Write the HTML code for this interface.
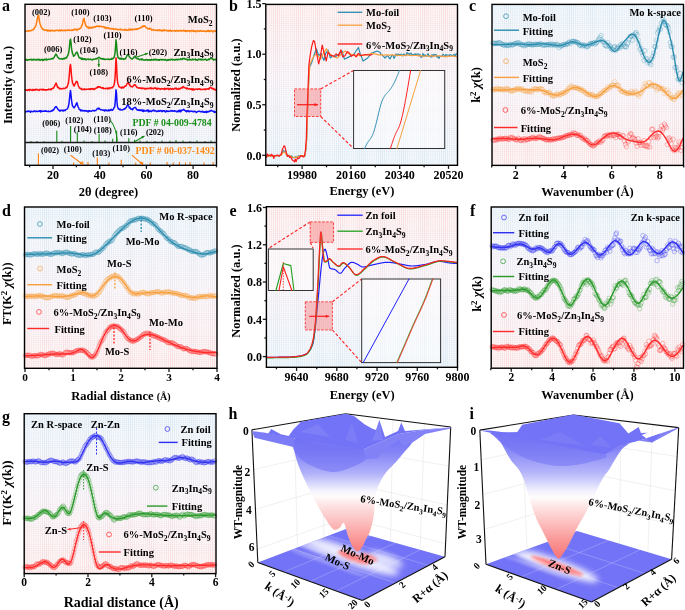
<!DOCTYPE html>
<html><head><meta charset="utf-8"><style>
html,body{margin:0;padding:0;background:#fff;}
svg{display:block;will-change:transform;}
</style></head><body>
<svg width="685" height="610" viewBox="0 0 685 610">
<rect width="685" height="610" fill="#fff"/>
<defs>
<pattern id="gridpat" width="2.1" height="2.1" patternUnits="userSpaceOnUse">
<rect x="0" y="0" width="0.75" height="2.1" fill="#fff" opacity="0.9"/>
<rect x="0" y="0" width="2.1" height="0.6" fill="#fff" opacity="0.55"/>
</pattern>
<mask id="gridmask" maskUnits="userSpaceOnUse" x="0" y="0" width="685" height="610"><rect width="685" height="610" fill="url(#gridpat)"/></mask>
</defs>
<defs><linearGradient id="g1" x1="0" y1="0" x2="0" y2="1"><stop offset="0" stop-color="#fef8f8"/><stop offset="0.45" stop-color="#fef8f8"/><stop offset="0.62" stop-color="#fcfbfd"/><stop offset="1" stop-color="#f7fafd"/></linearGradient></defs>
<rect x="25" y="4.3" width="191.5" height="161" fill="url(#g1)" stroke="none" stroke-width="1" />
<defs><linearGradient id="g2" x1="0" y1="0" x2="0" y2="1"><stop offset="0" stop-color="#f8d4d4"/><stop offset="0.45" stop-color="#f8d4d4"/><stop offset="0.62" stop-color="#ebe1ea"/><stop offset="1" stop-color="#d2e5f1"/></linearGradient></defs>
<rect x="25" y="4.3" width="191.5" height="161" fill="url(#g2)" mask="url(#gridmask)" opacity="0.8"/>
<text x="2" y="11" font-family="'Liberation Serif', serif" font-size="16" font-weight="bold" fill="#000" text-anchor="start" >a</text>
<path d="M25.5,31.24L26,31.31L26.5,31.07L27,30.81L27.5,30.92L28,30.68L28.5,30.99L29,31.38L29.5,30.67L30,30.54L30.5,30.83L31,30.67L31.5,30.45L32,29.93L32.5,30.04L33,30.05L33.5,29.02L34,28.92L34.5,27.87L35,27.35L35.5,26.14L36,25.26L36.5,22.9L37,20.78L37.5,17.76L38,15.55L38.5,14.99L39,18.05L39.5,21.18L40,23.74L40.5,25.02L41,26.7L41.5,27.45L42,28.18L42.5,29.32L43,29.03L43.5,29.57L44,30.1L44.5,29.75L45,30.05L45.5,30.23L46,30.29L46.5,29.91L47,30.42L47.5,30.91L48,29.93L48.5,30.8L49,30.56L49.5,30.31L50,31.25L50.5,30.83L51,30.15L51.5,30.6L52,30.78L52.5,30.51L53,30.82L53.5,30.55L54,30.8L54.5,31.07L55,30.32L55.5,30.62L56,30.38L56.5,30.58L57,30.11L57.5,30.31L58,30.44L58.5,30.81L59,30.88L59.5,30.01L60,30.18L60.5,30.67L61,29.74L61.5,30.27L62,30.39L62.5,30.85L63,30.64L63.5,30.28L64,30.25L64.5,30.28L65,30.89L65.5,30.19L66,30.22L66.5,30.43L67,30.25L67.5,30.21L68,29.87L68.5,30.24L69,30.07L69.5,30.61L70,30.41L70.5,30.15L71,30.36L71.5,29.98L72,30.44L72.5,30.04L73,30.21L73.5,29.52L74,30.05L74.5,29.29L75,29.12L75.5,29.67L76,29.4L76.5,29.7L77,30.34L77.5,29.17L78,29.12L78.5,29.27L79,29.2L79.5,28.74L80,28.43L80.5,28.35L81,27.72L81.5,26.36L82,25.48L82.5,23.71L83,20.89L83.5,19.07L84,18.36L84.5,20.92L85,23.05L85.5,24.84L86,25.8L86.5,26.73L87,26.56L87.5,27.16L88,27.87L88.5,27.11L89,28.2L89.5,27.3L90,28.15L90.5,27.54L91,28.04L91.5,27.73L92,27.05L92.5,27.91L93,27.86L93.5,27.21L94,27.01L94.5,26.92L95,26.51L95.5,27.11L96,26.42L96.5,26.49L97,26.15L97.5,26.14L98,25.86L98.5,26.72L99,26.23L99.5,26.64L100,26.35L100.5,26.17L101,26.39L101.5,26.41L102,26.73L102.5,26.72L103,26.88L103.5,26.64L104,26.98L104.5,27.98L105,27.31L105.5,27.31L106,27.93L106.5,28.43L107,27.55L107.5,28.1L108,28.06L108.5,27.76L109,28.73L109.5,28.55L110,28.67L110.5,28.46L111,28.95L111.5,28.67L112,28.87L112.5,28.59L113,28.61L113.5,29.55L114,28.95L114.5,29.28L115,29.2L115.5,29.1L116,29.11L116.5,29.54L117,29.24L117.5,29.32L118,29.4L118.5,29.83L119,29.68L119.5,29.59L120,29.28L120.5,29.02L121,29.86L121.5,29.89L122,29.52L122.5,29.78L123,29.88L123.5,29.92L124,29.96L124.5,29.5L125,30.2L125.5,29.25L126,30L126.5,29.88L127,30.02L127.5,30.38L128,30.24L128.5,29.33L129,29.14L129.5,30.02L130,29.37L130.5,29.72L131,30.01L131.5,29.13L132,28.96L132.5,29.77L133,29.68L133.5,29.55L134,29.62L134.5,29.27L135,29L135.5,29.42L136,29.07L136.5,28.76L137,29.43L137.5,29.12L138,29.16L138.5,28.52L139,28.45L139.5,28.11L140,27.89L140.5,27.97L141,27.29L141.5,27.31L142,26.91L142.5,27.15L143,25.67L143.5,26.33L144,26.01L144.5,26.23L145,26.04L145.5,26.78L146,27.61L146.5,27.71L147,28.12L147.5,28.3L148,29.07L148.5,28.89L149,28.32L149.5,29.02L150,28.71L150.5,28.38L151,29.44L151.5,30.19L152,29.81L152.5,29.46L153,29.6L153.5,30.38L154,30.09L154.5,30.09L155,30.1L155.5,30.17L156,30.47L156.5,30.41L157,30.32L157.5,29.91L158,30.47L158.5,30.08L159,30.72L159.5,29.91L160,30.33L160.5,30.39L161,29.95L161.5,31.03L162,30.95L162.5,30.3L163,30.74L163.5,30.62L164,29.58L164.5,30.6L165,30.5L165.5,30.56L166,30.17L166.5,30.46L167,30.51L167.5,31L168,30.71L168.5,30.6L169,31.15L169.5,30.43L170,30.49L170.5,30L171,31.2L171.5,30.99L172,30.99L172.5,30.91L173,30.72L173.5,30.77L174,30.61L174.5,30.64L175,30.74L175.5,31.25L176,30.93L176.5,30.72L177,30.55L177.5,30.53L178,31.33L178.5,30.95L179,30.8L179.5,30.67L180,30.41L180.5,30.78L181,31.12L181.5,30.68L182,30.74L182.5,30.75L183,30.88L183.5,30.29L184,30.77L184.5,30.56L185,31.18L185.5,30.6L186,31.08L186.5,31.42L187,30.78L187.5,30.69L188,30.98L188.5,30.91L189,30.57L189.5,31.09L190,31.64L190.5,30.85L191,30.88L191.5,30.59L192,31.07L192.5,30.53L193,30.59L193.5,31.43L194,30.67L194.5,31.37L195,31.53L195.5,31.1L196,31.21L196.5,31.7L197,30.96L197.5,30.83L198,30.57L198.5,31.06L199,31.57L199.5,31.39L200,30.74L200.5,30.77L201,30.9L201.5,31.19L202,31.02L202.5,31.17L203,31.21L203.5,31.01L204,31.1L204.5,31.19L205,31.1L205.5,31.31L206,31.8L206.5,31.35L207,31.17L207.5,30.57L208,31.3L208.5,30.49L209,30.68L209.5,31.48L210,31.44L210.5,31.14L211,30.6L211.5,31.08L212,30.98L212.5,31.44L213,32.02L213.5,31.31L214,30.97L214.5,30.84L215,31.23L215.5,31.2L216,30.86" fill="none" stroke="#ff7f0e" stroke-width="1.5" stroke-linejoin="round" stroke-linecap="round" />
<path d="M25.5,59.8L26,59.36L26.5,60.15L27,60.13L27.5,60.14L28,59.59L28.5,59.93L29,59.71L29.5,59.62L30,59.63L30.5,59.29L31,59.24L31.5,60.02L32,59.68L32.5,59.82L33,60.09L33.5,59.13L34,59.46L34.5,59.8L35,59.87L35.5,59.6L36,60.09L36.5,59.8L37,59.3L37.5,59.39L38,60L38.5,59.87L39,59.04L39.5,60.18L40,59.91L40.5,60.17L41,59.56L41.5,59.58L42,59.28L42.5,60.56L43,59.6L43.5,60.21L44,59.42L44.5,59.7L45,59.04L45.5,59.48L46,59.95L46.5,59.15L47,59.94L47.5,59.67L48,59.16L48.5,59.32L49,59.3L49.5,59.4L50,59.18L50.5,59.02L51,59.12L51.5,58.77L52,58.54L52.5,58.8L53,58.87L53.5,57.66L54,57.67L54.5,56.66L55,55.48L55.5,54.97L56,53.92L56.5,55.17L57,55.5L57.5,56.95L58,57.49L58.5,57.81L59,58.61L59.5,58.57L60,58.99L60.5,58.85L61,58.55L61.5,58.93L62,58.99L62.5,59.29L63,58.61L63.5,58.85L64,58.19L64.5,58.91L65,58.16L65.5,57.72L66,58.07L66.5,58.12L67,56.69L67.5,56.1L68,55.1L68.5,53.2L69,50.86L69.5,45.97L70,40.63L70.5,39.12L71,42.53L71.5,48.11L72,51.25L72.5,53.34L73,54.34L73.5,56.24L74,55.65L74.5,55.63L75,54.92L75.5,53.97L76,52.72L76.5,52.67L77,52.13L77.5,53.31L78,54.92L78.5,55.93L79,57.46L79.5,58.04L80,57.82L80.5,57.96L81,58.54L81.5,59.31L82,57.97L82.5,59.24L83,58.76L83.5,59.57L84,58.88L84.5,59.2L85,58.81L85.5,59.03L86,59.88L86.5,59.71L87,59.3L87.5,59.15L88,58.8L88.5,59.34L89,59.47L89.5,59.46L90,59.45L90.5,59.09L91,59.46L91.5,59.46L92,59.91L92.5,60.1L93,59.37L93.5,59.12L94,59.32L94.5,59.08L95,58.96L95.5,59.09L96,58.61L96.5,59.01L97,58.52L97.5,58.34L98,57.87L98.5,57.45L99,57.35L99.5,57.8L100,58L100.5,58.58L101,58.75L101.5,58.47L102,59.12L102.5,58.73L103,59.06L103.5,59.23L104,58.65L104.5,59.44L105,59.49L105.5,59.4L106,59.31L106.5,59.34L107,59.13L107.5,59.37L108,59.26L108.5,59.47L109,58.99L109.5,59.47L110,59.4L110.5,59.24L111,59.07L111.5,59.32L112,58.41L112.5,58.97L113,58.61L113.5,58.18L114,57.47L114.5,55.73L115,53.06L115.5,47.37L116,39.65L116.5,43.75L117,50.7L117.5,55.24L118,57.26L118.5,58.13L119,58.38L119.5,58.07L120,59.14L120.5,58.89L121,58.13L121.5,59.19L122,58.55L122.5,58.61L123,58.81L123.5,59.41L124,58.73L124.5,58.79L125,59.08L125.5,58.69L126,57.61L126.5,56.86L127,55.57L127.5,54.81L128,54.75L128.5,55.18L129,56.03L129.5,57.25L130,57.32L130.5,58.04L131,58.61L131.5,58.73L132,58.97L132.5,58.71L133,58.31L133.5,58.2L134,57.14L134.5,56.18L135,56.72L135.5,57.11L136,58.03L136.5,57.9L137,58.73L137.5,58.88L138,58.94L138.5,58.55L139,59.3L139.5,59.79L140,59.65L140.5,59.34L141,59.57L141.5,59.86L142,58.65L142.5,59.59L143,59.83L143.5,59.89L144,60.26L144.5,60.07L145,59.79L145.5,59.79L146,59.97L146.5,59.51L147,59.69L147.5,60.03L148,60.4L148.5,59.66L149,59.7L149.5,59.79L150,60.2L150.5,59.72L151,60.24L151.5,59.39L152,59.67L152.5,59.67L153,60.01L153.5,60.11L154,59.21L154.5,59.42L155,59.86L155.5,59.51L156,59.21L156.5,60.11L157,59.92L157.5,59.92L158,59.58L158.5,60.11L159,59.67L159.5,60.14L160,59.43L160.5,59.45L161,59.82L161.5,59.51L162,59.99L162.5,59.84L163,59.43L163.5,59.78L164,59.63L164.5,60.07L165,59.53L165.5,59.6L166,60.17L166.5,60.53L167,60.45L167.5,59.77L168,59.82L168.5,60.28L169,59.7L169.5,59.4L170,59.78L170.5,59.9L171,59.45L171.5,59.16L172,59.23L172.5,59.96L173,59.46L173.5,59.67L174,59.79L174.5,59.92L175,59.58L175.5,59.86L176,59.36L176.5,59.53L177,59.29L177.5,60.02L178,59.59L178.5,59.31L179,59.4L179.5,59.39L180,59.65L180.5,58.75L181,58.82L181.5,58.89L182,59.69L182.5,58.89L183,58.27L183.5,58.43L184,58.96L184.5,58.37L185,58.58L185.5,59.36L186,59.3L186.5,59.5L187,59.19L187.5,60.12L188,60.1L188.5,59.75L189,59.82L189.5,58.9L190,59.86L190.5,59.58L191,59.82L191.5,59.92L192,59.57L192.5,59.11L193,59.83L193.5,59.45L194,59.6L194.5,59.51L195,59.6L195.5,58.92L196,60.15L196.5,59.82L197,60.12L197.5,60.42L198,59.74L198.5,59.1L199,59.42L199.5,59.31L200,59.55L200.5,59.75L201,59.02L201.5,59.84L202,59.19L202.5,59.81L203,59.67L203.5,59.59L204,59.66L204.5,59.48L205,59.44L205.5,59.05L206,59.6L206.5,60.23L207,60.23L207.5,59.95L208,59.66L208.5,59.08L209,59.69L209.5,59L210,58.8L210.5,58.55L211,58.62L211.5,58.5L212,58.8L212.5,58.64L213,59.05L213.5,60.12L214,59.39L214.5,59.41L215,59.73L215.5,59.84L216,59.23" fill="none" stroke="#168a16" stroke-width="1.5" stroke-linejoin="round" stroke-linecap="round" />
<path d="M25.5,89.88L26,90.27L26.5,90.04L27,89.99L27.5,90.49L28,89.71L28.5,89.97L29,89.76L29.5,90.46L30,89.25L30.5,89.7L31,89.75L31.5,90.16L32,90.14L32.5,90.42L33,89.38L33.5,90.19L34,89.82L34.5,89.69L35,90.11L35.5,89.59L36,89.18L36.5,89.78L37,89.38L37.5,89.67L38,90.03L38.5,90L39,90.44L39.5,89.81L40,89.34L40.5,89.61L41,89.54L41.5,89.43L42,90L42.5,89.62L43,89.14L43.5,90.07L44,89.78L44.5,89.93L45,89.83L45.5,90L46,89.77L46.5,90.17L47,89.87L47.5,89.83L48,89.81L48.5,89.12L49,89.54L49.5,89.45L50,89.56L50.5,88.94L51,89.89L51.5,89.24L52,88.62L52.5,88.23L53,88.43L53.5,88.07L54,87.22L54.5,86.58L55,85.06L55.5,84.11L56,83L56.5,83.88L57,85.57L57.5,87.36L58,86.99L58.5,87.78L59,88.04L59.5,88.87L60,88.37L60.5,88.71L61,88.94L61.5,88.64L62,88.65L62.5,88.8L63,88.19L63.5,88.35L64,88.62L64.5,88.68L65,88.38L65.5,87.59L66,87.72L66.5,87.72L67,87.01L67.5,85.87L68,84.19L68.5,82.53L69,78.54L69.5,72.77L70,66.22L70.5,64.56L71,68.97L71.5,75.73L72,79.69L72.5,82.9L73,83.9L73.5,84.85L74,86.03L74.5,85.23L75,84.11L75.5,83.11L76,81.89L76.5,81.42L77,81.4L77.5,82.52L78,84.66L78.5,86.05L79,87L79.5,88.07L80,88.18L80.5,88.66L81,88.22L81.5,89.08L82,89.64L82.5,89.27L83,89.17L83.5,89.19L84,89.8L84.5,88.88L85,89.19L85.5,89.41L86,89.52L86.5,89.11L87,89.37L87.5,89.16L88,89.29L88.5,89.19L89,88.82L89.5,89.19L90,89.48L90.5,88.81L91,89.03L91.5,89.3L92,88.65L92.5,89.04L93,88.54L93.5,89.23L94,89.55L94.5,89.33L95,88.41L95.5,88.57L96,88.14L96.5,87.88L97,88.07L97.5,86.73L98,87.24L98.5,86.64L99,87.11L99.5,86.83L100,86.79L100.5,87.43L101,87.87L101.5,87.85L102,88.2L102.5,87.98L103,87.52L103.5,88.66L104,88.65L104.5,88.49L105,88.49L105.5,88.84L106,88.31L106.5,88.22L107,88.39L107.5,88.85L108,87.91L108.5,88.78L109,88.09L109.5,87.86L110,88.61L110.5,88.04L111,87.5L111.5,87.67L112,87.9L112.5,87.69L113,86.68L113.5,86.29L114,85.25L114.5,82.67L115,78.75L115.5,69.53L116,57.77L116.5,64.08L117,75.68L117.5,81.43L118,83.92L118.5,85.35L119,86.67L119.5,86.81L120,87.34L120.5,87.62L121,87.51L121.5,88.16L122,87.08L122.5,87.63L123,87.17L123.5,87.83L124,87.63L124.5,86.13L125,86.18L125.5,86.35L126,85.83L126.5,85.04L127,83.82L127.5,83.11L128,82.79L128.5,82.92L129,84.21L129.5,84L130,85.77L130.5,85.73L131,86.8L131.5,86.61L132,86.47L132.5,86.88L133,86.25L133.5,85.86L134,84.97L134.5,84.75L135,84.71L135.5,85.54L136,86.03L136.5,87.13L137,87.23L137.5,87.49L138,87.92L138.5,88.24L139,87.85L139.5,87.97L140,88.06L140.5,88.2L141,87.9L141.5,88.61L142,88.15L142.5,88.48L143,88.05L143.5,88.49L144,88.52L144.5,88.25L145,89.13L145.5,88.57L146,89.07L146.5,88.8L147,88.25L147.5,88.36L148,88.66L148.5,88.54L149,88.55L149.5,88.44L150,87.92L150.5,88.49L151,87.8L151.5,88.72L152,88.34L152.5,88.35L153,88.54L153.5,88.72L154,88.13L154.5,88.03L155,88.28L155.5,87.95L156,88.33L156.5,89.23L157,88.32L157.5,88.92L158,88.22L158.5,88.82L159,88.61L159.5,88.71L160,88.93L160.5,89.36L161,88.82L161.5,88.8L162,88.42L162.5,88.98L163,88.69L163.5,89.08L164,88.78L164.5,89.41L165,88.11L165.5,88.71L166,89.13L166.5,88.7L167,88.56L167.5,88.75L168,88.36L168.5,88.89L169,89.71L169.5,89.26L170,88.48L170.5,88.56L171,88.73L171.5,89.23L172,88.59L172.5,88.64L173,89.19L173.5,89.19L174,88.75L174.5,88.49L175,88.34L175.5,88.63L176,88.09L176.5,89.12L177,88.62L177.5,89L178,89.46L178.5,89.18L179,88.32L179.5,88.97L180,88.99L180.5,88.22L181,87.99L181.5,88.09L182,87.31L182.5,88.07L183,86.42L183.5,86.73L184,87.1L184.5,87.38L185,87.85L185.5,88.18L186,88.25L186.5,88.9L187,87.89L187.5,88.75L188,88.58L188.5,88.94L189,89.02L189.5,88.67L190,88.8L190.5,89.33L191,89.2L191.5,88.86L192,89.83L192.5,89.94L193,88.64L193.5,89.27L194,90.06L194.5,89.47L195,89.28L195.5,89.14L196,89.03L196.5,89.16L197,89.05L197.5,89.51L198,89.12L198.5,89.11L199,88.85L199.5,89.26L200,88.97L200.5,89.22L201,89.65L201.5,89.42L202,89.47L202.5,89.42L203,89.31L203.5,89.25L204,89.18L204.5,89.54L205,88.88L205.5,89.72L206,89.23L206.5,88.93L207,88.97L207.5,88.85L208,89.06L208.5,88.63L209,89.13L209.5,88.25L210,87.5L210.5,87.83L211,87.3L211.5,88.09L212,88.69L212.5,88.8L213,88.32L213.5,88.69L214,89.71L214.5,89.3L215,89.27L215.5,89.7L216,90.23" fill="none" stroke="#ff1010" stroke-width="1.5" stroke-linejoin="round" stroke-linecap="round" />
<path d="M25.5,111.91L26,111.51L26.5,111.58L27,111.67L27.5,111.24L28,111.08L28.5,111.47L29,111.12L29.5,111.43L30,111.48L30.5,112.27L31,111.15L31.5,111.4L32,111.39L32.5,111.59L33,111.81L33.5,111.27L34,111.15L34.5,110.86L35,111.11L35.5,111.62L36,111.44L36.5,111.07L37,111.29L37.5,111.43L38,111.59L38.5,111.21L39,111.32L39.5,110.77L40,111L40.5,111.96L41,110.63L41.5,111.27L42,111.46L42.5,111.24L43,111.09L43.5,111.34L44,111.35L44.5,111.32L45,110.68L45.5,111.27L46,111.01L46.5,111.1L47,111.36L47.5,111.48L48,111.55L48.5,111.04L49,111.5L49.5,111.55L50,111.49L50.5,111.53L51,110.92L51.5,110.81L52,111.04L52.5,110.11L53,110.43L53.5,109.84L54,109.41L54.5,108.22L55,107.55L55.5,106.81L56,106.61L56.5,107.13L57,107.78L57.5,108.69L58,109.15L58.5,110.04L59,110.11L59.5,110.61L60,111.15L60.5,110.61L61,110.14L61.5,110.39L62,110.19L62.5,110.26L63,111.1L63.5,110.67L64,109.98L64.5,110.63L65,110.7L65.5,109.94L66,109.58L66.5,109.34L67,109.06L67.5,108.46L68,107.56L68.5,105.84L69,103.03L69.5,98.72L70,93.23L70.5,90.53L71,94.81L71.5,99.99L72,103.28L72.5,105.83L73,106.55L73.5,106.92L74,107.87L74.5,107.33L75,106.48L75.5,105.61L76,104.35L76.5,103.33L77,102.87L77.5,104.94L78,106.53L78.5,107.54L79,108.8L79.5,109.75L80,109.58L80.5,109.65L81,110.97L81.5,110.27L82,110.12L82.5,110.72L83,110.86L83.5,110.52L84,111.09L84.5,110.68L85,110.55L85.5,110.96L86,111.18L86.5,110.7L87,111.04L87.5,110.89L88,111.91L88.5,110.66L89,111.39L89.5,110.87L90,110.82L90.5,111.1L91,111.13L91.5,111.23L92,110.86L92.5,110.49L93,110.46L93.5,110.75L94,110.69L94.5,110.88L95,110.4L95.5,110.46L96,110.42L96.5,109.69L97,108.81L97.5,108.58L98,108.18L98.5,109.04L99,108.15L99.5,109.04L100,109.08L100.5,109.79L101,109.83L101.5,109.68L102,109.84L102.5,110.09L103,110.24L103.5,110.08L104,110.31L104.5,110.94L105,109.81L105.5,110.52L106,110.13L106.5,110.52L107,110.75L107.5,110.43L108,110.71L108.5,109.86L109,110.77L109.5,110.14L110,110.52L110.5,110.31L111,109.26L111.5,109.79L112,109.99L112.5,110.25L113,109.51L113.5,109.04L114,107.68L114.5,107.26L115,104.49L115.5,97.71L116,89.78L116.5,93.56L117,102.16L117.5,106.7L118,107.83L118.5,108.96L119,109.23L119.5,109L120,110.01L120.5,109.22L121,109.64L121.5,109.84L122,110.05L122.5,109.85L123,109.78L123.5,109.28L124,108.95L124.5,109.23L125,108.68L125.5,108.11L126,107.61L126.5,107.18L127,105.84L127.5,105.21L128,104.75L128.5,105.75L129,106.64L129.5,108.06L130,107.53L130.5,108.31L131,109.21L131.5,109.02L132,109.08L132.5,109.78L133,108.91L133.5,108.29L134,107.68L134.5,107.61L135,107.42L135.5,107.39L136,108.29L136.5,109.41L137,109.82L137.5,109.65L138,110.27L138.5,110.38L139,109.65L139.5,110.24L140,110.55L140.5,110.25L141,109.75L141.5,110.43L142,110.82L142.5,111.14L143,109.84L143.5,111.55L144,110.26L144.5,111.01L145,111.12L145.5,111.05L146,110.77L146.5,110.33L147,110.97L147.5,110.51L148,109.89L148.5,111.78L149,111.05L149.5,111.45L150,110.51L150.5,111.35L151,111.4L151.5,111.4L152,110.86L152.5,110.46L153,110.83L153.5,110.13L154,110.31L154.5,110.95L155,110.58L155.5,110.88L156,110.91L156.5,111.63L157,111.42L157.5,110.96L158,111.41L158.5,110.72L159,110.89L159.5,111.33L160,110.59L160.5,110.93L161,110.58L161.5,111.09L162,111.63L162.5,110.8L163,111.15L163.5,110.77L164,110.69L164.5,110.67L165,111.62L165.5,111.94L166,111.29L166.5,110.88L167,111.38L167.5,111.03L168,111.43L168.5,111.26L169,111.26L169.5,111.38L170,110.98L170.5,111.04L171,110.59L171.5,111.04L172,110.7L172.5,111.15L173,110.87L173.5,111.25L174,111.37L174.5,110.72L175,110.93L175.5,110.88L176,111.47L176.5,111.8L177,111.5L177.5,111.06L178,111.68L178.5,110.61L179,111.64L179.5,110.84L180,110.03L180.5,111.85L181,111.36L181.5,110.29L182,110.5L182.5,110.12L183,110L183.5,109.33L184,109.67L184.5,110.29L185,110.47L185.5,111.05L186,110.85L186.5,111.8L187,110.84L187.5,111.26L188,110.57L188.5,110.86L189,111.8L189.5,111.04L190,111.59L190.5,111.41L191,111.09L191.5,111.35L192,111.31L192.5,111.34L193,111.79L193.5,111.77L194,111.35L194.5,111.25L195,111.67L195.5,111.55L196,111.96L196.5,112.54L197,111.91L197.5,111.61L198,111.57L198.5,111.34L199,111.33L199.5,111.31L200,111.53L200.5,111.52L201,111.94L201.5,111.54L202,111.61L202.5,111.26L203,112.26L203.5,111.87L204,112.31L204.5,111.96L205,112.2L205.5,111.58L206,111.9L206.5,112.57L207,111.16L207.5,111.96L208,112.07L208.5,111.54L209,111.53L209.5,111.55L210,110.69L210.5,110.91L211,110.39L211.5,110.54L212,110.74L212.5,111.11L213,111.39L213.5,111.64L214,111.07L214.5,112.37L215,112.14L215.5,112.04L216,111.69" fill="none" stroke="#1010ff" stroke-width="1.5" stroke-linejoin="round" stroke-linecap="round" />
<line x1="56.8" y1="142.5" x2="56.8" y2="130.7" stroke="#168a16" stroke-width="1.1" />
<line x1="70.6" y1="142.5" x2="70.6" y2="126" stroke="#168a16" stroke-width="1.1" />
<line x1="77.3" y1="142.5" x2="77.3" y2="132.2" stroke="#168a16" stroke-width="1.1" />
<line x1="99.1" y1="142.5" x2="99.1" y2="133.7" stroke="#168a16" stroke-width="1.1" />
<line x1="112.7" y1="142.5" x2="112.7" y2="138.8" stroke="#168a16" stroke-width="1.1" />
<line x1="116.6" y1="142.5" x2="116.6" y2="130.7" stroke="#168a16" stroke-width="1.1" />
<line x1="128.8" y1="142.5" x2="128.8" y2="138.3" stroke="#168a16" stroke-width="1.1" />
<line x1="134.5" y1="142.5" x2="134.5" y2="139.8" stroke="#168a16" stroke-width="1.1" />
<line x1="31" y1="142.5" x2="31" y2="141" stroke="#168a16" stroke-width="1.1" />
<line x1="37" y1="142.5" x2="37" y2="141" stroke="#168a16" stroke-width="1.1" />
<line x1="44" y1="142.5" x2="44" y2="141.2" stroke="#168a16" stroke-width="1.1" />
<line x1="62" y1="142.5" x2="62" y2="140.8" stroke="#168a16" stroke-width="1.1" />
<line x1="84" y1="142.5" x2="84" y2="140.5" stroke="#168a16" stroke-width="1.1" />
<line x1="92" y1="142.5" x2="92" y2="141" stroke="#168a16" stroke-width="1.1" />
<line x1="105" y1="142.5" x2="105" y2="140.5" stroke="#168a16" stroke-width="1.1" />
<line x1="140" y1="142.5" x2="140" y2="140.5" stroke="#168a16" stroke-width="1.1" />
<line x1="147" y1="142.5" x2="147" y2="140.8" stroke="#168a16" stroke-width="1.1" />
<line x1="155" y1="142.5" x2="155" y2="141" stroke="#168a16" stroke-width="1.1" />
<line x1="162" y1="142.5" x2="162" y2="140.5" stroke="#168a16" stroke-width="1.1" />
<line x1="170" y1="142.5" x2="170" y2="140.8" stroke="#168a16" stroke-width="1.1" />
<line x1="176" y1="142.5" x2="176" y2="140" stroke="#168a16" stroke-width="1.1" />
<line x1="183" y1="142.5" x2="183" y2="140.5" stroke="#168a16" stroke-width="1.1" />
<line x1="190" y1="142.5" x2="190" y2="141" stroke="#168a16" stroke-width="1.1" />
<line x1="197" y1="142.5" x2="197" y2="140.6" stroke="#168a16" stroke-width="1.1" />
<line x1="205" y1="142.5" x2="205" y2="141" stroke="#168a16" stroke-width="1.1" />
<line x1="211" y1="142.5" x2="211" y2="140.5" stroke="#168a16" stroke-width="1.1" />
<line x1="38.4" y1="165.3" x2="38.4" y2="153.6" stroke="#ff7f0e" stroke-width="1.1" />
<line x1="73.6" y1="165.3" x2="73.6" y2="162.5" stroke="#ff7f0e" stroke-width="1.1" />
<line x1="82.8" y1="165.3" x2="82.8" y2="161.5" stroke="#ff7f0e" stroke-width="1.1" />
<line x1="88" y1="165.3" x2="88" y2="162" stroke="#ff7f0e" stroke-width="1.1" />
<line x1="97.3" y1="165.3" x2="97.3" y2="157.6" stroke="#ff7f0e" stroke-width="1.1" />
<line x1="108.9" y1="165.3" x2="108.9" y2="162.5" stroke="#ff7f0e" stroke-width="1.1" />
<line x1="121.2" y1="165.3" x2="121.2" y2="159.8" stroke="#ff7f0e" stroke-width="1.1" />
<line x1="135.7" y1="165.3" x2="135.7" y2="162.5" stroke="#ff7f0e" stroke-width="1.1" />
<line x1="142.6" y1="165.3" x2="142.6" y2="162" stroke="#ff7f0e" stroke-width="1.1" />
<line x1="150.3" y1="165.3" x2="150.3" y2="162.5" stroke="#ff7f0e" stroke-width="1.1" />
<line x1="167.1" y1="165.3" x2="167.1" y2="162" stroke="#ff7f0e" stroke-width="1.1" />
<line x1="173.3" y1="165.3" x2="173.3" y2="162.5" stroke="#ff7f0e" stroke-width="1.1" />
<line x1="179.4" y1="165.3" x2="179.4" y2="162" stroke="#ff7f0e" stroke-width="1.1" />
<line x1="185.5" y1="165.3" x2="185.5" y2="162.5" stroke="#ff7f0e" stroke-width="1.1" />
<line x1="190" y1="165.3" x2="190" y2="162" stroke="#ff7f0e" stroke-width="1.1" />
<line x1="204" y1="165.3" x2="204" y2="162.5" stroke="#ff7f0e" stroke-width="1.1" />
<line x1="213.1" y1="165.3" x2="213.1" y2="162" stroke="#ff7f0e" stroke-width="1.1" />
<rect x="25" y="4.3" width="191.5" height="161" fill="none" stroke="#000" stroke-width="1.4" />
<line x1="25" y1="142.5" x2="216.5" y2="142.5" stroke="#1a1a1a" stroke-width="1.3" />
<line x1="53" y1="165.3" x2="53" y2="168.9" stroke="#1a1a1a" stroke-width="1.3" />
<line x1="99.7" y1="165.3" x2="99.7" y2="168.9" stroke="#1a1a1a" stroke-width="1.3" />
<line x1="146.4" y1="165.3" x2="146.4" y2="168.9" stroke="#1a1a1a" stroke-width="1.3" />
<line x1="193.1" y1="165.3" x2="193.1" y2="168.9" stroke="#1a1a1a" stroke-width="1.3" />
<line x1="29.65" y1="165.3" x2="29.65" y2="167.3" stroke="#1a1a1a" stroke-width="1.3" />
<line x1="76.35" y1="165.3" x2="76.35" y2="167.3" stroke="#1a1a1a" stroke-width="1.3" />
<line x1="123.05" y1="165.3" x2="123.05" y2="167.3" stroke="#1a1a1a" stroke-width="1.3" />
<line x1="169.75" y1="165.3" x2="169.75" y2="167.3" stroke="#1a1a1a" stroke-width="1.3" />
<line x1="216.45" y1="165.3" x2="216.45" y2="167.3" stroke="#1a1a1a" stroke-width="1.3" />
<text x="53" y="179.2" font-family="'Liberation Serif', serif" font-size="12" font-weight="bold" fill="#000" text-anchor="middle" >20</text>
<text x="99.7" y="179.2" font-family="'Liberation Serif', serif" font-size="12" font-weight="bold" fill="#000" text-anchor="middle" >40</text>
<text x="146.4" y="179.2" font-family="'Liberation Serif', serif" font-size="12" font-weight="bold" fill="#000" text-anchor="middle" >60</text>
<text x="193.1" y="179.2" font-family="'Liberation Serif', serif" font-size="12" font-weight="bold" fill="#000" text-anchor="middle" >80</text>
<text x="108.5" y="195.5" font-family="'Liberation Serif', serif" font-size="12.5" font-weight="bold" fill="#000" text-anchor="middle" >2θ (degree)</text>
<text x="12.3" y="85" font-family="'Liberation Serif', serif" font-size="12.5" font-weight="bold" fill="#000" text-anchor="middle" transform="rotate(-90 12.3 85)" >Intensity (a.u.)</text>
<text x="41.2" y="14.7" font-family="'Liberation Serif', serif" font-size="8.5" font-weight="bold" fill="#000" text-anchor="middle" >(002)</text>
<text x="80.5" y="14.5" font-family="'Liberation Serif', serif" font-size="8.5" font-weight="bold" fill="#000" text-anchor="middle" >(100)</text>
<text x="102.5" y="21" font-family="'Liberation Serif', serif" font-size="8.5" font-weight="bold" fill="#000" text-anchor="middle" >(103)</text>
<text x="143.5" y="20.8" font-family="'Liberation Serif', serif" font-size="8.5" font-weight="bold" fill="#000" text-anchor="middle" >(110)</text>
<text x="53.1" y="51.5" font-family="'Liberation Serif', serif" font-size="8.5" font-weight="bold" fill="#000" text-anchor="middle" >(006)</text>
<text x="82.5" y="42.3" font-family="'Liberation Serif', serif" font-size="8.5" font-weight="bold" fill="#000" text-anchor="middle" >(102)</text>
<text x="89" y="53" font-family="'Liberation Serif', serif" font-size="8.5" font-weight="bold" fill="#000" text-anchor="middle" >(104)</text>
<text x="112.6" y="38.3" font-family="'Liberation Serif', serif" font-size="8.5" font-weight="bold" fill="#000" text-anchor="middle" >(110)</text>
<text x="128.5" y="55" font-family="'Liberation Serif', serif" font-size="8.5" font-weight="bold" fill="#000" text-anchor="middle" >(116)</text>
<text x="157.9" y="55" font-family="'Liberation Serif', serif" font-size="8.5" font-weight="bold" fill="#000" text-anchor="middle" >(202)</text>
<text x="98.8" y="75" font-family="'Liberation Serif', serif" font-size="8.5" font-weight="bold" fill="#000" text-anchor="middle" >(108)</text>
<line x1="98.8" y1="59" x2="98.8" y2="67" stroke="#168a16" stroke-width="1.1" />
<path d="M98.8,67L100.15,64L97.45,64Z" fill="#168a16"/>
<line x1="136" y1="57.3" x2="148" y2="53.2" stroke="#168a16" stroke-width="1.1" />
<path d="M148,53.2L144.72,52.89L145.6,55.45Z" fill="#168a16"/>
<text x="212.5" y="23" font-family="'Liberation Serif', serif" font-size="10.5" font-weight="bold" fill="#000" text-anchor="end" >MoS<tspan dy="2.94" font-size="7.56">2</tspan><tspan dy="-2.94"></tspan></text>
<text x="213.5" y="55.5" font-family="'Liberation Serif', serif" font-size="10.5" font-weight="bold" fill="#000" text-anchor="end" >Zn<tspan dy="2.94" font-size="7.56">3</tspan><tspan dy="-2.94">In</tspan><tspan dy="2.94" font-size="7.56">4</tspan><tspan dy="-2.94">S</tspan><tspan dy="2.94" font-size="7.56">9</tspan><tspan dy="-2.94"></tspan></text>
<text x="213.5" y="82.7" font-family="'Liberation Serif', serif" font-size="10.5" font-weight="bold" fill="#000" text-anchor="end" >6%-MoS<tspan dy="2.94" font-size="7.56">2</tspan><tspan dy="-2.94">/Zn</tspan><tspan dy="2.94" font-size="7.56">3</tspan><tspan dy="-2.94">In</tspan><tspan dy="2.94" font-size="7.56">4</tspan><tspan dy="-2.94">S</tspan><tspan dy="2.94" font-size="7.56">9</tspan><tspan dy="-2.94"></tspan></text>
<text x="213.5" y="105.2" font-family="'Liberation Serif', serif" font-size="10.5" font-weight="bold" fill="#000" text-anchor="end" >18%-MoS<tspan dy="2.94" font-size="7.56">2</tspan><tspan dy="-2.94">/Zn</tspan><tspan dy="2.94" font-size="7.56">3</tspan><tspan dy="-2.94">In</tspan><tspan dy="2.94" font-size="7.56">4</tspan><tspan dy="-2.94">S</tspan><tspan dy="2.94" font-size="7.56">9</tspan><tspan dy="-2.94"></tspan></text>
<text x="51.3" y="126" font-family="'Liberation Serif', serif" font-size="8.3" font-weight="bold" fill="#000" text-anchor="middle" >(006)</text>
<text x="74.3" y="122.8" font-family="'Liberation Serif', serif" font-size="8.3" font-weight="bold" fill="#000" text-anchor="middle" >(102)</text>
<text x="82.8" y="132" font-family="'Liberation Serif', serif" font-size="8.3" font-weight="bold" fill="#000" text-anchor="middle" >(104)</text>
<text x="102.8" y="132.7" font-family="'Liberation Serif', serif" font-size="8.3" font-weight="bold" fill="#000" text-anchor="middle" >(108)</text>
<text x="102.2" y="121.9" font-family="'Liberation Serif', serif" font-size="8.3" font-weight="bold" fill="#000" text-anchor="middle" >(110)</text>
<text x="128.8" y="135.1" font-family="'Liberation Serif', serif" font-size="8.3" font-weight="bold" fill="#000" text-anchor="middle" >(116)</text>
<text x="154.9" y="135.1" font-family="'Liberation Serif', serif" font-size="8.3" font-weight="bold" fill="#000" text-anchor="middle" >(202)</text>
<path d="M110.4,120.5 Q116.5,128 117.3,141.5" fill="none" stroke="#168a16" stroke-width="1.1"/>
<line x1="135" y1="141.4" x2="144.5" y2="136" stroke="#168a16" stroke-width="1.1" />
<path d="M144.5,136L141.22,136.31L142.56,138.66Z" fill="#168a16"/>
<text x="211.6" y="125.5" font-family="'Liberation Serif', serif" font-size="9.8" font-weight="bold" fill="#1a8f1a" text-anchor="end" >PDF # 04-009-4784</text>
<text x="50" y="152.6" font-family="'Liberation Serif', serif" font-size="8.3" font-weight="bold" fill="#000" text-anchor="middle" >(002)</text>
<text x="72.7" y="151.7" font-family="'Liberation Serif', serif" font-size="8.3" font-weight="bold" fill="#000" text-anchor="middle" >(100)</text>
<text x="101.2" y="155.6" font-family="'Liberation Serif', serif" font-size="8.3" font-weight="bold" fill="#000" text-anchor="middle" >(103)</text>
<text x="121.2" y="151" font-family="'Liberation Serif', serif" font-size="8.3" font-weight="bold" fill="#000" text-anchor="middle" >(110)</text>
<line x1="70.6" y1="155.2" x2="82.8" y2="164.4" stroke="#ff7f0e" stroke-width="1.1" />
<path d="M82.8,164.4L81.22,161.52L79.59,163.67Z" fill="#ff7f0e"/>
<line x1="131.9" y1="155.2" x2="142.6" y2="164.4" stroke="#ff7f0e" stroke-width="1.1" />
<path d="M142.6,164.4L141.21,161.42L139.45,163.47Z" fill="#ff7f0e"/>
<text x="214.7" y="154" font-family="'Liberation Serif', serif" font-size="9.8" font-weight="bold" fill="#ff8c1a" text-anchor="end" >PDF # 00-037-1492</text>
<defs><linearGradient id="g3" x1="0" y1="0" x2="0" y2="1"><stop offset="0" stop-color="#fef8f8"/><stop offset="0.5" stop-color="#fcfbfd"/><stop offset="1" stop-color="#f7fafd"/></linearGradient></defs>
<rect x="265.8" y="4.4" width="191.7" height="160.9" fill="url(#g3)" stroke="none" stroke-width="1" />
<defs><linearGradient id="g4" x1="0" y1="0" x2="0" y2="1"><stop offset="0" stop-color="#f8d4d4"/><stop offset="0.5" stop-color="#ebe1ea"/><stop offset="1" stop-color="#d2e5f1"/></linearGradient></defs>
<rect x="265.8" y="4.4" width="191.7" height="160.9" fill="url(#g4)" mask="url(#gridmask)" opacity="0.8"/>
<text x="229" y="11" font-family="'Liberation Serif', serif" font-size="16" font-weight="bold" fill="#000" text-anchor="start" >b</text>
<line x1="265.8" y1="155.3" x2="262.2" y2="155.3" stroke="#1a1a1a" stroke-width="1.3" />
<line x1="265.8" y1="104.75" x2="262.2" y2="104.75" stroke="#1a1a1a" stroke-width="1.3" />
<line x1="265.8" y1="54.2" x2="262.2" y2="54.2" stroke="#1a1a1a" stroke-width="1.3" />
<line x1="265.8" y1="3.65" x2="262.2" y2="3.65" stroke="#1a1a1a" stroke-width="1.3" />
<line x1="265.8" y1="130.03" x2="263.8" y2="130.03" stroke="#1a1a1a" stroke-width="1.3" />
<line x1="265.8" y1="79.48" x2="263.8" y2="79.48" stroke="#1a1a1a" stroke-width="1.3" />
<line x1="265.8" y1="28.93" x2="263.8" y2="28.93" stroke="#1a1a1a" stroke-width="1.3" />
<text x="261.5" y="159.5" font-family="'Liberation Serif', serif" font-size="12" font-weight="bold" fill="#000" text-anchor="end" >0.0</text>
<text x="261.5" y="108.95" font-family="'Liberation Serif', serif" font-size="12" font-weight="bold" fill="#000" text-anchor="end" >0.5</text>
<text x="261.5" y="58.4" font-family="'Liberation Serif', serif" font-size="12" font-weight="bold" fill="#000" text-anchor="end" >1.0</text>
<text x="261.5" y="7.85" font-family="'Liberation Serif', serif" font-size="12" font-weight="bold" fill="#000" text-anchor="end" >1.5</text>
<line x1="302.1" y1="165.3" x2="302.1" y2="168.9" stroke="#1a1a1a" stroke-width="1.3" />
<line x1="350.9" y1="165.3" x2="350.9" y2="168.9" stroke="#1a1a1a" stroke-width="1.3" />
<line x1="399.7" y1="165.3" x2="399.7" y2="168.9" stroke="#1a1a1a" stroke-width="1.3" />
<line x1="448.5" y1="165.3" x2="448.5" y2="168.9" stroke="#1a1a1a" stroke-width="1.3" />
<line x1="277.7" y1="165.3" x2="277.7" y2="167.3" stroke="#1a1a1a" stroke-width="1.3" />
<line x1="326.5" y1="165.3" x2="326.5" y2="167.3" stroke="#1a1a1a" stroke-width="1.3" />
<line x1="375.3" y1="165.3" x2="375.3" y2="167.3" stroke="#1a1a1a" stroke-width="1.3" />
<line x1="424.1" y1="165.3" x2="424.1" y2="167.3" stroke="#1a1a1a" stroke-width="1.3" />
<text x="302.1" y="179.2" font-family="'Liberation Serif', serif" font-size="12" font-weight="bold" fill="#000" text-anchor="middle" >19980</text>
<text x="350.9" y="179.2" font-family="'Liberation Serif', serif" font-size="12" font-weight="bold" fill="#000" text-anchor="middle" >20160</text>
<text x="399.7" y="179.2" font-family="'Liberation Serif', serif" font-size="12" font-weight="bold" fill="#000" text-anchor="middle" >20340</text>
<text x="448.5" y="179.2" font-family="'Liberation Serif', serif" font-size="12" font-weight="bold" fill="#000" text-anchor="middle" >20520</text>
<text x="362" y="194.5" font-family="'Liberation Serif', serif" font-size="12.5" font-weight="bold" fill="#000" text-anchor="middle" >Energy (eV)</text>
<text x="240" y="85" font-family="'Liberation Serif', serif" font-size="12.5" font-weight="bold" fill="#000" text-anchor="middle" transform="rotate(-90 240 85)" >Normalized (a.u.)</text>
<path d="M266.5,155.97L267.3,156.21L268.1,155.97L268.9,155.15L269.7,156.25L270.5,156.02L271.3,155.53L272.1,156.09L272.9,155.98L273.7,155.95L274.5,155.81L275.3,156.07L276.1,155.43L276.9,155.72L277.7,155.56L278.5,156.09L279.3,155.76L280.1,155.42L280.9,154.65L281.7,153.83L282.5,152.35L283.3,150.69L284.1,150.96L284.9,151.65L285.7,151.42L286.5,153.36L287.3,155.17L288.1,155.49L288.9,156.01L289.7,156.16L290.5,157.28L291.3,155.88L292.1,156.5L292.9,157.96L293.7,157.47L294.5,157.61L295.3,157.03L296.1,156.37L296.9,157.08L297.7,156.81L298.5,155.88L299.3,155.93L300.1,156.06L300.9,155.5L301.7,155.84L302.5,155.89L303.3,155.84L304.1,155.56L304.8,156L305.8,150L306.7,139L307.5,113L308.5,87L309.3,67.4L311.7,62.7L314,55.1L316.4,48.7L318.7,55.7L321,53.4L323.9,60.4L325.7,53.4L328,49.9L330.4,58L332.7,55.7L335,56.9L339.7,53.4L342,51L344.4,59.2L349,56.9L353.7,54.5L358.4,47.5L360.1,53.4L363.1,61L367.7,58L371.2,53.4L377.1,51L380,52.2L381,54.7L382,54.25L383,55.86L384,56.91L385,58L386,56.78L387,56.01L388,55.76L389,57.76L390,58.89L391,57.06L392,55.01L393,55.25L394,58.44L395,56.46L396,53.77L397,55.73L398,54.14L399,54.65L400,54.66L401,54.2L402,55.7L403,54.77L404,53.97L405,55.19L406,55.68L407,52.43L408,54.23L409,53.31L410,54.4L411,53.02L412,54.81L413,54.84L414,54.61L415,53.77L416,54.75L417,53.99L418,53.78L419,55.96L420,54.35L421,57.42L422,56.92L423,53.47L424,56.48L425,54.73L426,56.23L427,56.24L428,53.58L429,55.83L430,55.75L431,57.26L432,54.4L433,56.81L434,54.32L435,55.22L436,54.46L437,57.34L438,56.1L439,58.44L440,56.03L441,56.23L442,56.17L443,54.25L444,54.92L445,56.75L446,54.49L447,55.26L448,55.02L449,55.88L450,54.66L451,54.99L452,55.57L453,55.46L454,54.27L455,56.64L456,53.85L457,54.05" fill="none" stroke="#2b8cae" stroke-width="1.2" stroke-linejoin="round" stroke-linecap="round" />
<path d="M266.5,155.88L267.3,155.59L268.1,155.63L268.9,154.82L269.7,156.52L270.5,156.26L271.3,155.67L272.1,156.11L272.9,155.91L273.7,155.58L274.5,156.19L275.3,155.68L276.1,155.67L276.9,155.48L277.7,155.98L278.5,155.75L279.3,155.98L280.1,155.38L280.9,155.3L281.7,154.1L282.5,153.62L283.3,152.26L284.1,151.94L284.9,152.58L285.7,153.2L286.5,155.03L287.3,156.24L288.1,155.1L288.9,155.23L289.7,155.45L290.5,156.56L291.3,156.49L292.1,157.12L292.9,157.23L293.7,157.23L294.5,157.39L295.3,157.22L296.1,157.54L296.9,156.55L297.7,156.58L298.5,156.59L299.3,156.99L300.1,155.79L300.9,155.54L301.7,155.67L302.5,156.23L303.3,155.73L304.1,156.34L304.8,156L305.8,150L306.7,139L307.5,113L308.5,87L309.9,63.9L312.8,58L316.4,53.4L320.4,59.2L323.4,53.4L326.3,48.7L329.2,53.4L333.9,56.9L337.4,58L342,53.4L345,51L347.9,53.4L352.6,54.5L358.4,55.7L365.4,55.1L372.4,53.4L380,55.1L382,54.59L383.5,55.41L385,54.97L386.5,54.79L388,54.76L389.5,55.33L391,54.84L392.5,54.8L394,55.49L395.5,54.88L397,55.22L398.5,55.36L400,55.23L401.5,55.4L403,55.91L404.5,55.29L406,55.06L407.5,54.89L409,55.49L410.5,55.47L412,55.71L413.5,55.49L415,55.51L416.5,55.45L418,55.55L419.5,55.82L421,55.66L422.5,55.86L424,56.52L425.5,56.05L427,55.36L428.5,56.55L430,56.09L431.5,55.67L433,56.34L434.5,56.06L436,55.87L437.5,55.89L439,55.79L440.5,56.19L442,56.57L443.5,56.12L445,56.41L446.5,56.94L448,55.89L449.5,56.44L451,56.27L452.5,56.03L454,56.07L455.5,56.46L457,56.64" fill="none" stroke="#f7a040" stroke-width="1.2" stroke-linejoin="round" stroke-linecap="round" />
<path d="M266.5,157.43L267.3,153.76L268.1,156.13L268.9,155.35L269.7,155.44L270.5,155.63L271.3,154.18L272.1,155.61L272.9,155.11L273.7,158.46L274.5,155.98L275.3,155.52L276.1,155.57L276.9,155.27L277.7,154.95L278.5,155.47L279.3,156.08L280.1,155.16L280.9,155.12L281.7,152.12L282.5,149.22L283.3,147.55L284.1,145.76L284.9,146.52L285.7,149.9L286.5,153.41L287.3,156.38L288.1,155.54L288.9,156.07L289.7,157.54L290.5,156.64L291.3,157.9L292.1,159.76L292.9,160.44L293.7,160.82L294.5,161.75L295.3,159.01L296.1,161.72L296.9,159.42L297.7,157.95L298.5,158.58L299.3,158.09L300.1,156.53L300.9,155.56L301.7,156.15L302.5,155.92L303.3,157L304.1,156.43L304.5,156L305.5,150L306.3,138.8L307,112.5L308.1,86.3L308.9,65.3L309.9,56.9L311.7,46.4L313.4,40.5L314.6,41.7L316.4,52.2L318.7,63.9L320.4,56.9L322.2,45.2L323.9,52.2L326.3,61L328,52.2L330.4,55.1L333.9,56.3L336.2,53.9L338.5,55.7L340.9,49.9L342.6,56.9L345,55.7L347.3,51.6L349,52.8L351.4,56.3L353.7,54.5L356.1,56.9L358.4,53.4L360.7,55.7L365.4,54.5L370,55.1L372,54.5" fill="none" stroke="#ff1a1a" stroke-width="1.2" stroke-linejoin="round" stroke-linecap="round" />
<rect x="294.5" y="88.9" width="26.2" height="27.6" fill="rgba(250,80,80,0.33)" stroke="#ff3030" stroke-width="0.9" stroke-dasharray="2.5,1.5"/>
<line x1="297" y1="104.7" x2="318" y2="104.7" stroke="#ff1a1a" stroke-width="1.2" />
<path d="M318,104.7L314.5,103.12L314.5,106.28Z" fill="#ff1a1a"/>
<line x1="320.7" y1="88.9" x2="353.6" y2="70.5" stroke="#ff2020" stroke-width="1.1" stroke-dasharray="3,2"/>
<line x1="320.7" y1="116.5" x2="353.6" y2="148.5" stroke="#ff2020" stroke-width="1.1" stroke-dasharray="3,2"/>
<rect x="353.6" y="70.5" width="91.1" height="78" fill="rgba(255,255,255,0.45)" stroke="#333" stroke-width="1.0" />
<path d="M364.6,148.5L365.01,147.64L365.41,146.79L365.82,145.96L366.22,145.15L366.63,144.36L367.03,143.61L367.44,142.9L367.85,142.24L368.25,141.63L368.66,141.07L369.06,140.54L369.47,140.03L369.88,139.52L370.28,138.99L370.69,138.43L371.09,137.82L371.5,137.15L371.9,136.39L372.31,135.54L372.72,134.59L373.12,133.55L373.53,132.42L373.93,131.21L374.34,129.92L374.75,128.57L375.15,127.14L375.56,125.66L375.96,124.13L376.37,122.55L376.77,120.92L377.18,119.26L377.59,117.56L377.99,115.86L378.4,114.15L378.8,112.46L379.21,110.79L379.62,109.17L380.02,107.6L380.43,106.11L380.83,104.69L381.24,103.38L381.64,102.17L382.05,101.07L382.46,100.06L382.86,99.14L383.27,98.3L383.67,97.54L384.08,96.84L384.48,96.2L384.89,95.61L385.3,95.06L385.7,94.55L386.11,94.07L386.51,93.61L386.92,93.17L387.33,92.73L387.73,92.29L388.14,91.85L388.54,91.39L388.95,90.91L389.35,90.42L389.76,89.91L390.17,89.39L390.57,88.83L390.98,88.26L391.38,87.66L391.79,87.04L392.2,86.38L392.6,85.7L393.01,84.99L393.41,84.24L393.82,83.46L394.22,82.66L394.63,81.83L395.04,80.97L395.44,80.09L395.85,79.19L396.25,78.27L396.66,77.33L397.07,76.38L397.47,75.42L397.88,74.45L398.28,73.47L398.69,72.48L399.09,71.49L399.5,70.5" fill="none" stroke="#2b8cae" stroke-width="1.0" stroke-linejoin="round" stroke-linecap="round" />
<path d="M390.4,148.5L390.81,147.22L391.22,145.95L391.64,144.69L392.05,143.44L392.46,142.2L392.87,140.99L393.29,139.81L393.7,138.66L394.11,137.54L394.52,136.46L394.93,135.43L395.35,134.45L395.76,133.52L396.17,132.64L396.58,131.82L397,131.03L397.41,130.25L397.82,129.46L398.23,128.64L398.64,127.76L399.06,126.82L399.47,125.78L399.88,124.63L400.29,123.38L400.71,122.01L401.12,120.55L401.53,118.99L401.94,117.35L402.36,115.62L402.77,113.82L403.18,111.94L403.59,109.99L404,107.98L404.42,105.91L404.83,103.79L405.24,101.62L405.65,99.41L406.07,97.15L406.48,94.85L406.89,92.52L407.3,90.15L407.71,87.76L408.13,85.34L408.54,82.9L408.95,80.44L409.36,77.97L409.78,75.48L410.19,72.99L410.6,70.5" fill="none" stroke="#ff1a1a" stroke-width="1.0" stroke-linejoin="round" stroke-linecap="round" />
<path d="M396.9,148.5L420.6,70.5" fill="none" stroke="#f7a040" stroke-width="1.0" stroke-linejoin="round" stroke-linecap="round" />
<line x1="337.6" y1="12.3" x2="362.3" y2="12.3" stroke="#2b8cae" stroke-width="1.3" />
<text x="366" y="16" font-family="'Liberation Serif', serif" font-size="10.5" font-weight="bold" fill="#000" text-anchor="start" >Mo-foil</text>
<line x1="337.6" y1="25.2" x2="362.3" y2="25.2" stroke="#f7a040" stroke-width="1.3" />
<text x="366" y="29.3" font-family="'Liberation Serif', serif" font-size="10.5" font-weight="bold" fill="#000" text-anchor="start" >MoS<tspan dy="2.94" font-size="7.56">2</tspan><tspan dy="-2.94"></tspan></text>
<line x1="337.6" y1="44" x2="362.3" y2="44" stroke="#ff1a1a" stroke-width="1.3" />
<text x="366" y="48.5" font-family="'Liberation Serif', serif" font-size="10.5" font-weight="bold" fill="#000" text-anchor="start" >6%-MoS<tspan dy="2.94" font-size="7.56">2</tspan><tspan dy="-2.94">/Zn</tspan><tspan dy="2.94" font-size="7.56">3</tspan><tspan dy="-2.94">In</tspan><tspan dy="2.94" font-size="7.56">4</tspan><tspan dy="-2.94">S</tspan><tspan dy="2.94" font-size="7.56">9</tspan><tspan dy="-2.94"></tspan></text>
<rect x="265.8" y="4.4" width="191.7" height="160.9" fill="none" stroke="#000" stroke-width="1.4" />
<defs><linearGradient id="g5" x1="0" y1="0" x2="0" y2="1"><stop offset="0" stop-color="#f7fafd"/><stop offset="0.5" stop-color="#fcfbfd"/><stop offset="1" stop-color="#fef8f8"/></linearGradient></defs>
<rect x="492" y="4.4" width="191.5" height="161" fill="url(#g5)" stroke="none" stroke-width="1" />
<defs><linearGradient id="g6" x1="0" y1="0" x2="0" y2="1"><stop offset="0" stop-color="#d2e5f1"/><stop offset="0.5" stop-color="#ebe1ea"/><stop offset="1" stop-color="#f8d4d4"/></linearGradient></defs>
<rect x="492" y="4.4" width="191.5" height="161" fill="url(#g6)" mask="url(#gridmask)" opacity="0.8"/>
<text x="469" y="11" font-family="'Liberation Serif', serif" font-size="16" font-weight="bold" fill="#000" text-anchor="start" >c</text>
<line x1="515.7" y1="165.4" x2="515.7" y2="169" stroke="#1a1a1a" stroke-width="1.3" />
<line x1="563.7" y1="165.4" x2="563.7" y2="169" stroke="#1a1a1a" stroke-width="1.3" />
<line x1="611.7" y1="165.4" x2="611.7" y2="169" stroke="#1a1a1a" stroke-width="1.3" />
<line x1="659.7" y1="165.4" x2="659.7" y2="169" stroke="#1a1a1a" stroke-width="1.3" />
<line x1="491.7" y1="165.4" x2="491.7" y2="167.4" stroke="#1a1a1a" stroke-width="1.3" />
<line x1="539.7" y1="165.4" x2="539.7" y2="167.4" stroke="#1a1a1a" stroke-width="1.3" />
<line x1="587.7" y1="165.4" x2="587.7" y2="167.4" stroke="#1a1a1a" stroke-width="1.3" />
<line x1="635.7" y1="165.4" x2="635.7" y2="167.4" stroke="#1a1a1a" stroke-width="1.3" />
<line x1="683.7" y1="165.4" x2="683.7" y2="167.4" stroke="#1a1a1a" stroke-width="1.3" />
<text x="515.7" y="179.2" font-family="'Liberation Serif', serif" font-size="12" font-weight="bold" fill="#000" text-anchor="middle" >2</text>
<text x="563.7" y="179.2" font-family="'Liberation Serif', serif" font-size="12" font-weight="bold" fill="#000" text-anchor="middle" >4</text>
<text x="611.7" y="179.2" font-family="'Liberation Serif', serif" font-size="12" font-weight="bold" fill="#000" text-anchor="middle" >6</text>
<text x="659.7" y="179.2" font-family="'Liberation Serif', serif" font-size="12" font-weight="bold" fill="#000" text-anchor="middle" >8</text>
<text x="587.5" y="196.3" font-family="'Liberation Serif', serif" font-size="12.5" font-weight="bold" fill="#000" text-anchor="middle" >Wavenumber (Å)</text>
<text x="480.2" y="85" font-family="'Liberation Serif', serif" font-size="12.5" font-weight="bold" text-anchor="middle" transform="rotate(-90 480.2 85)">k<tspan dy="-4.5" font-size="9">2</tspan><tspan dy="4.5"> </tspan><tspan font-style="italic">χ</tspan>(k)</text>
<defs><marker id="mk0" markerUnits="userSpaceOnUse" markerWidth="6.4" markerHeight="6.4" refX="3.2" refY="3.2" overflow="visible"><circle cx="3.2" cy="3.2" r="2.2" fill="none" stroke="#2b8cae" stroke-width="0.45" opacity="0.7"/></marker></defs>
<path d="M492.8 42.8L493.8 43.6L494.8 43.7L495.7 43.1L496.7 43.3L497.7 43.4L498.7 42.8L499.6 42.6L500.6 43.5L501.6 44.1L502.6 44.4L503.5 45.1L504.5 45.4L505.5 44.5L506.5 45.2L507.4 45.4L508.4 45.3L509.4 45.3L510.4 44.2L511.3 44.5L512.3 45.2L513.3 44.7L514.3 43.7L515.2 43.7L516.2 43.5L517.2 42.9L518.2 42.6L519.1 44.2L520.1 43.3L521.1 44.7L522.1 44.9L523.0 44.7L524.0 45.9L525.0 45.3L526.0 44.3L526.9 45.0L527.9 44.5L528.9 43.6L529.9 44.1L530.8 44.6L531.8 45.0L532.8 44.8L533.8 44.6L534.7 44.6L535.7 44.1L536.7 44.7L537.7 44.2L538.6 44.3L539.6 44.4L540.6 43.7L541.6 44.1L542.5 45.3L543.5 44.8L544.5 44.8L545.5 45.3L546.4 44.7L547.4 44.8L548.4 44.3L549.4 44.8L550.3 43.8L551.3 45.3L552.3 44.5L553.3 44.2L554.2 45.1L555.2 45.0L556.2 44.9L557.2 44.1L558.1 45.2L559.1 47.6L560.1 45.6L561.1 46.2L562.0 45.2L563.0 45.1L564.0 44.3L565.0 44.5L565.9 44.7L566.9 43.7L567.9 43.9L568.9 42.2L569.8 42.2L570.8 43.4L571.8 41.5L572.8 41.3L573.7 41.6L574.7 41.4L575.7 42.0L576.7 42.3L577.6 42.5L578.6 43.5L579.6 45.3L580.6 45.5L581.5 44.4L582.5 46.0L583.5 45.2L584.5 45.5L585.4 45.2L586.4 46.9L587.4 46.5L588.4 45.8L589.3 44.5L590.3 43.7L591.3 43.4L592.3 43.8L593.2 43.2L594.2 42.7L595.2 44.2L596.2 43.0L597.1 42.1L598.1 40.2L599.1 38.9L600.1 37.7L601.0 35.5L602.0 40.7L603.0 41.6L604.0 42.1L604.9 45.1L605.9 45.7L606.9 46.4L607.9 42.8L608.8 45.3L609.8 46.2L610.8 48.0L611.8 49.2L612.7 49.8L613.7 47.2L614.7 46.5L615.7 50.5L616.6 48.1L617.6 48.4L618.6 46.7L619.6 48.1L620.5 44.9L621.5 46.8L622.5 43.4L623.5 44.8L624.4 46.5L625.4 46.6L626.4 47.0L627.4 43.9L628.3 42.1L629.3 39.3L630.3 36.3L631.3 35.9L632.2 40.3L633.2 35.0L634.2 36.0L635.2 33.8L636.1 32.5L637.1 34.5L638.1 39.9L639.1 44.3L640.0 49.5L641.0 48.5L642.0 52.5L643.0 55.2L643.9 60.4L644.9 50.7L645.9 59.3L646.9 58.5L647.8 63.0L648.8 61.2L649.8 62.8L650.8 64.7L651.7 59.2L652.7 56.5L653.7 53.0L654.7 46.4L655.6 46.9L656.6 40.2L657.6 32.9L658.6 30.8L659.5 27.8L660.5 29.2L661.5 23.1L662.5 17.1L663.4 21.6L664.4 21.1L665.4 24.7L666.4 25.2L667.3 25.7L668.3 27.7L669.3 32.1L670.3 42.5L671.2 46.5L672.2 46.9L673.2 57.0L674.2 57.2L675.1 67.5L676.1 67.3L677.1 71.3L678.1 79.1L679.0 79.7L680.0 73.3L681.0 79.4L682.0 82.6" fill="none" stroke="none" marker-start="url(#mk0)" marker-mid="url(#mk0)" marker-end="url(#mk0)"/>
<path d="M492.5,44.33L493,44.35L493.5,44.38L494.01,44.41L494.51,44.43L495.01,44.45L495.51,44.48L496.01,44.5L496.51,44.52L497.01,44.54L497.51,44.56L498.02,44.58L498.52,44.6L499.02,44.61L499.52,44.62L500.02,44.63L500.52,44.64L501.02,44.65L501.52,44.65L502.03,44.65L502.53,44.65L503.03,44.65L503.53,44.64L504.03,44.63L504.53,44.62L505.03,44.6L505.54,44.58L506.04,44.55L506.54,44.53L507.04,44.5L507.54,44.47L508.04,44.44L508.54,44.4L509.04,44.37L509.55,44.33L510.05,44.29L510.55,44.26L511.05,44.22L511.55,44.19L512.05,44.15L512.55,44.12L513.05,44.09L513.56,44.06L514.06,44.03L514.56,44L515.06,43.98L515.56,43.96L516.06,43.95L516.56,43.94L517.07,43.93L517.57,43.93L518.07,43.93L518.57,43.94L519.07,43.96L519.57,43.98L520.07,44L520.57,44.04L521.08,44.08L521.58,44.12L522.08,44.17L522.58,44.22L523.08,44.27L523.58,44.33L524.08,44.38L524.59,44.44L525.09,44.49L525.59,44.55L526.09,44.6L526.59,44.64L527.09,44.68L527.59,44.72L528.09,44.75L528.6,44.78L529.1,44.79L529.6,44.8L530.1,44.8L530.6,44.79L531.1,44.77L531.6,44.74L532.1,44.7L532.61,44.66L533.11,44.61L533.61,44.56L534.11,44.51L534.61,44.45L535.11,44.39L535.61,44.33L536.12,44.27L536.62,44.21L537.12,44.15L537.62,44.1L538.12,44.05L538.62,44L539.12,43.96L539.62,43.92L540.13,43.89L540.63,43.87L541.13,43.86L541.63,43.85L542.13,43.86L542.63,43.86L543.13,43.88L543.63,43.9L544.14,43.92L544.64,43.95L545.14,43.99L545.64,44.03L546.14,44.07L546.64,44.12L547.14,44.17L547.65,44.23L548.15,44.29L548.65,44.35L549.15,44.41L549.65,44.48L550.15,44.54L550.65,44.61L551.15,44.68L551.66,44.75L552.16,44.82L552.66,44.89L553.16,44.97L553.66,45.04L554.16,45.1L554.66,45.17L555.16,45.23L555.67,45.29L556.17,45.34L556.67,45.38L557.17,45.42L557.67,45.45L558.17,45.47L558.67,45.48L559.18,45.47L559.68,45.46L560.18,45.43L560.68,45.39L561.18,45.33L561.68,45.26L562.18,45.17L562.68,45.06L563.19,44.93L563.69,44.79L564.19,44.62L564.69,44.44L565.19,44.25L565.69,44.05L566.19,43.84L566.7,43.63L567.2,43.42L567.7,43.21L568.2,43L568.7,42.8L569.2,42.61L569.7,42.43L570.2,42.27L570.71,42.12L571.21,42L571.71,41.9L572.21,41.82L572.71,41.78L573.21,41.76L573.71,41.78L574.21,41.84L574.72,41.93L575.22,42.06L575.72,42.21L576.22,42.39L576.72,42.58L577.22,42.8L577.72,43.02L578.23,43.25L578.73,43.48L579.23,43.72L579.73,43.95L580.23,44.17L580.73,44.37L581.23,44.57L581.73,44.74L582.24,44.88L582.74,45L583.24,45.09L583.74,45.15L584.24,45.19L584.74,45.2L585.24,45.19L585.74,45.16L586.25,45.11L586.75,45.04L587.25,44.95L587.75,44.84L588.25,44.72L588.75,44.58L589.25,44.43L589.76,44.27L590.26,44.1L590.76,43.92L591.26,43.73L591.76,43.53L592.26,43.33L592.76,43.12L593.26,42.92L593.77,42.71L594.27,42.51L594.77,42.3L595.27,42.11L595.77,41.92L596.27,41.73L596.77,41.56L597.27,41.4L597.78,41.25L598.28,41.11L598.78,41L599.28,40.89L599.78,40.81L600.28,40.75L600.78,40.71L601.29,40.7L601.79,40.71L602.29,40.75L602.79,40.82L603.29,40.93L603.79,41.08L604.29,41.26L604.79,41.5L605.3,41.78L605.8,42.11L606.3,42.5L606.8,42.94L607.3,43.45L607.8,44.02L608.3,44.66L608.8,45.34L609.31,46.05L609.81,46.78L610.31,47.51L610.81,48.22L611.31,48.89L611.81,49.52L612.31,50.08L612.82,50.56L613.32,50.94L613.82,51.21L614.32,51.34L614.82,51.34L615.32,51.22L615.82,51L616.32,50.67L616.83,50.26L617.33,49.78L617.83,49.24L618.33,48.65L618.83,48.03L619.33,47.38L619.83,46.73L620.34,46.08L620.84,45.45L621.34,44.83L621.84,44.23L622.34,43.63L622.84,43.05L623.34,42.48L623.84,41.91L624.35,41.35L624.85,40.79L625.35,40.23L625.85,39.67L626.35,39.11L626.85,38.54L627.35,37.97L627.85,37.4L628.36,36.85L628.86,36.32L629.36,35.84L629.86,35.4L630.36,35.02L630.86,34.7L631.36,34.47L631.87,34.33L632.37,34.29L632.87,34.36L633.37,34.53L633.87,34.81L634.37,35.18L634.87,35.66L635.37,36.25L635.88,36.93L636.38,37.71L636.88,38.58L637.38,39.56L637.88,40.63L638.38,41.78L638.88,43L639.38,44.27L639.89,45.59L640.39,46.93L640.89,48.29L641.39,49.64L641.89,50.99L642.39,52.3L642.89,53.57L643.4,54.79L643.9,55.94L644.4,57.01L644.9,58L645.4,58.89L645.9,59.69L646.4,60.39L646.9,60.99L647.41,61.48L647.91,61.84L648.41,62.09L648.91,62.21L649.41,62.2L649.91,62.04L650.41,61.73L650.91,61.26L651.42,60.62L651.92,59.81L652.42,58.81L652.92,57.63L653.42,56.25L653.92,54.67L654.42,52.92L654.93,51.02L655.43,48.99L655.93,46.87L656.43,44.68L656.93,42.44L657.43,40.18L657.93,37.92L658.43,35.69L658.94,33.51L659.44,31.41L659.94,29.42L660.44,27.56L660.94,25.87L661.44,24.36L661.94,23.07L662.45,22.02L662.95,21.24L663.45,20.75L663.95,20.59L664.45,20.75L664.95,21.23L665.45,21.98L665.95,22.99L666.46,24.21L666.96,25.64L667.46,27.23L667.96,28.97L668.46,30.82L668.96,32.76L669.46,34.75L669.96,36.81L670.47,38.93L670.97,41.12L671.47,43.39L671.97,45.75L672.47,48.21L672.97,50.77L673.47,53.44L673.98,56.24L674.48,59.15L674.98,62.18L675.48,65.24L675.98,68.25L676.48,71.12L676.98,73.76L677.48,76.09L677.99,78.02L678.49,79.46L678.99,80.33L679.49,80.63L679.99,80.41L680.49,79.76L680.99,78.71L681.49,77.35L682,75.74L682.5,73.93L683,72" fill="none" stroke="#2b8cae" stroke-width="1.4" stroke-linejoin="round" stroke-linecap="round" />
<defs><marker id="mk1" markerUnits="userSpaceOnUse" markerWidth="6.4" markerHeight="6.4" refX="3.2" refY="3.2" overflow="visible"><circle cx="3.2" cy="3.2" r="2.2" fill="none" stroke="#f7a040" stroke-width="0.45" opacity="0.7"/></marker></defs>
<path d="M492.8 89.8L493.8 89.6L494.8 89.3L495.7 89.7L496.7 88.2L497.7 89.1L498.7 89.5L499.6 89.3L500.6 88.8L501.6 89.6L502.6 89.3L503.5 89.9L504.5 90.0L505.5 89.2L506.5 88.3L507.4 89.4L508.4 89.2L509.4 90.1L510.4 90.9L511.3 90.4L512.3 91.1L513.3 90.6L514.3 90.0L515.2 89.2L516.2 89.6L517.2 88.5L518.2 89.2L519.1 88.5L520.1 89.4L521.1 89.3L522.1 88.6L523.0 90.2L524.0 90.7L525.0 91.4L526.0 90.5L526.9 91.0L527.9 91.7L528.9 91.2L529.9 91.1L530.8 91.0L531.8 92.3L532.8 90.0L533.8 89.2L534.7 88.8L535.7 88.7L536.7 89.5L537.7 89.6L538.6 89.4L539.6 88.8L540.6 88.8L541.6 89.0L542.5 89.4L543.5 92.1L544.5 91.7L545.5 93.0L546.4 92.5L547.4 92.6L548.4 92.5L549.4 92.3L550.3 93.8L551.3 94.9L552.3 95.7L553.3 95.9L554.2 96.1L555.2 95.4L556.2 94.8L557.2 93.7L558.1 94.4L559.1 95.3L560.1 94.3L561.1 94.2L562.0 93.3L563.0 92.6L564.0 93.5L565.0 92.0L565.9 91.9L566.9 90.9L567.9 89.7L568.9 87.8L569.8 88.1L570.8 86.6L571.8 86.1L572.8 87.9L573.7 87.6L574.7 87.6L575.7 87.6L576.7 87.9L577.6 88.5L578.6 88.6L579.6 89.0L580.6 90.1L581.5 89.0L582.5 90.9L583.5 90.4L584.5 91.7L585.4 92.9L586.4 92.9L587.4 94.2L588.4 94.5L589.3 94.1L590.3 94.8L591.3 95.4L592.3 94.3L593.2 95.4L594.2 96.4L595.2 96.7L596.2 96.3L597.1 96.3L598.1 96.3L599.1 95.3L600.1 93.9L601.0 93.2L602.0 93.2L603.0 92.3L604.0 90.8L604.9 90.0L605.9 90.1L606.9 89.8L607.9 86.9L608.8 88.2L609.8 86.9L610.8 87.0L611.8 85.4L612.7 84.9L613.7 85.2L614.7 81.7L615.7 85.8L616.6 85.6L617.6 85.0L618.6 85.7L619.6 89.4L620.5 89.2L621.5 91.6L622.5 91.4L623.5 91.2L624.4 92.4L625.4 92.3L626.4 93.4L627.4 93.6L628.3 93.0L629.3 93.3L630.3 93.2L631.3 91.3L632.2 93.1L633.2 93.5L634.2 92.9L635.2 91.1L636.1 92.3L637.1 94.1L638.1 94.6L639.1 96.3L640.0 93.6L641.0 92.9L642.0 91.2L643.0 89.5L643.9 87.0L644.9 83.3L645.9 84.9L646.9 85.8L647.8 86.2L648.8 82.4L649.8 82.7L650.8 86.1L651.7 84.7L652.7 85.8L653.7 84.7L654.7 86.3L655.6 86.9L656.6 90.0L657.6 88.1L658.6 88.6L659.5 86.9L660.5 88.7L661.5 88.5L662.5 89.5L663.4 88.7L664.4 93.7L665.4 91.0L666.4 93.1L667.3 90.0L668.3 92.8L669.3 96.6L670.3 94.5L671.2 97.8L672.2 97.8L673.2 99.1L674.2 99.6L675.1 97.2L676.1 96.9L677.1 95.2L678.1 94.3L679.0 92.9L680.0 96.1L681.0 92.5L682.0 95.0" fill="none" stroke="none" marker-start="url(#mk1)" marker-mid="url(#mk1)" marker-end="url(#mk1)"/>
<path d="M492.5,89.63L493,89.67L493.5,89.7L494.01,89.73L494.51,89.77L495.01,89.8L495.51,89.83L496.01,89.86L496.51,89.88L497.01,89.91L497.51,89.94L498.02,89.96L498.52,89.98L499.02,90L499.52,90.02L500.02,90.03L500.52,90.04L501.02,90.05L501.52,90.06L502.03,90.06L502.53,90.06L503.03,90.05L503.53,90.05L504.03,90.03L504.53,90.02L505.03,90L505.54,89.97L506.04,89.95L506.54,89.92L507.04,89.88L507.54,89.85L508.04,89.81L508.54,89.77L509.04,89.72L509.55,89.68L510.05,89.64L510.55,89.59L511.05,89.55L511.55,89.5L512.05,89.46L512.55,89.42L513.05,89.38L513.56,89.34L514.06,89.3L514.56,89.27L515.06,89.24L515.56,89.21L516.06,89.19L516.56,89.17L517.07,89.16L517.57,89.15L518.07,89.15L518.57,89.15L519.07,89.16L519.57,89.18L520.07,89.2L520.57,89.23L521.08,89.27L521.58,89.31L522.08,89.36L522.58,89.41L523.08,89.47L523.58,89.52L524.08,89.58L524.59,89.64L525.09,89.69L525.59,89.74L526.09,89.8L526.59,89.84L527.09,89.89L527.59,89.92L528.09,89.96L528.6,89.98L529.1,90L529.6,90L530.1,90L530.6,89.99L531.1,89.96L531.6,89.93L532.1,89.9L532.61,89.86L533.11,89.82L533.61,89.77L534.11,89.73L534.61,89.69L535.11,89.65L535.61,89.62L536.12,89.6L536.62,89.58L537.12,89.57L537.62,89.58L538.12,89.59L538.62,89.63L539.12,89.67L539.62,89.74L540.13,89.82L540.63,89.93L541.13,90.05L541.63,90.19L542.13,90.35L542.63,90.52L543.13,90.7L543.63,90.89L544.14,91.09L544.64,91.31L545.14,91.53L545.64,91.75L546.14,91.98L546.64,92.21L547.14,92.44L547.65,92.67L548.15,92.9L548.65,93.13L549.15,93.35L549.65,93.56L550.15,93.77L550.65,93.97L551.15,94.16L551.66,94.34L552.16,94.5L552.66,94.65L553.16,94.78L553.66,94.89L554.16,94.99L554.66,95.06L555.16,95.11L555.67,95.14L556.17,95.14L556.67,95.12L557.17,95.07L557.67,94.99L558.17,94.89L558.67,94.76L559.18,94.6L559.68,94.43L560.18,94.24L560.68,94.03L561.18,93.8L561.68,93.56L562.18,93.31L562.68,93.04L563.19,92.77L563.69,92.48L564.19,92.2L564.69,91.9L565.19,91.61L565.69,91.31L566.19,91.01L566.7,90.72L567.2,90.43L567.7,90.14L568.2,89.86L568.7,89.59L569.2,89.33L569.7,89.08L570.2,88.85L570.71,88.63L571.21,88.43L571.71,88.24L572.21,88.08L572.71,87.94L573.21,87.82L573.71,87.73L574.21,87.66L574.72,87.62L575.22,87.61L575.72,87.62L576.22,87.66L576.72,87.72L577.22,87.81L577.72,87.91L578.23,88.04L578.73,88.19L579.23,88.36L579.73,88.55L580.23,88.76L580.73,88.99L581.23,89.23L581.73,89.49L582.24,89.76L582.74,90.05L583.24,90.36L583.74,90.67L584.24,90.99L584.74,91.32L585.24,91.66L585.74,92L586.25,92.34L586.75,92.68L587.25,93.01L587.75,93.35L588.25,93.67L588.75,93.99L589.25,94.3L589.76,94.59L590.26,94.87L590.76,95.13L591.26,95.38L591.76,95.6L592.26,95.81L592.76,95.99L593.26,96.14L593.77,96.26L594.27,96.36L594.77,96.42L595.27,96.45L595.77,96.44L596.27,96.39L596.77,96.31L597.27,96.18L597.78,96.01L598.28,95.8L598.78,95.55L599.28,95.27L599.78,94.95L600.28,94.61L600.78,94.25L601.29,93.86L601.79,93.45L602.29,93.03L602.79,92.59L603.29,92.14L603.79,91.69L604.29,91.23L604.79,90.76L605.3,90.3L605.8,89.85L606.3,89.4L606.8,88.96L607.3,88.54L607.8,88.13L608.3,87.75L608.8,87.38L609.31,87.04L609.81,86.73L610.31,86.45L610.81,86.2L611.31,85.99L611.81,85.82L612.31,85.7L612.82,85.62L613.32,85.59L613.82,85.6L614.32,85.67L614.82,85.77L615.32,85.92L615.82,86.1L616.32,86.31L616.83,86.55L617.33,86.82L617.83,87.11L618.33,87.43L618.83,87.76L619.33,88.11L619.83,88.46L620.34,88.83L620.84,89.2L621.34,89.57L621.84,89.95L622.34,90.31L622.84,90.67L623.34,91.03L623.84,91.36L624.35,91.68L624.85,91.99L625.35,92.27L625.85,92.53L626.35,92.76L626.85,92.98L627.35,93.18L627.85,93.35L628.36,93.51L628.86,93.64L629.36,93.76L629.86,93.85L630.36,93.93L630.86,93.99L631.36,94.02L631.87,94.04L632.37,94.04L632.87,94.02L633.37,93.98L633.87,93.92L634.37,93.84L634.87,93.75L635.37,93.64L635.88,93.51L636.38,93.36L636.88,93.2L637.38,93.02L637.88,92.82L638.38,92.61L638.88,92.39L639.38,92.14L639.89,91.89L640.39,91.62L640.89,91.33L641.39,91.03L641.89,90.72L642.39,90.39L642.89,90.05L643.4,89.71L643.9,89.36L644.4,89L644.9,88.64L645.4,88.28L645.9,87.93L646.4,87.58L646.9,87.23L647.41,86.89L647.91,86.56L648.41,86.25L648.91,85.95L649.41,85.66L649.91,85.39L650.41,85.15L650.91,84.92L651.42,84.72L651.92,84.55L652.42,84.4L652.92,84.29L653.42,84.2L653.92,84.16L654.42,84.15L654.93,84.17L655.43,84.24L655.93,84.35L656.43,84.51L656.93,84.71L657.43,84.96L657.93,85.25L658.43,85.57L658.94,85.93L659.44,86.33L659.94,86.75L660.44,87.2L660.94,87.67L661.44,88.16L661.94,88.67L662.45,89.2L662.95,89.74L663.45,90.29L663.95,90.84L664.45,91.4L664.95,91.96L665.45,92.51L665.95,93.06L666.46,93.61L666.96,94.14L667.46,94.65L667.96,95.14L668.46,95.61L668.96,96.06L669.46,96.48L669.96,96.86L670.47,97.21L670.97,97.52L671.47,97.78L671.97,98L672.47,98.17L672.97,98.29L673.47,98.35L673.98,98.35L674.48,98.29L674.98,98.16L675.48,97.97L675.98,97.72L676.48,97.42L676.98,97.07L677.48,96.67L677.99,96.22L678.49,95.74L678.99,95.22L679.49,94.67L679.99,94.08L680.49,93.48L680.99,92.85L681.49,92.2L682,91.54L682.5,90.86L683,90.18" fill="none" stroke="#f7a040" stroke-width="1.4" stroke-linejoin="round" stroke-linecap="round" />
<defs><marker id="mk2" markerUnits="userSpaceOnUse" markerWidth="6.4" markerHeight="6.4" refX="3.2" refY="3.2" overflow="visible"><circle cx="3.2" cy="3.2" r="2.2" fill="none" stroke="#ff2a2a" stroke-width="0.45" opacity="0.7"/></marker></defs>
<path d="M492.8 139.9L493.8 140.1L494.8 140.3L495.7 139.4L496.7 139.9L497.7 138.9L498.7 139.2L499.6 138.9L500.6 138.1L501.6 139.0L502.6 139.0L503.5 138.7L504.5 138.8L505.5 138.2L506.5 138.5L507.4 139.1L508.4 139.0L509.4 139.4L510.4 137.3L511.3 138.3L512.3 137.4L513.3 138.2L514.3 139.0L515.2 139.3L516.2 140.0L517.2 139.7L518.2 138.1L519.1 139.0L520.1 140.5L521.1 140.6L522.1 139.8L523.0 138.9L524.0 140.7L525.0 138.6L526.0 139.8L526.9 139.6L527.9 139.6L528.9 138.6L529.9 138.5L530.8 138.8L531.8 137.9L532.8 137.4L533.8 138.1L534.7 138.3L535.7 138.5L536.7 138.1L537.7 138.2L538.6 137.3L539.6 136.5L540.6 137.4L541.6 137.8L542.5 138.6L543.5 138.2L544.5 138.9L545.5 139.5L546.4 139.9L547.4 139.7L548.4 139.6L549.4 139.9L550.3 139.9L551.3 140.1L552.3 139.2L553.3 138.8L554.2 139.7L555.2 138.6L556.2 139.1L557.2 138.3L558.1 138.1L559.1 138.2L560.1 138.1L561.1 137.5L562.0 137.9L563.0 137.2L564.0 137.1L565.0 136.8L565.9 135.5L566.9 135.7L567.9 135.6L568.9 134.8L569.8 135.4L570.8 134.2L571.8 134.2L572.8 134.4L573.7 132.7L574.7 133.5L575.7 133.7L576.7 135.2L577.6 135.5L578.6 134.9L579.6 135.8L580.6 135.1L581.5 137.6L582.5 138.0L583.5 139.3L584.5 138.1L585.4 140.0L586.4 140.4L587.4 140.3L588.4 142.2L589.3 143.3L590.3 144.4L591.3 144.9L592.3 145.3L593.2 146.2L594.2 145.5L595.2 144.4L596.2 143.1L597.1 142.8L598.1 141.8L599.1 142.3L600.1 140.2L601.0 142.2L602.0 140.7L603.0 140.1L604.0 136.6L604.9 135.7L605.9 135.7L606.9 136.4L607.9 134.8L608.8 135.1L609.8 135.0L610.8 136.3L611.8 135.2L612.7 134.0L613.7 135.6L614.7 135.3L615.7 137.6L616.6 134.4L617.6 134.5L618.6 134.1L619.6 136.8L620.5 137.1L621.5 137.6L622.5 135.3L623.5 135.9L624.4 141.2L625.4 144.3L626.4 146.7L627.4 140.5L628.3 141.9L629.3 135.7L630.3 133.7L631.3 134.1L632.2 138.2L633.2 137.7L634.2 138.6L635.2 139.5L636.1 143.1L637.1 146.3L638.1 138.8L639.1 142.6L640.0 142.4L641.0 145.4L642.0 142.7L643.0 145.2L643.9 140.6L644.9 145.5L645.9 146.5L646.9 145.6L647.8 146.8L648.8 141.7L649.8 147.1L650.8 137.6L651.7 129.3L652.7 129.3L653.7 137.7L654.7 133.4L655.6 136.8L656.6 136.1L657.6 138.1L658.6 136.9L659.5 132.8L660.5 129.9L661.5 126.0L662.5 130.7L663.4 128.4L664.4 124.0L665.4 125.8L666.4 127.6L667.3 144.5L668.3 138.9L669.3 137.8L670.3 140.1L671.2 143.7L672.2 149.0L673.2 139.3L674.2 150.7L675.1 147.5L676.1 148.1L677.1 149.8L678.1 147.2L679.0 141.9L680.0 144.1L681.0 150.5L682.0 147.6" fill="none" stroke="none" marker-start="url(#mk2)" marker-mid="url(#mk2)" marker-end="url(#mk2)"/>
<path d="M492.5,138.97L493,138.94L493.5,138.91L494.01,138.88L494.51,138.85L495.01,138.82L495.51,138.79L496.01,138.77L496.51,138.74L497.01,138.72L497.51,138.69L498.02,138.67L498.52,138.65L499.02,138.63L499.52,138.62L500.02,138.6L500.52,138.59L501.02,138.58L501.52,138.57L502.03,138.57L502.53,138.57L503.03,138.57L503.53,138.57L504.03,138.58L504.53,138.59L505.03,138.6L505.54,138.62L506.04,138.64L506.54,138.66L507.04,138.69L507.54,138.72L508.04,138.75L508.54,138.78L509.04,138.81L509.55,138.85L510.05,138.88L510.55,138.92L511.05,138.95L511.55,138.99L512.05,139.03L512.55,139.06L513.05,139.09L513.56,139.13L514.06,139.16L514.56,139.19L515.06,139.21L515.56,139.24L516.06,139.26L516.56,139.28L517.07,139.29L517.57,139.31L518.07,139.31L518.57,139.32L519.07,139.32L519.57,139.31L520.07,139.3L520.57,139.28L521.08,139.26L521.58,139.23L522.08,139.2L522.58,139.17L523.08,139.13L523.58,139.09L524.08,139.05L524.59,139L525.09,138.96L525.59,138.91L526.09,138.86L526.59,138.81L527.09,138.76L527.59,138.71L528.09,138.67L528.6,138.62L529.1,138.58L529.6,138.53L530.1,138.49L530.6,138.45L531.1,138.42L531.6,138.39L532.1,138.36L532.61,138.34L533.11,138.32L533.61,138.3L534.11,138.29L534.61,138.28L535.11,138.28L535.61,138.28L536.12,138.28L536.62,138.29L537.12,138.31L537.62,138.33L538.12,138.35L538.62,138.38L539.12,138.42L539.62,138.46L540.13,138.51L540.63,138.57L541.13,138.63L541.63,138.69L542.13,138.76L542.63,138.83L543.13,138.91L543.63,138.98L544.14,139.06L544.64,139.13L545.14,139.21L545.64,139.29L546.14,139.36L546.64,139.43L547.14,139.5L547.65,139.56L548.15,139.62L548.65,139.67L549.15,139.72L549.65,139.76L550.15,139.79L550.65,139.81L551.15,139.83L551.66,139.83L552.16,139.83L552.66,139.81L553.16,139.78L553.66,139.74L554.16,139.69L554.66,139.62L555.16,139.54L555.67,139.44L556.17,139.33L556.67,139.21L557.17,139.07L557.67,138.93L558.17,138.77L558.67,138.61L559.18,138.44L559.68,138.26L560.18,138.08L560.68,137.89L561.18,137.69L561.68,137.5L562.18,137.3L562.68,137.1L563.19,136.9L563.69,136.7L564.19,136.5L564.69,136.3L565.19,136.11L565.69,135.92L566.19,135.74L566.7,135.56L567.2,135.39L567.7,135.22L568.2,135.07L568.7,134.93L569.2,134.79L569.7,134.67L570.2,134.56L570.71,134.46L571.21,134.38L571.71,134.31L572.21,134.26L572.71,134.22L573.21,134.21L573.71,134.21L574.21,134.22L574.72,134.26L575.22,134.32L575.72,134.39L576.22,134.49L576.72,134.6L577.22,134.74L577.72,134.9L578.23,135.08L578.73,135.28L579.23,135.5L579.73,135.75L580.23,136.02L580.73,136.32L581.23,136.64L581.73,136.98L582.24,137.35L582.74,137.75L583.24,138.16L583.74,138.6L584.24,139.05L584.74,139.51L585.24,139.98L585.74,140.45L586.25,140.92L586.75,141.38L587.25,141.83L587.75,142.26L588.25,142.68L588.75,143.07L589.25,143.43L589.76,143.77L590.26,144.07L590.76,144.33L591.26,144.55L591.76,144.72L592.26,144.83L592.76,144.89L593.26,144.9L593.77,144.84L594.27,144.73L594.77,144.57L595.27,144.36L595.77,144.11L596.27,143.82L596.77,143.5L597.27,143.15L597.78,142.77L598.28,142.36L598.78,141.94L599.28,141.51L599.78,141.06L600.28,140.61L600.78,140.16L601.29,139.7L601.79,139.25L602.29,138.81L602.79,138.38L603.29,137.96L603.79,137.54L604.29,137.14L604.79,136.75L605.3,136.38L605.8,136.01L606.3,135.67L606.8,135.34L607.3,135.02L607.8,134.73L608.3,134.46L608.8,134.2L609.31,133.97L609.81,133.76L610.31,133.57L610.81,133.41L611.31,133.28L611.81,133.17L612.31,133.09L612.82,133.04L613.32,133.02L613.82,133.03L614.32,133.07L614.82,133.14L615.32,133.25L615.82,133.4L616.32,133.57L616.83,133.77L617.33,134L617.83,134.25L618.33,134.52L618.83,134.8L619.33,135.1L619.83,135.42L620.34,135.74L620.84,136.06L621.34,136.4L621.84,136.73L622.34,137.06L622.84,137.38L623.34,137.7L623.84,138.01L624.35,138.3L624.85,138.58L625.35,138.84L625.85,139.09L626.35,139.32L626.85,139.53L627.35,139.73L627.85,139.92L628.36,140.09L628.86,140.26L629.36,140.41L629.86,140.55L630.36,140.69L630.86,140.81L631.36,140.93L631.87,141.04L632.37,141.15L632.87,141.25L633.37,141.35L633.87,141.44L634.37,141.53L634.87,141.62L635.37,141.71L635.88,141.8L636.38,141.89L636.88,141.97L637.38,142.05L637.88,142.12L638.38,142.18L638.88,142.22L639.38,142.26L639.89,142.27L640.39,142.27L640.89,142.25L641.39,142.21L641.89,142.14L642.39,142.05L642.89,141.93L643.4,141.78L643.9,141.6L644.4,141.39L644.9,141.14L645.4,140.86L645.9,140.53L646.4,140.17L646.9,139.77L647.41,139.33L647.91,138.88L648.41,138.4L648.91,137.9L649.41,137.39L649.91,136.87L650.41,136.35L650.91,135.82L651.42,135.31L651.92,134.8L652.42,134.3L652.92,133.83L653.42,133.38L653.92,132.95L654.42,132.56L654.93,132.2L655.43,131.88L655.93,131.61L656.43,131.39L656.93,131.22L657.43,131.11L657.93,131.07L658.43,131.09L658.94,131.19L659.44,131.35L659.94,131.58L660.44,131.88L660.94,132.24L661.44,132.66L661.94,133.14L662.45,133.67L662.95,134.26L663.45,134.9L663.95,135.58L664.45,136.31L664.95,137.07L665.45,137.88L665.95,138.73L666.46,139.61L666.96,140.52L667.46,141.46L667.96,142.42L668.46,143.38L668.96,144.34L669.46,145.28L669.96,146.19L670.47,147.07L670.97,147.89L671.47,148.65L671.97,149.33L672.47,149.93L672.97,150.42L673.47,150.81L673.98,151.08L674.48,151.21L674.98,151.2L675.48,151.06L675.98,150.8L676.48,150.41L676.98,149.91L677.48,149.31L677.99,148.62L678.49,147.84L678.99,146.98L679.49,146.05L679.99,145.06L680.49,144.01L680.99,142.91L681.49,141.78L682,140.61L682.5,139.42L683,138.21" fill="none" stroke="#ff2a2a" stroke-width="1.4" stroke-linejoin="round" stroke-linecap="round" />
<circle cx="506" cy="16.2" r="2.4" fill="none" stroke="#2b8cae" stroke-width="0.7"/>
<text x="522.7" y="20.6" font-family="'Liberation Serif', serif" font-size="10.5" font-weight="bold" fill="#000" text-anchor="start" >Mo-foil</text>
<line x1="494" y1="30.2" x2="519" y2="30.2" stroke="#2b8cae" stroke-width="1.4" />
<text x="522.7" y="34.6" font-family="'Liberation Serif', serif" font-size="10.5" font-weight="bold" fill="#000" text-anchor="start" >Fitting</text>
<circle cx="506" cy="61.2" r="2.4" fill="none" stroke="#f7a040" stroke-width="0.7"/>
<text x="522.7" y="65.6" font-family="'Liberation Serif', serif" font-size="10.5" font-weight="bold" fill="#000" text-anchor="start" >MoS<tspan dy="2.94" font-size="7.56">2</tspan><tspan dy="-2.94"></tspan></text>
<line x1="494" y1="77.4" x2="519" y2="77.4" stroke="#f7a040" stroke-width="1.4" />
<text x="522.7" y="81.8" font-family="'Liberation Serif', serif" font-size="10.5" font-weight="bold" fill="#000" text-anchor="start" >Fitting</text>
<circle cx="505.4" cy="110" r="2.4" fill="none" stroke="#ff2a2a" stroke-width="0.7"/>
<text x="520.7" y="114.4" font-family="'Liberation Serif', serif" font-size="10.5" font-weight="bold" fill="#000" text-anchor="start" >6%-MoS<tspan dy="2.94" font-size="7.56">2</tspan><tspan dy="-2.94">/Zn</tspan><tspan dy="2.94" font-size="7.56">3</tspan><tspan dy="-2.94">In</tspan><tspan dy="2.94" font-size="7.56">4</tspan><tspan dy="-2.94">S</tspan><tspan dy="2.94" font-size="7.56">9</tspan><tspan dy="-2.94"></tspan></text>
<line x1="494" y1="127.5" x2="517.5" y2="127.5" stroke="#ff2a2a" stroke-width="1.4" />
<text x="520.7" y="131.9" font-family="'Liberation Serif', serif" font-size="10.5" font-weight="bold" fill="#000" text-anchor="start" >Fitting</text>
<text x="681" y="16" font-family="'Liberation Serif', serif" font-size="10.5" font-weight="bold" fill="#000" text-anchor="end" >Mo k-space</text>
<rect x="492" y="4.4" width="191.5" height="161" fill="none" stroke="#000" stroke-width="1.4" />
<defs><linearGradient id="g7" x1="0" y1="0" x2="0" y2="1"><stop offset="0" stop-color="#f7fafd"/><stop offset="0.5" stop-color="#fcfbfd"/><stop offset="1" stop-color="#fef8f8"/></linearGradient></defs>
<rect x="24.5" y="207" width="192.5" height="161.3" fill="url(#g7)" stroke="none" stroke-width="1" />
<defs><linearGradient id="g8" x1="0" y1="0" x2="0" y2="1"><stop offset="0" stop-color="#d2e5f1"/><stop offset="0.5" stop-color="#ebe1ea"/><stop offset="1" stop-color="#f8d4d4"/></linearGradient></defs>
<rect x="24.5" y="207" width="192.5" height="161.3" fill="url(#g8)" mask="url(#gridmask)" opacity="0.8"/>
<text x="2" y="216" font-family="'Liberation Serif', serif" font-size="16" font-weight="bold" fill="#000" text-anchor="start" >d</text>
<line x1="25" y1="368.3" x2="25" y2="371.9" stroke="#1a1a1a" stroke-width="1.3" />
<line x1="73" y1="368.3" x2="73" y2="371.9" stroke="#1a1a1a" stroke-width="1.3" />
<line x1="121" y1="368.3" x2="121" y2="371.9" stroke="#1a1a1a" stroke-width="1.3" />
<line x1="169" y1="368.3" x2="169" y2="371.9" stroke="#1a1a1a" stroke-width="1.3" />
<line x1="217" y1="368.3" x2="217" y2="371.9" stroke="#1a1a1a" stroke-width="1.3" />
<line x1="49" y1="368.3" x2="49" y2="370.3" stroke="#1a1a1a" stroke-width="1.3" />
<line x1="97" y1="368.3" x2="97" y2="370.3" stroke="#1a1a1a" stroke-width="1.3" />
<line x1="145" y1="368.3" x2="145" y2="370.3" stroke="#1a1a1a" stroke-width="1.3" />
<line x1="193" y1="368.3" x2="193" y2="370.3" stroke="#1a1a1a" stroke-width="1.3" />
<text x="25" y="381" font-family="'Liberation Serif', serif" font-size="11.3" font-weight="bold" fill="#000" text-anchor="middle" >0</text>
<text x="73" y="381" font-family="'Liberation Serif', serif" font-size="11.3" font-weight="bold" fill="#000" text-anchor="middle" >1</text>
<text x="121" y="381" font-family="'Liberation Serif', serif" font-size="11.3" font-weight="bold" fill="#000" text-anchor="middle" >2</text>
<text x="169" y="381" font-family="'Liberation Serif', serif" font-size="11.3" font-weight="bold" fill="#000" text-anchor="middle" >3</text>
<text x="217" y="381" font-family="'Liberation Serif', serif" font-size="11.3" font-weight="bold" fill="#000" text-anchor="middle" >4</text>
<text x="121" y="399.5" font-family="'Liberation Serif', serif" font-size="12.5" font-weight="bold" text-anchor="middle">Radial distance <tspan font-size="10">(Å)</tspan></text>
<text x="11.2" y="293.7" font-family="'Liberation Serif', serif" font-size="12.5" font-weight="bold" text-anchor="middle" transform="rotate(-90 11.2 293.7)">FT(K<tspan dy="-4.5" font-size="9">2</tspan><tspan dy="4.5"> </tspan><tspan font-style="italic">χ</tspan>(k))</text>
<defs><marker id="mk3" markerUnits="userSpaceOnUse" markerWidth="6.4" markerHeight="6.4" refX="3.2" refY="3.2" overflow="visible"><circle cx="3.2" cy="3.2" r="2.2" fill="none" stroke="#2b8cae" stroke-width="0.45" opacity="0.6"/></marker></defs>
<path d="M25.3 254.9L26.1 254.7L26.9 254.5L27.8 254.1L28.6 254.5L29.4 254.9L30.2 255.0L31.1 255.0L31.9 254.5L32.7 254.3L33.5 253.6L34.4 253.8L35.2 254.1L36.0 253.7L36.8 254.3L37.7 254.5L38.5 254.0L39.3 253.4L40.1 254.1L41.0 253.6L41.8 254.5L42.6 254.2L43.4 254.0L44.3 253.9L45.1 253.4L45.9 253.2L46.7 253.1L47.6 253.2L48.4 253.8L49.2 254.0L50.0 254.2L50.9 254.5L51.7 254.3L52.5 253.8L53.3 253.4L54.2 252.9L55.0 252.7L55.8 253.0L56.6 252.7L57.5 252.7L58.3 252.7L59.1 252.3L59.9 252.6L60.8 253.3L61.6 253.1L62.4 253.7L63.2 253.0L64.1 253.1L64.9 252.4L65.7 252.3L66.5 252.2L67.4 252.3L68.2 252.9L69.0 253.1L69.8 253.4L70.7 253.5L71.5 254.2L72.3 254.1L73.1 253.7L74.0 253.2L74.8 253.7L75.6 254.1L76.4 254.6L77.3 255.1L78.1 255.2L78.9 255.0L79.7 255.4L80.6 255.4L81.4 255.2L82.2 254.6L83.0 254.5L83.9 254.8L84.7 255.3L85.5 255.7L86.3 255.2L87.2 255.0L88.0 254.9L88.8 254.7L89.6 254.8L90.5 254.8L91.3 254.2L92.1 254.4L92.9 254.4L93.8 254.1L94.6 253.1L95.4 251.9L96.2 252.1L97.1 252.1L97.9 252.6L98.7 252.4L99.5 251.5L100.4 250.7L101.2 249.6L102.0 249.3L102.8 248.4L103.7 247.5L104.5 246.6L105.3 245.2L106.1 243.7L107.0 243.5L107.8 242.8L108.6 242.0L109.4 241.1L110.3 241.1L111.1 241.3L111.9 240.4L112.7 239.2L113.6 237.4L114.4 235.9L115.2 234.6L116.0 233.6L116.9 232.6L117.7 232.2L118.5 231.2L119.3 230.4L120.2 229.6L121.0 228.6L121.8 228.4L122.6 228.6L123.5 227.8L124.3 227.4L125.1 226.5L125.9 225.6L126.8 225.2L127.6 224.4L128.4 223.0L129.2 222.0L130.1 221.1L130.9 221.0L131.7 220.4L132.5 220.4L133.4 220.3L134.2 219.9L135.0 219.6L135.8 219.9L136.7 219.5L137.5 218.3L138.3 218.5L139.1 218.3L140.0 218.5L140.8 218.2L141.6 218.1L142.4 218.3L143.3 218.5L144.1 218.9L144.9 219.0L145.7 219.1L146.6 219.3L147.4 219.1L148.2 220.3L149.0 220.3L149.9 221.0L150.7 221.8L151.5 222.8L152.3 223.0L153.2 224.0L154.0 223.8L154.8 224.3L155.6 225.0L156.5 226.2L157.3 228.1L158.1 228.9L158.9 229.9L159.8 230.5L160.6 230.9L161.4 231.9L162.2 232.6L163.1 233.5L163.9 233.6L164.7 234.9L165.5 236.6L166.4 237.9L167.2 238.5L168.0 238.8L168.8 239.1L169.7 240.6L170.5 241.4L171.3 241.8L172.1 241.8L173.0 242.4L173.8 242.7L174.6 242.7L175.4 243.3L176.3 244.6L177.1 245.6L177.9 246.2L178.7 246.6L179.6 246.5L180.4 246.4L181.2 246.4L182.0 246.4L182.9 247.0L183.7 247.8L184.5 247.6L185.3 247.9L186.2 247.8L187.0 249.0L187.8 249.2L188.6 250.0L189.5 249.6L190.3 250.3L191.1 251.4L191.9 251.3L192.8 251.5L193.6 251.5L194.4 251.5L195.2 251.6L196.1 251.4L196.9 251.8L197.7 252.7L198.5 253.2L199.4 253.8L200.2 254.7L201.0 255.2L201.8 255.0L202.7 254.9L203.5 254.9L204.3 254.3L205.1 253.7L206.0 252.8L206.8 252.5L207.6 252.7L208.4 252.3L209.3 253.0L210.1 253.1L210.9 252.7L211.7 252.1L212.6 252.0L213.4 251.8L214.2 251.2L215.0 251.0L215.9 251.1" fill="none" stroke="none" marker-start="url(#mk3)" marker-mid="url(#mk3)" marker-end="url(#mk3)"/>
<path d="M25,254.5L25.5,254.48L26,254.46L26.5,254.44L27.01,254.43L27.51,254.41L28.01,254.39L28.51,254.37L29.01,254.35L29.51,254.33L30.01,254.31L30.51,254.3L31.02,254.28L31.52,254.26L32.02,254.24L32.52,254.23L33.02,254.21L33.52,254.19L34.02,254.18L34.52,254.16L35.03,254.14L35.53,254.13L36.03,254.11L36.53,254.1L37.03,254.08L37.53,254.07L38.03,254.05L38.54,254.04L39.04,254.03L39.54,254.01L40.04,254L40.54,253.99L41.04,253.97L41.54,253.96L42.04,253.95L42.55,253.94L43.05,253.93L43.55,253.92L44.05,253.91L44.55,253.89L45.05,253.88L45.55,253.87L46.05,253.86L46.56,253.84L47.06,253.83L47.56,253.82L48.06,253.8L48.56,253.79L49.06,253.77L49.56,253.75L50.07,253.74L50.57,253.72L51.07,253.7L51.57,253.68L52.07,253.66L52.57,253.63L53.07,253.61L53.57,253.58L54.08,253.55L54.58,253.53L55.08,253.5L55.58,253.46L56.08,253.43L56.58,253.4L57.08,253.36L57.58,253.32L58.09,253.29L58.59,253.25L59.09,253.22L59.59,253.18L60.09,253.15L60.59,253.11L61.09,253.08L61.6,253.05L62.1,253.02L62.6,252.99L63.1,252.97L63.6,252.95L64.1,252.93L64.6,252.91L65.1,252.9L65.61,252.89L66.11,252.88L66.61,252.88L67.11,252.88L67.61,252.89L68.11,252.9L68.61,252.92L69.11,252.95L69.62,252.97L70.12,253.01L70.62,253.05L71.12,253.1L71.62,253.15L72.12,253.2L72.62,253.27L73.13,253.33L73.63,253.4L74.13,253.48L74.63,253.55L75.13,253.63L75.63,253.72L76.13,253.8L76.63,253.89L77.14,253.98L77.64,254.07L78.14,254.16L78.64,254.25L79.14,254.34L79.64,254.43L80.14,254.53L80.64,254.62L81.15,254.71L81.65,254.79L82.15,254.88L82.65,254.96L83.15,255.03L83.65,255.11L84.15,255.17L84.66,255.23L85.16,255.28L85.66,255.32L86.16,255.35L86.66,255.38L87.16,255.39L87.66,255.39L88.16,255.38L88.67,255.35L89.17,255.32L89.67,255.26L90.17,255.2L90.67,255.11L91.17,255.02L91.67,254.9L92.17,254.76L92.68,254.61L93.18,254.44L93.68,254.24L94.18,254.03L94.68,253.8L95.18,253.55L95.68,253.28L96.19,253L96.69,252.7L97.19,252.39L97.69,252.06L98.19,251.72L98.69,251.36L99.19,250.99L99.69,250.61L100.2,250.22L100.7,249.81L101.2,249.4L101.7,248.98L102.2,248.54L102.7,248.1L103.2,247.66L103.7,247.2L104.21,246.74L104.71,246.27L105.21,245.8L105.71,245.33L106.21,244.85L106.71,244.36L107.21,243.88L107.72,243.38L108.22,242.89L108.72,242.39L109.22,241.89L109.72,241.39L110.22,240.89L110.72,240.38L111.22,239.87L111.73,239.36L112.23,238.85L112.73,238.34L113.23,237.83L113.73,237.32L114.23,236.81L114.73,236.3L115.23,235.78L115.74,235.27L116.24,234.76L116.74,234.26L117.24,233.75L117.74,233.24L118.24,232.74L118.74,232.24L119.25,231.74L119.75,231.25L120.25,230.76L120.75,230.27L121.25,229.78L121.75,229.3L122.25,228.83L122.75,228.36L123.26,227.89L123.76,227.43L124.26,226.98L124.76,226.53L125.26,226.09L125.76,225.66L126.26,225.24L126.77,224.82L127.27,224.41L127.77,224.02L128.27,223.63L128.77,223.25L129.27,222.88L129.77,222.52L130.27,222.17L130.78,221.84L131.28,221.52L131.78,221.2L132.28,220.91L132.78,220.62L133.28,220.35L133.78,220.09L134.28,219.85L134.79,219.62L135.29,219.4L135.79,219.2L136.29,219.02L136.79,218.85L137.29,218.7L137.79,218.56L138.3,218.44L138.8,218.34L139.3,218.26L139.8,218.19L140.3,218.14L140.8,218.11L141.3,218.1L141.8,218.11L142.31,218.13L142.81,218.18L143.31,218.24L143.81,218.32L144.31,218.43L144.81,218.55L145.31,218.69L145.81,218.86L146.32,219.04L146.82,219.24L147.32,219.46L147.82,219.7L148.32,219.97L148.82,220.25L149.32,220.56L149.83,220.88L150.33,221.23L150.83,221.59L151.33,221.98L151.83,222.38L152.33,222.8L152.83,223.24L153.33,223.69L153.84,224.16L154.34,224.64L154.84,225.13L155.34,225.63L155.84,226.14L156.34,226.66L156.84,227.19L157.34,227.73L157.85,228.27L158.35,228.81L158.85,229.36L159.35,229.92L159.85,230.47L160.35,231.02L160.85,231.58L161.36,232.13L161.86,232.68L162.36,233.22L162.86,233.77L163.36,234.3L163.86,234.83L164.36,235.35L164.86,235.86L165.37,236.37L165.87,236.86L166.37,237.34L166.87,237.81L167.37,238.28L167.87,238.73L168.37,239.17L168.87,239.61L169.38,240.03L169.88,240.45L170.38,240.85L170.88,241.25L171.38,241.64L171.88,242.02L172.38,242.39L172.89,242.75L173.39,243.1L173.89,243.45L174.39,243.78L174.89,244.11L175.39,244.43L175.89,244.74L176.39,245.05L176.9,245.34L177.4,245.63L177.9,245.91L178.4,246.18L178.9,246.45L179.4,246.7L179.9,246.95L180.4,247.2L180.91,247.43L181.41,247.66L181.91,247.88L182.41,248.1L182.91,248.31L183.41,248.52L183.91,248.72L184.42,248.91L184.92,249.1L185.42,249.29L185.92,249.47L186.42,249.65L186.92,249.83L187.42,250L187.92,250.17L188.43,250.34L188.93,250.51L189.43,250.67L189.93,250.83L190.43,251L190.93,251.16L191.43,251.32L191.93,251.48L192.44,251.64L192.94,251.8L193.44,251.96L193.94,252.12L194.44,252.27L194.94,252.43L195.44,252.58L195.95,252.72L196.45,252.86L196.95,253L197.45,253.13L197.95,253.25L198.45,253.37L198.95,253.48L199.45,253.58L199.96,253.67L200.46,253.75L200.96,253.82L201.46,253.88L201.96,253.93L202.46,253.97L202.96,253.99L203.46,254L203.97,254L204.47,253.98L204.97,253.95L205.47,253.91L205.97,253.85L206.47,253.78L206.97,253.71L207.48,253.62L207.98,253.52L208.48,253.41L208.98,253.3L209.48,253.18L209.98,253.05L210.48,252.92L210.98,252.79L211.49,252.65L211.99,252.5L212.49,252.36L212.99,252.21L213.49,252.06L213.99,251.92L214.49,251.76L214.99,251.61L215.5,251.46L216,251.31L216.5,251.15" fill="none" stroke="#2b8cae" stroke-width="1.4" stroke-linejoin="round" stroke-linecap="round" />
<defs><marker id="mk4" markerUnits="userSpaceOnUse" markerWidth="6.4" markerHeight="6.4" refX="3.2" refY="3.2" overflow="visible"><circle cx="3.2" cy="3.2" r="2.2" fill="none" stroke="#f7a040" stroke-width="0.45" opacity="0.6"/></marker></defs>
<path d="M25.3 295.6L26.1 296.4L26.9 296.2L27.8 296.7L28.6 296.3L29.4 296.5L30.2 296.3L31.1 296.1L31.9 296.0L32.7 296.3L33.5 296.2L34.4 296.1L35.2 296.8L36.0 296.6L36.8 295.8L37.7 295.9L38.5 295.9L39.3 295.8L40.1 295.3L41.0 296.0L41.8 296.0L42.6 296.5L43.4 296.5L44.3 296.7L45.1 297.6L45.9 298.0L46.7 297.6L47.6 297.7L48.4 297.8L49.2 297.5L50.0 297.2L50.9 296.6L51.7 296.4L52.5 296.3L53.3 296.0L54.2 295.5L55.0 295.6L55.8 295.9L56.6 295.6L57.5 295.9L58.3 296.0L59.1 296.3L59.9 296.2L60.8 296.0L61.6 295.7L62.4 295.9L63.2 296.0L64.1 296.2L64.9 297.0L65.7 296.8L66.5 297.5L67.4 297.3L68.2 297.3L69.0 297.2L69.8 296.3L70.7 295.9L71.5 295.6L72.3 295.6L73.1 295.4L74.0 295.0L74.8 294.9L75.6 294.6L76.4 293.6L77.3 292.7L78.1 292.7L78.9 292.6L79.7 292.5L80.6 292.2L81.4 292.9L82.2 292.7L83.0 293.4L83.9 293.1L84.7 293.7L85.5 293.7L86.3 294.3L87.2 294.8L88.0 295.2L88.8 295.5L89.6 295.5L90.5 295.6L91.3 295.1L92.1 296.3L92.9 296.3L93.8 296.1L94.6 295.4L95.4 295.9L96.2 294.8L97.1 294.6L97.9 293.2L98.7 292.5L99.5 292.0L100.4 290.9L101.2 289.0L102.0 287.7L102.8 286.6L103.7 284.7L104.5 283.8L105.3 281.8L106.1 280.9L107.0 279.7L107.8 279.2L108.6 278.4L109.4 278.1L110.3 277.7L111.1 277.1L111.9 276.7L112.7 276.2L113.6 276.1L114.4 276.1L115.2 275.7L116.0 276.0L116.9 276.1L117.7 276.6L118.5 276.7L119.3 277.6L120.2 278.5L121.0 279.5L121.8 280.7L122.6 281.7L123.5 282.1L124.3 283.8L125.1 285.2L125.9 286.4L126.8 287.1L127.6 288.3L128.4 289.2L129.2 290.8L130.1 291.9L130.9 292.4L131.7 292.8L132.5 293.3L133.4 293.8L134.2 293.6L135.0 294.0L135.8 293.2L136.7 293.6L137.5 294.0L138.3 294.2L139.1 293.6L140.0 293.3L140.8 292.9L141.6 292.6L142.4 292.2L143.3 292.3L144.1 292.6L144.9 293.4L145.7 293.0L146.6 293.6L147.4 294.0L148.2 293.4L149.0 293.8L149.9 293.3L150.7 292.7L151.5 292.7L152.3 292.8L153.2 292.6L154.0 292.7L154.8 292.2L155.6 291.9L156.5 291.8L157.3 291.6L158.1 291.9L158.9 291.8L159.8 292.0L160.6 292.8L161.4 293.2L162.2 293.1L163.1 292.8L163.9 292.2L164.7 292.0L165.5 292.5L166.4 292.4L167.2 292.0L168.0 291.8L168.8 291.7L169.7 291.9L170.5 292.5L171.3 293.0L172.1 292.8L173.0 292.9L173.8 293.0L174.6 293.5L175.4 293.7L176.3 293.3L177.1 293.5L177.9 293.6L178.7 294.3L179.6 294.6L180.4 295.0L181.2 295.1L182.0 295.8L182.9 295.3L183.7 295.2L184.5 295.4L185.3 295.8L186.2 295.9L187.0 295.9L187.8 295.9L188.6 297.3L189.5 297.9L190.3 297.9L191.1 297.7L191.9 297.6L192.8 298.0L193.6 298.0L194.4 298.6L195.2 298.3L196.1 298.1L196.9 297.6L197.7 296.9L198.5 296.4L199.4 296.6L200.2 296.9L201.0 296.6L201.8 296.6L202.7 296.8L203.5 296.1L204.3 296.3L205.1 296.5L206.0 296.9L206.8 296.4L207.6 296.6L208.4 296.2L209.3 295.3L210.1 295.8L210.9 295.9L211.7 296.2L212.6 296.2L213.4 296.1L214.2 296.1L215.0 296.1L215.9 295.9" fill="none" stroke="none" marker-start="url(#mk4)" marker-mid="url(#mk4)" marker-end="url(#mk4)"/>
<path d="M25,296.5L25.5,296.48L26,296.45L26.5,296.43L27.01,296.4L27.51,296.38L28.01,296.35L28.51,296.33L29.01,296.31L29.51,296.28L30.01,296.26L30.51,296.24L31.02,296.22L31.52,296.2L32.02,296.18L32.52,296.16L33.02,296.14L33.52,296.12L34.02,296.1L34.52,296.08L35.03,296.07L35.53,296.05L36.03,296.04L36.53,296.03L37.03,296.01L37.53,296L38.03,295.99L38.54,295.98L39.04,295.98L39.54,295.97L40.04,295.97L40.54,295.96L41.04,295.96L41.54,295.96L42.04,295.96L42.55,295.96L43.05,295.97L43.55,295.97L44.05,295.98L44.55,295.99L45.05,296L45.55,296.01L46.05,296.03L46.56,296.04L47.06,296.06L47.56,296.08L48.06,296.1L48.56,296.12L49.06,296.14L49.56,296.16L50.07,296.19L50.57,296.21L51.07,296.23L51.57,296.25L52.07,296.28L52.57,296.3L53.07,296.32L53.57,296.34L54.08,296.36L54.58,296.38L55.08,296.4L55.58,296.42L56.08,296.44L56.58,296.45L57.08,296.46L57.58,296.48L58.09,296.48L58.59,296.49L59.09,296.5L59.59,296.5L60.09,296.5L60.59,296.5L61.09,296.49L61.6,296.48L62.1,296.47L62.6,296.46L63.1,296.44L63.6,296.42L64.1,296.39L64.6,296.36L65.1,296.32L65.61,296.29L66.11,296.24L66.61,296.19L67.11,296.14L67.61,296.08L68.11,296.02L68.61,295.95L69.11,295.87L69.62,295.79L70.12,295.7L70.62,295.61L71.12,295.51L71.62,295.4L72.12,295.29L72.62,295.17L73.13,295.04L73.63,294.91L74.13,294.77L74.63,294.62L75.13,294.46L75.63,294.29L76.13,294.12L76.63,293.95L77.14,293.78L77.64,293.61L78.14,293.45L78.64,293.29L79.14,293.14L79.64,293.01L80.14,292.89L80.64,292.79L81.15,292.7L81.65,292.64L82.15,292.61L82.65,292.6L83.15,292.62L83.65,292.68L84.15,292.76L84.66,292.89L85.16,293.06L85.66,293.26L86.16,293.49L86.66,293.75L87.16,294.03L87.66,294.31L88.16,294.6L88.67,294.87L89.17,295.14L89.67,295.38L90.17,295.59L90.67,295.77L91.17,295.9L91.67,295.98L92.17,296L92.68,295.96L93.18,295.85L93.68,295.69L94.18,295.48L94.68,295.21L95.18,294.89L95.68,294.53L96.19,294.13L96.69,293.69L97.19,293.21L97.69,292.7L98.19,292.16L98.69,291.59L99.19,291L99.69,290.38L100.2,289.75L100.7,289.11L101.2,288.45L101.7,287.78L102.2,287.11L102.7,286.44L103.2,285.77L103.7,285.1L104.21,284.44L104.71,283.79L105.21,283.15L105.71,282.53L106.21,281.93L106.71,281.35L107.21,280.8L107.72,280.28L108.22,279.79L108.72,279.34L109.22,278.92L109.72,278.53L110.22,278.18L110.72,277.86L111.22,277.58L111.73,277.33L112.23,277.11L112.73,276.92L113.23,276.77L113.73,276.65L114.23,276.57L114.73,276.51L115.23,276.49L115.74,276.5L116.24,276.54L116.74,276.63L117.24,276.74L117.74,276.9L118.24,277.1L118.74,277.34L119.25,277.62L119.75,277.95L120.25,278.32L120.75,278.74L121.25,279.21L121.75,279.72L122.25,280.29L122.75,280.91L123.26,281.57L123.76,282.27L124.26,282.99L124.76,283.73L125.26,284.49L125.76,285.25L126.26,286.01L126.77,286.77L127.27,287.51L127.77,288.23L128.27,288.92L128.77,289.58L129.27,290.2L129.77,290.76L130.27,291.27L130.78,291.72L131.28,292.12L131.78,292.47L132.28,292.77L132.78,293.02L133.28,293.23L133.78,293.4L134.28,293.54L134.79,293.64L135.29,293.71L135.79,293.76L136.29,293.78L136.79,293.78L137.29,293.76L137.79,293.73L138.3,293.69L138.8,293.64L139.3,293.58L139.8,293.52L140.3,293.47L140.8,293.41L141.3,293.36L141.8,293.31L142.31,293.26L142.81,293.21L143.31,293.16L143.81,293.12L144.31,293.08L144.81,293.04L145.31,293L145.81,292.96L146.32,292.93L146.82,292.89L147.32,292.86L147.82,292.83L148.32,292.8L148.82,292.78L149.32,292.75L149.83,292.73L150.33,292.71L150.83,292.69L151.33,292.67L151.83,292.65L152.33,292.63L152.83,292.61L153.33,292.6L153.84,292.59L154.34,292.57L154.84,292.56L155.34,292.55L155.84,292.54L156.34,292.53L156.84,292.53L157.34,292.52L157.85,292.51L158.35,292.51L158.85,292.51L159.35,292.5L159.85,292.5L160.35,292.5L160.85,292.5L161.36,292.5L161.86,292.5L162.36,292.5L162.86,292.51L163.36,292.51L163.86,292.52L164.36,292.53L164.86,292.54L165.37,292.55L165.87,292.57L166.37,292.59L166.87,292.61L167.37,292.64L167.87,292.66L168.37,292.7L168.87,292.73L169.38,292.77L169.88,292.81L170.38,292.86L170.88,292.91L171.38,292.96L171.88,293.02L172.38,293.09L172.89,293.15L173.39,293.23L173.89,293.31L174.39,293.39L174.89,293.48L175.39,293.57L175.89,293.68L176.39,293.78L176.9,293.89L177.4,294.01L177.9,294.12L178.4,294.25L178.9,294.37L179.4,294.5L179.9,294.63L180.4,294.76L180.91,294.89L181.41,295.03L181.91,295.16L182.41,295.3L182.91,295.44L183.41,295.57L183.91,295.71L184.42,295.84L184.92,295.98L185.42,296.11L185.92,296.24L186.42,296.37L186.92,296.49L187.42,296.61L187.92,296.72L188.43,296.83L188.93,296.93L189.43,297.03L189.93,297.12L190.43,297.2L190.93,297.28L191.43,297.34L191.93,297.4L192.44,297.44L192.94,297.48L193.44,297.5L193.94,297.52L194.44,297.52L194.94,297.5L195.44,297.48L195.95,297.44L196.45,297.39L196.95,297.33L197.45,297.26L197.95,297.18L198.45,297.1L198.95,297.01L199.45,296.92L199.96,296.82L200.46,296.73L200.96,296.63L201.46,296.53L201.96,296.44L202.46,296.35L202.96,296.27L203.46,296.19L203.97,296.12L204.47,296.06L204.97,296L205.47,295.96L205.97,295.93L206.47,295.91L206.97,295.9L207.48,295.9L207.98,295.9L208.48,295.92L208.98,295.94L209.48,295.97L209.98,296.01L210.48,296.05L210.98,296.1L211.49,296.16L211.99,296.22L212.49,296.28L212.99,296.35L213.49,296.42L213.99,296.5L214.49,296.58L214.99,296.66L215.5,296.74L216,296.83L216.5,296.91" fill="none" stroke="#f7a040" stroke-width="1.4" stroke-linejoin="round" stroke-linecap="round" />
<defs><marker id="mk5" markerUnits="userSpaceOnUse" markerWidth="6.4" markerHeight="6.4" refX="3.2" refY="3.2" overflow="visible"><circle cx="3.2" cy="3.2" r="2.2" fill="none" stroke="#ff2a2a" stroke-width="0.45" opacity="0.6"/></marker></defs>
<path d="M25.3 355.6L26.1 355.3L26.9 355.4L27.8 355.4L28.6 355.0L29.4 355.2L30.2 355.7L31.1 356.2L31.9 356.4L32.7 356.0L33.5 355.9L34.4 355.5L35.2 355.6L36.0 355.9L36.8 356.0L37.7 355.8L38.5 355.7L39.3 355.2L40.1 354.4L41.0 354.3L41.8 354.8L42.6 354.9L43.4 354.9L44.3 355.6L45.1 355.8L45.9 355.4L46.7 354.8L47.6 354.7L48.4 354.1L49.2 353.9L50.0 353.5L50.9 353.9L51.7 353.6L52.5 352.9L53.3 353.2L54.2 353.6L55.0 354.1L55.8 354.5L56.6 354.5L57.5 354.3L58.3 354.2L59.1 354.0L59.9 353.5L60.8 354.2L61.6 354.5L62.4 355.0L63.2 354.9L64.1 354.0L64.9 353.1L65.7 352.4L66.5 352.0L67.4 352.1L68.2 352.5L69.0 352.8L69.8 352.7L70.7 352.8L71.5 352.7L72.3 352.8L73.1 352.5L74.0 352.7L74.8 351.6L75.6 351.0L76.4 351.1L77.3 350.6L78.1 350.3L78.9 350.5L79.7 349.9L80.6 350.5L81.4 350.3L82.2 350.2L83.0 350.1L83.9 350.8L84.7 350.9L85.5 351.5L86.3 352.4L87.2 353.0L88.0 353.9L88.8 354.5L89.6 355.6L90.5 356.6L91.3 356.9L92.1 357.2L92.9 356.8L93.8 356.5L94.6 355.5L95.4 354.4L96.2 353.1L97.1 351.6L97.9 349.5L98.7 347.0L99.5 345.0L100.4 342.9L101.2 341.3L102.0 340.6L102.8 339.1L103.7 337.5L104.5 335.6L105.3 333.3L106.1 331.8L107.0 331.0L107.8 330.1L108.6 329.1L109.4 327.6L110.3 327.1L111.1 326.8L111.9 326.7L112.7 325.7L113.6 326.3L114.4 326.1L115.2 326.1L116.0 326.8L116.9 326.3L117.7 326.4L118.5 327.2L119.3 328.1L120.2 328.8L121.0 329.5L121.8 329.9L122.6 330.9L123.5 331.4L124.3 332.8L125.1 334.6L125.9 335.8L126.8 337.4L127.6 338.4L128.4 338.8L129.2 339.8L130.1 339.8L130.9 340.7L131.7 341.1L132.5 340.8L133.4 341.4L134.2 341.0L135.0 340.5L135.8 339.7L136.7 339.7L137.5 339.6L138.3 338.5L139.1 338.2L140.0 337.6L140.8 336.7L141.6 336.5L142.4 335.3L143.3 334.5L144.1 334.2L144.9 333.5L145.7 334.1L146.6 333.1L147.4 333.1L148.2 333.8L149.0 334.1L149.9 333.9L150.7 334.0L151.5 334.8L152.3 335.4L153.2 336.0L154.0 336.1L154.8 335.6L155.6 336.3L156.5 336.6L157.3 337.3L158.1 337.3L158.9 337.9L159.8 338.0L160.6 338.8L161.4 338.7L162.2 339.6L163.1 339.7L163.9 339.9L164.7 339.8L165.5 340.7L166.4 341.1L167.2 342.1L168.0 342.8L168.8 342.6L169.7 342.6L170.5 342.7L171.3 343.2L172.1 342.9L173.0 343.0L173.8 343.6L174.6 344.3L175.4 344.7L176.3 345.5L177.1 346.2L177.9 346.6L178.7 346.8L179.6 346.4L180.4 346.7L181.2 346.8L182.0 347.5L182.9 348.6L183.7 348.9L184.5 348.8L185.3 348.4L186.2 348.3L187.0 348.7L187.8 349.3L188.6 349.8L189.5 350.6L190.3 350.9L191.1 351.1L191.9 351.8L192.8 351.2L193.6 351.4L194.4 351.5L195.2 351.6L196.1 351.4L196.9 351.9L197.7 352.1L198.5 352.3L199.4 352.4L200.2 352.6L201.0 352.0L201.8 352.3L202.7 351.7L203.5 351.4L204.3 351.7L205.1 351.7L206.0 351.7L206.8 351.9L207.6 352.2L208.4 352.0L209.3 352.5L210.1 353.0L210.9 353.1L211.7 353.8L212.6 353.4L213.4 353.6L214.2 353.8L215.0 353.8L215.9 354.2" fill="none" stroke="none" marker-start="url(#mk5)" marker-mid="url(#mk5)" marker-end="url(#mk5)"/>
<path d="M25,355.7L25.5,355.69L26,355.69L26.5,355.68L27.01,355.67L27.51,355.67L28.01,355.66L28.51,355.65L29.01,355.64L29.51,355.64L30.01,355.63L30.51,355.62L31.02,355.61L31.52,355.59L32.02,355.58L32.52,355.57L33.02,355.55L33.52,355.54L34.02,355.52L34.52,355.5L35.03,355.48L35.53,355.46L36.03,355.44L36.53,355.41L37.03,355.39L37.53,355.36L38.03,355.33L38.54,355.3L39.04,355.27L39.54,355.23L40.04,355.2L40.54,355.16L41.04,355.12L41.54,355.07L42.04,355.03L42.55,354.99L43.05,354.94L43.55,354.89L44.05,354.84L44.55,354.8L45.05,354.75L45.55,354.7L46.05,354.65L46.56,354.6L47.06,354.55L47.56,354.5L48.06,354.46L48.56,354.41L49.06,354.37L49.56,354.32L50.07,354.28L50.57,354.24L51.07,354.2L51.57,354.17L52.07,354.14L52.57,354.11L53.07,354.08L53.57,354.05L54.08,354.03L54.58,354.01L55.08,354L55.58,353.99L56.08,353.98L56.58,353.97L57.08,353.97L57.58,353.97L58.09,353.97L58.59,353.98L59.09,353.98L59.59,353.99L60.09,353.99L60.59,354L61.09,354L61.6,354.01L62.1,354.01L62.6,354.02L63.1,354.02L63.6,354.02L64.1,354.01L64.6,354.01L65.1,354L65.61,353.98L66.11,353.97L66.61,353.94L67.11,353.92L67.61,353.88L68.11,353.84L68.61,353.78L69.11,353.72L69.62,353.65L70.12,353.57L70.62,353.47L71.12,353.36L71.62,353.24L72.12,353.11L72.62,352.95L73.13,352.79L73.63,352.6L74.13,352.4L74.63,352.18L75.13,351.94L75.63,351.68L76.13,351.4L76.63,351.13L77.14,350.85L77.64,350.59L78.14,350.33L78.64,350.1L79.14,349.9L79.64,349.73L80.14,349.61L80.64,349.53L81.15,349.51L81.65,349.54L82.15,349.65L82.65,349.83L83.15,350.09L83.65,350.43L84.15,350.83L84.66,351.29L85.16,351.79L85.66,352.32L86.16,352.88L86.66,353.45L87.16,354.02L87.66,354.58L88.16,355.12L88.67,355.63L89.17,356.1L89.67,356.52L90.17,356.87L90.67,357.16L91.17,357.35L91.67,357.46L92.17,357.46L92.68,357.34L93.18,357.1L93.68,356.73L94.18,356.24L94.68,355.63L95.18,354.93L95.68,354.13L96.19,353.25L96.69,352.29L97.19,351.27L97.69,350.2L98.19,349.08L98.69,347.92L99.19,346.73L99.69,345.52L100.2,344.31L100.7,343.09L101.2,341.89L101.7,340.7L102.2,339.54L102.7,338.41L103.2,337.32L103.7,336.27L104.21,335.26L104.71,334.29L105.21,333.36L105.71,332.48L106.21,331.65L106.71,330.87L107.21,330.14L107.72,329.47L108.22,328.85L108.72,328.29L109.22,327.79L109.72,327.35L110.22,326.96L110.72,326.63L111.22,326.35L111.73,326.12L112.23,325.94L112.73,325.8L113.23,325.69L113.73,325.62L114.23,325.59L114.73,325.59L115.23,325.62L115.74,325.69L116.24,325.79L116.74,325.94L117.24,326.13L117.74,326.36L118.24,326.64L118.74,326.96L119.25,327.34L119.75,327.76L120.25,328.24L120.75,328.77L121.25,329.35L121.75,329.96L122.25,330.6L122.75,331.27L123.26,331.95L123.76,332.65L124.26,333.35L124.76,334.06L125.26,334.75L125.76,335.43L126.26,336.09L126.77,336.72L127.27,337.31L127.77,337.87L128.27,338.39L128.77,338.87L129.27,339.3L129.77,339.69L130.27,340.04L130.78,340.33L131.28,340.58L131.78,340.78L132.28,340.92L132.78,341.01L133.28,341.04L133.78,341.01L134.28,340.93L134.79,340.79L135.29,340.6L135.79,340.36L136.29,340.09L136.79,339.78L137.29,339.45L137.79,339.09L138.3,338.72L138.8,338.34L139.3,337.95L139.8,337.56L140.3,337.18L140.8,336.81L141.3,336.45L141.8,336.12L142.31,335.82L142.81,335.55L143.31,335.3L143.81,335.09L144.31,334.9L144.81,334.74L145.31,334.6L145.81,334.49L146.32,334.4L146.82,334.33L147.32,334.29L147.82,334.27L148.32,334.27L148.82,334.29L149.32,334.32L149.83,334.38L150.33,334.45L150.83,334.54L151.33,334.64L151.83,334.75L152.33,334.88L152.83,335.03L153.33,335.18L153.84,335.35L154.34,335.53L154.84,335.71L155.34,335.91L155.84,336.11L156.34,336.32L156.84,336.54L157.34,336.76L157.85,336.99L158.35,337.22L158.85,337.45L159.35,337.69L159.85,337.93L160.35,338.17L160.85,338.41L161.36,338.65L161.86,338.89L162.36,339.13L162.86,339.37L163.36,339.61L163.86,339.85L164.36,340.09L164.86,340.33L165.37,340.57L165.87,340.81L166.37,341.05L166.87,341.29L167.37,341.53L167.87,341.77L168.37,342L168.87,342.24L169.38,342.47L169.88,342.71L170.38,342.94L170.88,343.17L171.38,343.4L171.88,343.63L172.38,343.85L172.89,344.08L173.39,344.3L173.89,344.52L174.39,344.74L174.89,344.95L175.39,345.17L175.89,345.38L176.39,345.59L176.9,345.8L177.4,346L177.9,346.2L178.4,346.4L178.9,346.6L179.4,346.8L179.9,346.99L180.4,347.18L180.91,347.36L181.41,347.55L181.91,347.73L182.41,347.91L182.91,348.08L183.41,348.26L183.91,348.43L184.42,348.59L184.92,348.76L185.42,348.92L185.92,349.07L186.42,349.23L186.92,349.38L187.42,349.52L187.92,349.67L188.43,349.81L188.93,349.94L189.43,350.08L189.93,350.21L190.43,350.33L190.93,350.45L191.43,350.57L191.93,350.69L192.44,350.8L192.94,350.9L193.44,351.01L193.94,351.1L194.44,351.2L194.94,351.29L195.44,351.38L195.95,351.46L196.45,351.54L196.95,351.61L197.45,351.68L197.95,351.75L198.45,351.81L198.95,351.87L199.45,351.93L199.96,351.98L200.46,352.03L200.96,352.08L201.46,352.12L201.96,352.17L202.46,352.2L202.96,352.24L203.46,352.27L203.97,352.3L204.47,352.33L204.97,352.36L205.47,352.38L205.97,352.4L206.47,352.42L206.97,352.44L207.48,352.45L207.98,352.46L208.48,352.47L208.98,352.48L209.48,352.49L209.98,352.5L210.48,352.51L210.98,352.51L211.49,352.51L211.99,352.52L212.49,352.52L212.99,352.52L213.49,352.52L213.99,352.52L214.49,352.51L214.99,352.51L215.5,352.51L216,352.51L216.5,352.5" fill="none" stroke="#ff2a2a" stroke-width="1.4" stroke-linejoin="round" stroke-linecap="round" />
<line x1="141.2" y1="216.5" x2="141.2" y2="232" stroke="#2b8cae" stroke-width="1.3" stroke-dasharray="2,1.5"/>
<line x1="114.9" y1="272.5" x2="114.9" y2="290" stroke="#f7a040" stroke-width="1.3" stroke-dasharray="2,1.5"/>
<line x1="114" y1="324" x2="114" y2="345" stroke="#ff2a2a" stroke-width="1.3" stroke-dasharray="2,1.5"/>
<line x1="150" y1="331.5" x2="150" y2="350" stroke="#ff2a2a" stroke-width="1.3" stroke-dasharray="2,1.5"/>
<text x="142.6" y="244.6" font-family="'Liberation Serif', serif" font-size="10.5" font-weight="bold" fill="#000" text-anchor="middle" >Mo-Mo</text>
<text x="119.3" y="266.5" font-family="'Liberation Serif', serif" font-size="10.5" font-weight="bold" fill="#000" text-anchor="middle" >Mo-S</text>
<text x="117.2" y="355" font-family="'Liberation Serif', serif" font-size="10.5" font-weight="bold" fill="#000" text-anchor="middle" >Mo-S</text>
<text x="166" y="325.8" font-family="'Liberation Serif', serif" font-size="10.5" font-weight="bold" fill="#000" text-anchor="middle" >Mo-Mo</text>
<text x="212.7" y="220.3" font-family="'Liberation Serif', serif" font-size="10.5" font-weight="bold" fill="#000" text-anchor="end" >Mo R-space</text>
<circle cx="39.9" cy="224" r="2.4" fill="none" stroke="#2b8cae" stroke-width="0.7"/>
<text x="56.5" y="228" font-family="'Liberation Serif', serif" font-size="10.5" font-weight="bold" fill="#000" text-anchor="start" >Mo-foil</text>
<line x1="27.3" y1="237.8" x2="52.1" y2="237.8" stroke="#2b8cae" stroke-width="1.4" />
<text x="56.5" y="242" font-family="'Liberation Serif', serif" font-size="10.5" font-weight="bold" fill="#000" text-anchor="start" >Fitting</text>
<circle cx="40" cy="268.6" r="2.4" fill="none" stroke="#f7a040" stroke-width="0.7"/>
<text x="56.5" y="272.6" font-family="'Liberation Serif', serif" font-size="10.5" font-weight="bold" fill="#000" text-anchor="start" >MoS<tspan dy="2.94" font-size="7.56">2</tspan><tspan dy="-2.94"></tspan></text>
<line x1="27.3" y1="284.7" x2="52.1" y2="284.7" stroke="#f7a040" stroke-width="1.4" />
<text x="56.5" y="288.7" font-family="'Liberation Serif', serif" font-size="10.5" font-weight="bold" fill="#000" text-anchor="start" >Fitting</text>
<circle cx="39" cy="311.9" r="2.4" fill="none" stroke="#ff2a2a" stroke-width="0.7"/>
<text x="53.6" y="315.9" font-family="'Liberation Serif', serif" font-size="10.5" font-weight="bold" fill="#000" text-anchor="start" >6%-MoS<tspan dy="2.94" font-size="7.56">2</tspan><tspan dy="-2.94">/Zn</tspan><tspan dy="2.94" font-size="7.56">3</tspan><tspan dy="-2.94">In</tspan><tspan dy="2.94" font-size="7.56">4</tspan><tspan dy="-2.94">S</tspan><tspan dy="2.94" font-size="7.56">9</tspan><tspan dy="-2.94"></tspan></text>
<line x1="27.3" y1="328.5" x2="49.2" y2="328.5" stroke="#ff2a2a" stroke-width="1.4" />
<text x="54.5" y="332.5" font-family="'Liberation Serif', serif" font-size="10.5" font-weight="bold" fill="#000" text-anchor="start" >Fitting</text>
<rect x="24.5" y="207" width="192.5" height="161.3" fill="none" stroke="#000" stroke-width="1.4" />
<defs><linearGradient id="g9" x1="0" y1="0" x2="0" y2="1"><stop offset="0" stop-color="#fef8f8"/><stop offset="0.5" stop-color="#fcfbfd"/><stop offset="1" stop-color="#f7fafd"/></linearGradient></defs>
<rect x="266.4" y="206.7" width="191.1" height="160.6" fill="url(#g9)" stroke="none" stroke-width="1" />
<defs><linearGradient id="g10" x1="0" y1="0" x2="0" y2="1"><stop offset="0" stop-color="#f8d4d4"/><stop offset="0.5" stop-color="#ebe1ea"/><stop offset="1" stop-color="#d2e5f1"/></linearGradient></defs>
<rect x="266.4" y="206.7" width="191.1" height="160.6" fill="url(#g10)" mask="url(#gridmask)" opacity="0.8"/>
<text x="229.5" y="216" font-family="'Liberation Serif', serif" font-size="16" font-weight="bold" fill="#000" text-anchor="start" >e</text>
<line x1="266.4" y1="356.6" x2="262.8" y2="356.6" stroke="#1a1a1a" stroke-width="1.3" />
<line x1="266.4" y1="319.32" x2="262.8" y2="319.32" stroke="#1a1a1a" stroke-width="1.3" />
<line x1="266.4" y1="282.04" x2="262.8" y2="282.04" stroke="#1a1a1a" stroke-width="1.3" />
<line x1="266.4" y1="244.76" x2="262.8" y2="244.76" stroke="#1a1a1a" stroke-width="1.3" />
<line x1="266.4" y1="207.48" x2="262.8" y2="207.48" stroke="#1a1a1a" stroke-width="1.3" />
<line x1="266.4" y1="337.96" x2="264.4" y2="337.96" stroke="#1a1a1a" stroke-width="1.3" />
<line x1="266.4" y1="300.68" x2="264.4" y2="300.68" stroke="#1a1a1a" stroke-width="1.3" />
<line x1="266.4" y1="263.4" x2="264.4" y2="263.4" stroke="#1a1a1a" stroke-width="1.3" />
<line x1="266.4" y1="226.12" x2="264.4" y2="226.12" stroke="#1a1a1a" stroke-width="1.3" />
<text x="262" y="360.8" font-family="'Liberation Serif', serif" font-size="12" font-weight="bold" fill="#000" text-anchor="end" >0.0</text>
<text x="262" y="323.52" font-family="'Liberation Serif', serif" font-size="12" font-weight="bold" fill="#000" text-anchor="end" >0.4</text>
<text x="262" y="286.24" font-family="'Liberation Serif', serif" font-size="12" font-weight="bold" fill="#000" text-anchor="end" >0.8</text>
<text x="262" y="248.96" font-family="'Liberation Serif', serif" font-size="12" font-weight="bold" fill="#000" text-anchor="end" >1.2</text>
<text x="262" y="211.68" font-family="'Liberation Serif', serif" font-size="12" font-weight="bold" fill="#000" text-anchor="end" >1.6</text>
<line x1="296.57" y1="367.3" x2="296.57" y2="370.9" stroke="#1a1a1a" stroke-width="1.3" />
<line x1="336.81" y1="367.3" x2="336.81" y2="370.9" stroke="#1a1a1a" stroke-width="1.3" />
<line x1="377.04" y1="367.3" x2="377.04" y2="370.9" stroke="#1a1a1a" stroke-width="1.3" />
<line x1="417.27" y1="367.3" x2="417.27" y2="370.9" stroke="#1a1a1a" stroke-width="1.3" />
<line x1="457.5" y1="367.3" x2="457.5" y2="370.9" stroke="#1a1a1a" stroke-width="1.3" />
<line x1="276.46" y1="367.3" x2="276.46" y2="369.3" stroke="#1a1a1a" stroke-width="1.3" />
<line x1="316.69" y1="367.3" x2="316.69" y2="369.3" stroke="#1a1a1a" stroke-width="1.3" />
<line x1="356.92" y1="367.3" x2="356.92" y2="369.3" stroke="#1a1a1a" stroke-width="1.3" />
<line x1="397.15" y1="367.3" x2="397.15" y2="369.3" stroke="#1a1a1a" stroke-width="1.3" />
<line x1="437.39" y1="367.3" x2="437.39" y2="369.3" stroke="#1a1a1a" stroke-width="1.3" />
<text x="296.57" y="380.8" font-family="'Liberation Serif', serif" font-size="12" font-weight="bold" fill="#000" text-anchor="middle" >9640</text>
<text x="336.81" y="380.8" font-family="'Liberation Serif', serif" font-size="12" font-weight="bold" fill="#000" text-anchor="middle" >9680</text>
<text x="377.04" y="380.8" font-family="'Liberation Serif', serif" font-size="12" font-weight="bold" fill="#000" text-anchor="middle" >9720</text>
<text x="417.27" y="380.8" font-family="'Liberation Serif', serif" font-size="12" font-weight="bold" fill="#000" text-anchor="middle" >9760</text>
<text x="457.5" y="380.8" font-family="'Liberation Serif', serif" font-size="12" font-weight="bold" fill="#000" text-anchor="middle" >9800</text>
<text x="362.2" y="398.8" font-family="'Liberation Serif', serif" font-size="12.5" font-weight="bold" fill="#000" text-anchor="middle" >Energy (eV)</text>
<text x="240" y="291" font-family="'Liberation Serif', serif" font-size="12.5" font-weight="bold" fill="#000" text-anchor="middle" transform="rotate(-90 240 291)" >Normalized (a.u.)</text>
<path d="M267,357.3L267.3,357.3L267.6,357.3L267.9,357.3L268.2,357.3L268.5,357.3L268.8,357.3L269.1,357.3L269.41,357.3L269.71,357.3L270.01,357.29L270.31,357.29L270.61,357.29L270.91,357.29L271.21,357.29L271.51,357.29L271.81,357.29L272.11,357.28L272.41,357.28L272.71,357.28L273.01,357.28L273.31,357.28L273.61,357.27L273.91,357.27L274.22,357.27L274.52,357.27L274.82,357.26L275.12,357.26L275.42,357.26L275.72,357.26L276.02,357.25L276.32,357.25L276.62,357.25L276.92,357.24L277.22,357.24L277.52,357.24L277.82,357.23L278.12,357.23L278.42,357.22L278.72,357.22L279.03,357.22L279.33,357.21L279.63,357.21L279.93,357.2L280.23,357.2L280.53,357.19L280.83,357.19L281.13,357.19L281.43,357.18L281.73,357.18L282.03,357.17L282.33,357.17L282.63,357.16L282.93,357.15L283.23,357.15L283.53,357.14L283.84,357.14L284.14,357.13L284.44,357.13L284.74,357.12L285.04,357.11L285.34,357.11L285.64,357.1L285.94,357.1L286.24,357.09L286.54,357.08L286.84,357.08L287.14,357.07L287.44,357.06L287.74,357.06L288.04,357.05L288.34,357.04L288.65,357.03L288.95,357.03L289.25,357.02L289.55,357.01L289.85,357L290.15,357L290.45,356.99L290.75,356.98L291.05,356.96L291.35,356.95L291.65,356.93L291.95,356.92L292.25,356.9L292.55,356.88L292.85,356.86L293.16,356.84L293.46,356.81L293.76,356.79L294.06,356.76L294.36,356.73L294.66,356.7L294.96,356.67L295.26,356.64L295.56,356.61L295.86,356.58L296.16,356.54L296.46,356.5L296.76,356.47L297.06,356.43L297.36,356.39L297.66,356.35L297.97,356.31L298.27,356.26L298.57,356.22L298.87,356.18L299.17,356.13L299.47,356.08L299.77,356.04L300.07,355.99L300.37,355.94L300.67,355.88L300.97,355.82L301.27,355.75L301.57,355.68L301.87,355.6L302.17,355.52L302.47,355.43L302.78,355.34L303.08,355.24L303.38,355.14L303.68,355.03L303.98,354.92L304.28,354.8L304.58,354.67L304.88,354.54L305.18,354.4L305.48,354.26L305.78,354.11L306.08,353.96L306.38,353.78L306.68,353.58L306.98,353.36L307.28,353.12L307.59,352.86L307.89,352.57L308.19,352.26L308.49,351.93L308.79,351.59L309.09,351.22L309.39,350.84L309.69,350.43L309.99,350.01L310.29,349.57L310.59,349.08L310.89,348.54L311.19,347.95L311.49,347.31L311.79,346.6L312.09,345.82L312.4,344.97L312.7,344.03L313,343.01L313.3,341.76L313.6,340.15L313.9,338.27L314.2,336.17L314.5,333.91L314.8,331.57L315.1,329.18L315.4,326.53L315.7,323.6L316,320.5L316.3,317.3L316.6,314.09L316.91,310.96L317.21,307.94L317.51,304.94L317.81,301.93L318.11,298.92L318.41,295.92L318.71,292.91L319.01,289.9L319.31,286.83L319.61,283.65L319.91,280.43L320.21,277.22L320.51,274.08L320.81,271.08L321.11,268.26L321.41,265.68L321.72,263.3L322.02,260.9L322.32,258.57L322.62,256.41L322.92,254.51L323.22,253L323.52,251.95L323.82,251.16L324.12,250.44L324.42,249.84L324.72,249.41L325.02,249.21L325.32,249.34L325.62,249.91L325.92,250.81L326.22,251.92L326.53,253.14L326.83,254.35L327.13,255.48L327.43,256.81L327.73,258.36L328.03,260.04L328.33,261.76L328.63,263.43L328.93,264.98L329.23,266.32L329.53,267.37L329.83,268.03L330.13,268.27L330.43,268.42L330.73,268.55L331.03,268.66L331.34,268.75L331.64,268.83L331.94,268.9L332.24,268.95L332.54,269.01L332.84,269.06L333.14,269.11L333.44,269.17L333.74,269.23L334.04,269.3L334.34,269.38L334.64,269.47L334.94,269.58L335.24,269.71L335.54,269.89L335.84,270.11L336.15,270.35L336.45,270.62L336.75,270.91L337.05,271.21L337.35,271.51L337.65,271.8L337.95,272.09L338.25,272.37L338.55,272.62L338.85,272.84L339.15,273.02L339.45,273.17L339.75,273.26L340.05,273.3L340.35,273.27L340.66,273.16L340.96,272.99L341.26,272.75L341.56,272.46L341.86,272.13L342.16,271.76L342.46,271.36L342.76,270.94L343.06,270.51L343.36,270.07L343.66,269.64L343.96,269.23L344.26,268.83L344.56,268.46L344.86,268.13L345.16,267.84L345.47,267.54L345.77,267.23L346.07,266.9L346.37,266.57L346.67,266.24L346.97,265.9L347.27,265.56L347.57,265.23L347.87,264.9L348.17,264.58L348.47,264.27L348.77,263.97L349.07,263.69L349.37,263.43L349.67,263.19L349.97,262.97L350.28,262.78L350.58,262.62L350.88,262.48L351.18,262.39L351.48,262.32L351.78,262.3L352.08,262.31L352.38,262.34L352.68,262.38L352.98,262.44L353.28,262.51L353.58,262.6L353.88,262.7L354.18,262.81L354.48,262.92L354.78,263.05L355.09,263.17L355.39,263.3L355.69,263.44L355.99,263.57L356.29,263.7L356.59,263.83L356.89,263.96L357.19,264.08L357.49,264.22L357.79,264.39L358.09,264.57L358.39,264.76L358.69,264.96L358.99,265.16L359.29,265.37L359.59,265.58L359.9,265.79L360.2,265.99L360.5,266.18L360.8,266.35L361.1,266.52L361.4,266.66L361.7,266.78L362,266.88L362.3,266.95L362.6,266.99L362.9,267L363.2,266.99L363.5,266.98L363.8,266.95L364.1,266.92L364.41,266.88L364.71,266.84L365.01,266.79L365.31,266.73L365.61,266.67L365.91,266.6L366.21,266.53L366.51,266.46L366.81,266.38L367.11,266.3L367.41,266.22L367.71,266.14L368.01,266.05L368.31,265.96L368.61,265.88L368.91,265.79L369.22,265.7L369.52,265.62L369.82,265.53L370.12,265.45L370.42,265.37L370.72,265.29L371.02,265.22L371.32,265.14L371.62,265.08L371.92,265.02L372.22,264.96L372.52,264.9L372.82,264.83L373.12,264.77L373.42,264.71L373.72,264.64L374.03,264.58L374.33,264.51L374.63,264.44L374.93,264.37L375.23,264.31L375.53,264.24L375.83,264.17L376.13,264.1L376.43,264.03L376.73,263.96L377.03,263.89L377.33,263.82L377.63,263.75L377.93,263.68L378.23,263.61L378.53,263.55L378.84,263.48L379.14,263.41L379.44,263.35L379.74,263.28L380.04,263.22L380.34,263.16L380.64,263.1L380.94,263.04L381.24,262.98L381.54,262.93L381.84,262.87L382.14,262.82L382.44,262.77L382.74,262.72L383.04,262.67L383.34,262.63L383.65,262.59L383.95,262.55L384.25,262.51L384.55,262.48L384.85,262.44L385.15,262.42L385.45,262.39L385.75,262.37L386.05,262.35L386.35,262.33L386.65,262.32L386.95,262.31L387.25,262.3L387.55,262.3L387.85,262.3L388.16,262.31L388.46,262.31L388.76,262.33L389.06,262.34L389.36,262.36L389.66,262.38L389.96,262.41L390.26,262.43L390.56,262.46L390.86,262.5L391.16,262.53L391.46,262.57L391.76,262.61L392.06,262.65L392.36,262.69L392.66,262.73L392.97,262.78L393.27,262.83L393.57,262.88L393.87,262.93L394.17,262.98L394.47,263.03L394.77,263.08L395.07,263.14L395.37,263.19L395.67,263.25L395.97,263.3L396.27,263.36L396.57,263.41L396.87,263.47L397.17,263.52L397.47,263.58L397.78,263.63L398.08,263.68L398.38,263.74L398.68,263.79L398.98,263.84L399.28,263.89L399.58,263.94L399.88,263.98L400.18,264.03L400.48,264.08L400.78,264.13L401.08,264.18L401.38,264.24L401.68,264.29L401.98,264.35L402.28,264.42L402.59,264.48L402.89,264.54L403.19,264.61L403.49,264.67L403.79,264.74L404.09,264.81L404.39,264.87L404.69,264.94L404.99,265.01L405.29,265.07L405.59,265.14L405.89,265.2L406.19,265.27L406.49,265.33L406.79,265.39L407.09,265.45L407.4,265.51L407.7,265.56L408,265.61L408.3,265.67L408.6,265.71L408.9,265.76L409.2,265.8L409.5,265.84L409.8,265.87L410.1,265.9L410.4,265.93L410.7,265.95L411,265.97L411.3,265.99L411.6,266L411.91,266L412.21,266L412.51,266L412.81,265.99L413.11,265.98L413.41,265.97L413.71,265.96L414.01,265.94L414.31,265.93L414.61,265.91L414.91,265.89L415.21,265.86L415.51,265.84L415.81,265.81L416.11,265.78L416.41,265.75L416.72,265.72L417.02,265.68L417.32,265.65L417.62,265.61L417.92,265.58L418.22,265.54L418.52,265.5L418.82,265.46L419.12,265.41L419.42,265.37L419.72,265.33L420.02,265.28L420.32,265.24L420.62,265.19L420.92,265.14L421.22,265.1L421.53,265.05L421.83,265L422.13,264.95L422.43,264.91L422.73,264.86L423.03,264.81L423.33,264.76L423.63,264.71L423.93,264.67L424.23,264.62L424.53,264.57L424.83,264.53L425.13,264.48L425.43,264.43L425.73,264.37L426.03,264.31L426.34,264.25L426.64,264.18L426.94,264.11L427.24,264.04L427.54,263.96L427.84,263.88L428.14,263.8L428.44,263.71L428.74,263.62L429.04,263.53L429.34,263.44L429.64,263.35L429.94,263.26L430.24,263.17L430.54,263.07L430.84,262.98L431.15,262.88L431.45,262.79L431.75,262.7L432.05,262.6L432.35,262.51L432.65,262.42L432.95,262.33L433.25,262.25L433.55,262.16L433.85,262.08L434.15,262L434.45,261.92L434.75,261.85L435.05,261.78L435.35,261.72L435.66,261.65L435.96,261.59L436.26,261.54L436.56,261.49L436.86,261.45L437.16,261.41L437.46,261.38L437.76,261.35L438.06,261.33L438.36,261.31L438.66,261.3L438.96,261.3L439.26,261.3L439.56,261.31L439.86,261.33L440.16,261.35L440.47,261.37L440.77,261.4L441.07,261.44L441.37,261.47L441.67,261.52L441.97,261.56L442.27,261.61L442.57,261.66L442.87,261.71L443.17,261.77L443.47,261.82L443.77,261.88L444.07,261.94L444.37,262L444.67,262.06L444.97,262.13L445.28,262.19L445.58,262.25L445.88,262.32L446.18,262.38L446.48,262.44L446.78,262.5L447.08,262.56L447.38,262.62L447.68,262.67L447.98,262.72L448.28,262.77L448.58,262.82L448.88,262.87L449.18,262.91L449.48,262.94L449.78,262.98L450.09,263.01L450.39,263.04L450.69,263.06L450.99,263.09L451.29,263.12L451.59,263.14L451.89,263.17L452.19,263.2L452.49,263.22L452.79,263.24L453.09,263.27L453.39,263.29L453.69,263.31L453.99,263.33L454.29,263.35L454.59,263.37L454.9,263.39L455.2,263.41L455.5,263.43L455.8,263.44L456.1,263.46L456.4,263.47L456.7,263.49L457,263.5" fill="none" stroke="#2020ff" stroke-width="1.2" stroke-linejoin="round" stroke-linecap="round" />
<path d="M267.3,357.8L267.6,357.8L267.9,357.8L268.2,357.8L268.5,357.8L268.8,357.8L269.1,357.8L269.4,357.8L269.71,357.8L270.01,357.8L270.31,357.79L270.61,357.79L270.91,357.79L271.21,357.79L271.51,357.79L271.81,357.79L272.11,357.79L272.41,357.78L272.71,357.78L273.01,357.78L273.31,357.78L273.61,357.78L273.91,357.77L274.21,357.77L274.52,357.77L274.82,357.77L275.12,357.76L275.42,357.76L275.72,357.76L276.02,357.76L276.32,357.75L276.62,357.75L276.92,357.75L277.22,357.74L277.52,357.74L277.82,357.74L278.12,357.73L278.42,357.73L278.72,357.72L279.02,357.72L279.33,357.72L279.63,357.71L279.93,357.71L280.23,357.7L280.53,357.7L280.83,357.69L281.13,357.69L281.43,357.69L281.73,357.68L282.03,357.68L282.33,357.67L282.63,357.67L282.93,357.66L283.23,357.65L283.53,357.65L283.83,357.64L284.14,357.64L284.44,357.63L284.74,357.63L285.04,357.62L285.34,357.61L285.64,357.61L285.94,357.6L286.24,357.6L286.54,357.59L286.84,357.58L287.14,357.58L287.44,357.57L287.74,357.56L288.04,357.56L288.34,357.55L288.64,357.54L288.95,357.53L289.25,357.53L289.55,357.52L289.85,357.51L290.15,357.5L290.45,357.5L290.75,357.49L291.05,357.48L291.35,357.46L291.65,357.45L291.95,357.43L292.25,357.42L292.55,357.4L292.85,357.38L293.15,357.36L293.46,357.34L293.76,357.31L294.06,357.29L294.36,357.26L294.66,357.23L294.96,357.2L295.26,357.17L295.56,357.14L295.86,357.11L296.16,357.08L296.46,357.04L296.76,357L297.06,356.97L297.36,356.93L297.66,356.89L297.96,356.85L298.27,356.81L298.57,356.76L298.87,356.72L299.17,356.68L299.47,356.63L299.77,356.58L300.07,356.54L300.37,356.49L300.67,356.44L300.97,356.38L301.27,356.32L301.57,356.26L301.87,356.19L302.17,356.11L302.47,356.04L302.77,355.95L303.08,355.86L303.38,355.77L303.68,355.66L303.98,355.56L304.28,355.44L304.58,355.32L304.88,355.2L305.18,355.06L305.48,354.92L305.78,354.77L306.08,354.62L306.38,354.45L306.68,354.26L306.98,354.03L307.28,353.76L307.58,353.46L307.89,353.13L308.19,352.77L308.49,352.38L308.79,351.96L309.09,351.52L309.39,351.05L309.69,350.56L309.99,350.05L310.29,349.52L310.59,348.95L310.89,348.31L311.19,347.61L311.49,346.84L311.79,346L312.09,345.07L312.39,344.07L312.7,342.97L313,341.79L313.3,340.51L313.6,339.02L313.9,337.2L314.2,335.1L314.5,332.74L314.8,330.17L315.1,327.41L315.4,324.48L315.7,321.03L316,317.11L316.3,312.85L316.6,308.42L316.9,303.94L317.21,299.27L317.51,294.37L317.81,289.27L318.11,283.98L318.41,278.49L318.71,272.39L319.01,265.93L319.31,259.57L319.61,253.72L319.91,248.69L320.21,243.45L320.51,238.4L320.81,234.4L321.11,232.32L321.41,232.91L321.71,235.74L322.02,239.69L322.32,243.61L322.62,246.53L322.92,249.34L323.22,252.26L323.52,255.1L323.82,257.68L324.12,259.82L324.42,261.34L324.72,262.07L325.02,262.09L325.32,262.04L325.62,261.97L325.92,261.86L326.22,261.75L326.52,261.62L326.83,261.49L327.13,261.3L327.43,261.03L327.73,260.7L328.03,260.35L328.33,260L328.63,259.68L328.93,259.42L329.23,259.25L329.53,259.2L329.83,259.25L330.13,259.38L330.43,259.56L330.73,259.81L331.03,260.09L331.33,260.41L331.64,260.74L331.94,261.09L332.24,261.44L332.54,261.77L332.84,262.09L333.14,262.37L333.44,262.61L333.74,262.86L334.04,263.12L334.34,263.4L334.64,263.67L334.94,263.96L335.24,264.24L335.54,264.52L335.84,264.79L336.14,265.05L336.45,265.3L336.75,265.54L337.05,265.76L337.35,265.95L337.65,266.12L337.95,266.27L338.25,266.38L338.55,266.45L338.85,266.49L339.15,266.49L339.45,266.4L339.75,266.22L340.05,265.99L340.35,265.7L340.65,265.38L340.96,265.03L341.26,264.67L341.56,264.32L341.86,263.99L342.16,263.69L342.46,263.44L342.76,263.25L343.06,263.13L343.36,263.1L343.66,263.13L343.96,263.2L344.26,263.31L344.56,263.45L344.86,263.62L345.16,263.81L345.46,264.03L345.77,264.26L346.07,264.51L346.37,264.78L346.67,265.05L346.97,265.32L347.27,265.6L347.57,265.87L347.87,266.14L348.17,266.39L348.47,266.64L348.77,266.92L349.07,267.23L349.37,267.57L349.67,267.93L349.97,268.3L350.27,268.7L350.58,269.11L350.88,269.52L351.18,269.95L351.48,270.38L351.78,270.81L352.08,271.23L352.38,271.66L352.68,272.07L352.98,272.47L353.28,272.86L353.58,273.22L353.88,273.57L354.18,273.89L354.48,274.18L354.78,274.45L355.08,274.68L355.39,274.87L355.69,275.02L355.99,275.13L356.29,275.19L356.59,275.2L356.89,275.18L357.19,275.12L357.49,275.05L357.79,274.94L358.09,274.82L358.39,274.67L358.69,274.5L358.99,274.31L359.29,274.1L359.59,273.88L359.89,273.64L360.2,273.39L360.5,273.12L360.8,272.85L361.1,272.57L361.4,272.27L361.7,271.98L362,271.68L362.3,271.37L362.6,271.07L362.9,270.76L363.2,270.46L363.5,270.16L363.8,269.86L364.1,269.57L364.4,269.29L364.71,269.01L365.01,268.75L365.31,268.49L365.61,268.24L365.91,267.98L366.21,267.72L366.51,267.44L366.81,267.16L367.11,266.88L367.41,266.58L367.71,266.29L368.01,265.99L368.31,265.69L368.61,265.39L368.91,265.09L369.21,264.79L369.52,264.49L369.82,264.19L370.12,263.9L370.42,263.61L370.72,263.32L371.02,263.03L371.32,262.76L371.62,262.49L371.92,262.22L372.22,261.97L372.52,261.72L372.82,261.49L373.12,261.26L373.42,261.05L373.72,260.85L374.02,260.66L374.33,260.49L374.63,260.32L374.93,260.14L375.23,259.97L375.53,259.8L375.83,259.62L376.13,259.45L376.43,259.28L376.73,259.11L377.03,258.94L377.33,258.78L377.63,258.62L377.93,258.46L378.23,258.31L378.53,258.16L378.83,258.02L379.14,257.89L379.44,257.76L379.74,257.64L380.04,257.53L380.34,257.43L380.64,257.33L380.94,257.25L381.24,257.18L381.54,257.12L381.84,257.07L382.14,257.03L382.44,257.01L382.74,257L383.04,257L383.34,257.02L383.64,257.05L383.95,257.09L384.25,257.14L384.55,257.2L384.85,257.27L385.15,257.35L385.45,257.45L385.75,257.54L386.05,257.65L386.35,257.77L386.65,257.89L386.95,258.02L387.25,258.16L387.55,258.3L387.85,258.44L388.15,258.6L388.46,258.75L388.76,258.91L389.06,259.08L389.36,259.25L389.66,259.42L389.96,259.59L390.26,259.76L390.56,259.94L390.86,260.11L391.16,260.29L391.46,260.47L391.76,260.64L392.06,260.82L392.36,260.99L392.66,261.16L392.96,261.33L393.27,261.49L393.57,261.66L393.87,261.81L394.17,261.97L394.47,262.12L394.77,262.26L395.07,262.4L395.37,262.53L395.67,262.66L395.97,262.8L396.27,262.94L396.57,263.09L396.87,263.24L397.17,263.39L397.47,263.55L397.77,263.71L398.08,263.87L398.38,264.03L398.68,264.2L398.98,264.36L399.28,264.53L399.58,264.7L399.88,264.87L400.18,265.04L400.48,265.21L400.78,265.38L401.08,265.55L401.38,265.72L401.68,265.88L401.98,266.05L402.28,266.21L402.58,266.37L402.89,266.53L403.19,266.69L403.49,266.85L403.79,267L404.09,267.14L404.39,267.29L404.69,267.43L404.99,267.56L405.29,267.69L405.59,267.82L405.89,267.94L406.19,268.05L406.49,268.16L406.79,268.26L407.09,268.36L407.39,268.45L407.7,268.53L408,268.6L408.3,268.67L408.6,268.73L408.9,268.78L409.2,268.82L409.5,268.86L409.8,268.88L410.1,268.9L410.4,268.9L410.7,268.9L411,268.89L411.3,268.88L411.6,268.86L411.9,268.84L412.21,268.81L412.51,268.78L412.81,268.74L413.11,268.7L413.41,268.66L413.71,268.61L414.01,268.56L414.31,268.51L414.61,268.45L414.91,268.39L415.21,268.32L415.51,268.26L415.81,268.19L416.11,268.12L416.41,268.04L416.71,267.97L417.02,267.89L417.32,267.81L417.62,267.72L417.92,267.64L418.22,267.55L418.52,267.47L418.82,267.38L419.12,267.29L419.42,267.2L419.72,267.11L420.02,267.02L420.32,266.93L420.62,266.84L420.92,266.75L421.22,266.65L421.52,266.56L421.83,266.47L422.13,266.38L422.43,266.29L422.73,266.2L423.03,266.12L423.33,266.03L423.63,265.94L423.93,265.86L424.23,265.78L424.53,265.7L424.83,265.62L425.13,265.54L425.43,265.47L425.73,265.39L426.03,265.31L426.33,265.23L426.64,265.14L426.94,265.05L427.24,264.96L427.54,264.86L427.84,264.77L428.14,264.67L428.44,264.57L428.74,264.47L429.04,264.36L429.34,264.26L429.64,264.15L429.94,264.05L430.24,263.94L430.54,263.83L430.84,263.73L431.14,263.62L431.45,263.51L431.75,263.4L432.05,263.29L432.35,263.19L432.65,263.08L432.95,262.98L433.25,262.87L433.55,262.77L433.85,262.67L434.15,262.57L434.45,262.48L434.75,262.38L435.05,262.29L435.35,262.2L435.65,262.11L435.96,262.03L436.26,261.94L436.56,261.87L436.86,261.79L437.16,261.72L437.46,261.65L437.76,261.59L438.06,261.53L438.36,261.47L438.66,261.42L438.96,261.38L439.26,261.34L439.56,261.3L439.86,261.27L440.16,261.24L440.46,261.22L440.77,261.21L441.07,261.2L441.37,261.2L441.67,261.2L441.97,261.21L442.27,261.22L442.57,261.23L442.87,261.24L443.17,261.26L443.47,261.28L443.77,261.3L444.07,261.32L444.37,261.34L444.67,261.37L444.97,261.4L445.27,261.43L445.58,261.46L445.88,261.49L446.18,261.52L446.48,261.56L446.78,261.59L447.08,261.63L447.38,261.66L447.68,261.7L447.98,261.73L448.28,261.77L448.58,261.8L448.88,261.84L449.18,261.88L449.48,261.91L449.78,261.94L450.08,261.98L450.39,262.01L450.69,262.04L450.99,262.07L451.29,262.11L451.59,262.14L451.89,262.18L452.19,262.21L452.49,262.25L452.79,262.29L453.09,262.32L453.39,262.36L453.69,262.4L453.99,262.44L454.29,262.48L454.59,262.52L454.89,262.56L455.2,262.6L455.5,262.64L455.8,262.68L456.1,262.73L456.4,262.77L456.7,262.81L457,262.86L457.3,262.9" fill="none" stroke="#20a020" stroke-width="1.2" stroke-linejoin="round" stroke-linecap="round" />
<path d="M267,357.3L267.3,357.3L267.6,357.3L267.9,357.3L268.2,357.3L268.5,357.3L268.8,357.3L269.1,357.3L269.41,357.3L269.71,357.3L270.01,357.29L270.31,357.29L270.61,357.29L270.91,357.29L271.21,357.29L271.51,357.29L271.81,357.29L272.11,357.28L272.41,357.28L272.71,357.28L273.01,357.28L273.31,357.28L273.61,357.27L273.91,357.27L274.22,357.27L274.52,357.27L274.82,357.26L275.12,357.26L275.42,357.26L275.72,357.26L276.02,357.25L276.32,357.25L276.62,357.25L276.92,357.24L277.22,357.24L277.52,357.24L277.82,357.23L278.12,357.23L278.42,357.22L278.72,357.22L279.03,357.22L279.33,357.21L279.63,357.21L279.93,357.2L280.23,357.2L280.53,357.19L280.83,357.19L281.13,357.19L281.43,357.18L281.73,357.18L282.03,357.17L282.33,357.17L282.63,357.16L282.93,357.15L283.23,357.15L283.53,357.14L283.84,357.14L284.14,357.13L284.44,357.13L284.74,357.12L285.04,357.11L285.34,357.11L285.64,357.1L285.94,357.1L286.24,357.09L286.54,357.08L286.84,357.08L287.14,357.07L287.44,357.06L287.74,357.06L288.04,357.05L288.34,357.04L288.65,357.03L288.95,357.03L289.25,357.02L289.55,357.01L289.85,357L290.15,357L290.45,356.99L290.75,356.98L291.05,356.96L291.35,356.95L291.65,356.93L291.95,356.92L292.25,356.9L292.55,356.88L292.85,356.86L293.16,356.84L293.46,356.81L293.76,356.79L294.06,356.76L294.36,356.73L294.66,356.7L294.96,356.67L295.26,356.64L295.56,356.61L295.86,356.58L296.16,356.54L296.46,356.5L296.76,356.47L297.06,356.43L297.36,356.39L297.66,356.35L297.97,356.31L298.27,356.26L298.57,356.22L298.87,356.18L299.17,356.13L299.47,356.08L299.77,356.04L300.07,355.99L300.37,355.94L300.67,355.88L300.97,355.82L301.27,355.76L301.57,355.69L301.87,355.61L302.17,355.54L302.47,355.45L302.78,355.36L303.08,355.27L303.38,355.16L303.68,355.06L303.98,354.94L304.28,354.82L304.58,354.7L304.88,354.56L305.18,354.42L305.48,354.27L305.78,354.12L306.08,353.95L306.38,353.76L306.68,353.53L306.98,353.26L307.28,352.96L307.59,352.63L307.89,352.27L308.19,351.88L308.49,351.46L308.79,351.02L309.09,350.55L309.39,350.06L309.69,349.55L309.99,349.02L310.29,348.45L310.59,347.81L310.89,347.11L311.19,346.34L311.49,345.5L311.79,344.57L312.09,343.57L312.4,342.47L312.7,341.29L313,340.01L313.3,338.52L313.6,336.7L313.9,334.6L314.2,332.24L314.5,329.67L314.8,326.91L315.1,323.98L315.4,320.53L315.7,316.61L316,312.35L316.3,307.92L316.6,303.44L316.91,298.77L317.21,293.87L317.51,288.77L317.81,283.48L318.11,277.99L318.41,271.89L318.71,265.43L319.01,259.07L319.31,253.22L319.61,248.19L319.91,242.95L320.21,237.9L320.51,233.9L320.81,231.82L321.11,232.41L321.41,235.24L321.72,239.19L322.02,243.11L322.32,246.03L322.62,248.84L322.92,251.76L323.22,254.6L323.52,257.18L323.82,259.32L324.12,260.84L324.42,261.57L324.72,261.59L325.02,261.54L325.32,261.47L325.62,261.36L325.92,261.25L326.22,261.12L326.53,260.99L326.83,260.8L327.13,260.53L327.43,260.2L327.73,259.85L328.03,259.5L328.33,259.18L328.63,258.92L328.93,258.75L329.23,258.7L329.53,258.75L329.83,258.88L330.13,259.06L330.43,259.31L330.73,259.59L331.03,259.91L331.34,260.24L331.64,260.59L331.94,260.94L332.24,261.27L332.54,261.59L332.84,261.87L333.14,262.11L333.44,262.36L333.74,262.62L334.04,262.9L334.34,263.17L334.64,263.46L334.94,263.74L335.24,264.02L335.54,264.29L335.84,264.55L336.15,264.8L336.45,265.04L336.75,265.26L337.05,265.45L337.35,265.62L337.65,265.77L337.95,265.88L338.25,265.95L338.55,265.99L338.85,265.99L339.15,265.9L339.45,265.72L339.75,265.49L340.05,265.2L340.35,264.88L340.66,264.53L340.96,264.17L341.26,263.82L341.56,263.49L341.86,263.19L342.16,262.94L342.46,262.75L342.76,262.63L343.06,262.6L343.36,262.63L343.66,262.7L343.96,262.81L344.26,262.95L344.56,263.12L344.86,263.31L345.16,263.53L345.47,263.76L345.77,264.01L346.07,264.28L346.37,264.55L346.67,264.82L346.97,265.1L347.27,265.37L347.57,265.64L347.87,265.89L348.17,266.14L348.47,266.42L348.77,266.73L349.07,267.07L349.37,267.43L349.67,267.8L349.97,268.2L350.28,268.61L350.58,269.02L350.88,269.45L351.18,269.88L351.48,270.31L351.78,270.73L352.08,271.16L352.38,271.57L352.68,271.97L352.98,272.36L353.28,272.72L353.58,273.07L353.88,273.39L354.18,273.68L354.48,273.95L354.78,274.18L355.09,274.37L355.39,274.52L355.69,274.63L355.99,274.69L356.29,274.7L356.59,274.68L356.89,274.62L357.19,274.55L357.49,274.44L357.79,274.32L358.09,274.17L358.39,274L358.69,273.81L358.99,273.6L359.29,273.38L359.59,273.14L359.9,272.89L360.2,272.62L360.5,272.35L360.8,272.07L361.1,271.77L361.4,271.48L361.7,271.18L362,270.87L362.3,270.57L362.6,270.26L362.9,269.96L363.2,269.66L363.5,269.36L363.8,269.07L364.1,268.79L364.41,268.51L364.71,268.25L365.01,267.99L365.31,267.74L365.61,267.48L365.91,267.22L366.21,266.94L366.51,266.66L366.81,266.38L367.11,266.08L367.41,265.79L367.71,265.49L368.01,265.19L368.31,264.89L368.61,264.59L368.91,264.29L369.22,263.99L369.52,263.69L369.82,263.4L370.12,263.11L370.42,262.82L370.72,262.53L371.02,262.26L371.32,261.99L371.62,261.72L371.92,261.47L372.22,261.22L372.52,260.99L372.82,260.76L373.12,260.55L373.42,260.35L373.72,260.16L374.03,259.99L374.33,259.82L374.63,259.64L374.93,259.47L375.23,259.3L375.53,259.12L375.83,258.95L376.13,258.78L376.43,258.61L376.73,258.44L377.03,258.28L377.33,258.12L377.63,257.96L377.93,257.81L378.23,257.66L378.53,257.52L378.84,257.39L379.14,257.26L379.44,257.14L379.74,257.03L380.04,256.93L380.34,256.83L380.64,256.75L380.94,256.68L381.24,256.62L381.54,256.57L381.84,256.53L382.14,256.51L382.44,256.5L382.74,256.5L383.04,256.52L383.34,256.55L383.65,256.59L383.95,256.64L384.25,256.7L384.55,256.77L384.85,256.85L385.15,256.95L385.45,257.04L385.75,257.15L386.05,257.27L386.35,257.39L386.65,257.52L386.95,257.66L387.25,257.8L387.55,257.94L387.85,258.1L388.16,258.25L388.46,258.41L388.76,258.58L389.06,258.75L389.36,258.92L389.66,259.09L389.96,259.26L390.26,259.44L390.56,259.61L390.86,259.79L391.16,259.97L391.46,260.14L391.76,260.32L392.06,260.49L392.36,260.66L392.66,260.83L392.97,260.99L393.27,261.16L393.57,261.31L393.87,261.47L394.17,261.62L394.47,261.76L394.77,261.9L395.07,262.03L395.37,262.16L395.67,262.3L395.97,262.44L396.27,262.59L396.57,262.74L396.87,262.89L397.17,263.05L397.47,263.21L397.78,263.37L398.08,263.53L398.38,263.7L398.68,263.86L398.98,264.03L399.28,264.2L399.58,264.37L399.88,264.54L400.18,264.71L400.48,264.88L400.78,265.05L401.08,265.22L401.38,265.38L401.68,265.55L401.98,265.71L402.28,265.87L402.59,266.03L402.89,266.19L403.19,266.35L403.49,266.5L403.79,266.64L404.09,266.79L404.39,266.93L404.69,267.06L404.99,267.19L405.29,267.32L405.59,267.44L405.89,267.55L406.19,267.66L406.49,267.76L406.79,267.86L407.09,267.95L407.4,268.03L407.7,268.1L408,268.17L408.3,268.23L408.6,268.28L408.9,268.32L409.2,268.36L409.5,268.38L409.8,268.4L410.1,268.4L410.4,268.4L410.7,268.39L411,268.38L411.3,268.36L411.6,268.34L411.91,268.31L412.21,268.28L412.51,268.24L412.81,268.2L413.11,268.16L413.41,268.11L413.71,268.06L414.01,268.01L414.31,267.95L414.61,267.89L414.91,267.82L415.21,267.76L415.51,267.69L415.81,267.62L416.11,267.54L416.41,267.47L416.72,267.39L417.02,267.31L417.32,267.22L417.62,267.14L417.92,267.05L418.22,266.97L418.52,266.88L418.82,266.79L419.12,266.7L419.42,266.61L419.72,266.52L420.02,266.43L420.32,266.34L420.62,266.25L420.92,266.15L421.22,266.06L421.53,265.97L421.83,265.88L422.13,265.79L422.43,265.7L422.73,265.62L423.03,265.53L423.33,265.44L423.63,265.36L423.93,265.28L424.23,265.2L424.53,265.12L424.83,265.04L425.13,264.97L425.43,264.89L425.73,264.81L426.03,264.73L426.34,264.64L426.64,264.55L426.94,264.46L427.24,264.36L427.54,264.27L427.84,264.17L428.14,264.07L428.44,263.97L428.74,263.86L429.04,263.76L429.34,263.65L429.64,263.55L429.94,263.44L430.24,263.33L430.54,263.23L430.84,263.12L431.15,263.01L431.45,262.9L431.75,262.79L432.05,262.69L432.35,262.58L432.65,262.48L432.95,262.37L433.25,262.27L433.55,262.17L433.85,262.07L434.15,261.98L434.45,261.88L434.75,261.79L435.05,261.7L435.35,261.61L435.66,261.53L435.96,261.44L436.26,261.37L436.56,261.29L436.86,261.22L437.16,261.15L437.46,261.09L437.76,261.03L438.06,260.97L438.36,260.92L438.66,260.88L438.96,260.84L439.26,260.8L439.56,260.77L439.86,260.74L440.16,260.72L440.47,260.71L440.77,260.7L441.07,260.7L441.37,260.7L441.67,260.71L441.97,260.72L442.27,260.73L442.57,260.74L442.87,260.76L443.17,260.78L443.47,260.8L443.77,260.82L444.07,260.84L444.37,260.87L444.67,260.9L444.97,260.93L445.28,260.96L445.58,260.99L445.88,261.02L446.18,261.06L446.48,261.09L446.78,261.13L447.08,261.16L447.38,261.2L447.68,261.23L447.98,261.27L448.28,261.3L448.58,261.34L448.88,261.38L449.18,261.41L449.48,261.44L449.78,261.48L450.09,261.51L450.39,261.54L450.69,261.57L450.99,261.61L451.29,261.64L451.59,261.68L451.89,261.71L452.19,261.75L452.49,261.79L452.79,261.82L453.09,261.86L453.39,261.9L453.69,261.94L453.99,261.98L454.29,262.02L454.59,262.06L454.9,262.1L455.2,262.14L455.5,262.18L455.8,262.23L456.1,262.27L456.4,262.31L456.7,262.36L457,262.4" fill="none" stroke="#ff2020" stroke-width="1.2" stroke-linejoin="round" stroke-linecap="round" />
<rect x="310.2" y="221.9" width="23.3" height="20.4" fill="rgba(250,80,80,0.33)" stroke="#ff3030" stroke-width="0.9" stroke-dasharray="2.5,1.5"/>
<rect x="305.3" y="301.8" width="27.1" height="28.2" fill="rgba(250,80,80,0.33)" stroke="#ff3030" stroke-width="0.9" stroke-dasharray="2.5,1.5"/>
<line x1="309.3" y1="316.3" x2="329.2" y2="316.3" stroke="#ff2020" stroke-width="1.2" />
<path d="M329.2,316.3L325.7,314.73L325.7,317.88Z" fill="#ff2020"/>
<line x1="310.2" y1="221.9" x2="268.4" y2="248.5" stroke="#ff2020" stroke-width="1.1" stroke-dasharray="3,2"/>
<line x1="310.2" y1="242.3" x2="313" y2="248" stroke="#ff2020" stroke-width="1.1" stroke-dasharray="3,2"/>
<line x1="332.4" y1="301.8" x2="361.7" y2="279" stroke="#ff2020" stroke-width="1.1" stroke-dasharray="3,2"/>
<line x1="332.4" y1="330" x2="361.7" y2="362.6" stroke="#ff2020" stroke-width="1.1" stroke-dasharray="3,2"/>
<rect x="268.4" y="249" width="44.8" height="41.5" fill="rgba(255,255,255,0.45)" stroke="#333" stroke-width="1.0" />
<path d="M275.9,290.5L283.3,263.5L290.8,265.6L294,290.5" fill="none" stroke="#20a020" stroke-width="1.1" stroke-linejoin="round" stroke-linecap="round" />
<path d="M279,290.5L283.3,266.7L291.9,290.5" fill="none" stroke="#ff2020" stroke-width="1.1" stroke-linejoin="round" stroke-linecap="round" />
<line x1="283.3" y1="262" x2="283.3" y2="290" stroke="#ff2020" stroke-width="0.8" stroke-dasharray="1.5,1.2"/>
<rect x="361.7" y="279" width="78.9" height="83.6" fill="rgba(255,255,255,0.45)" stroke="#333" stroke-width="1.0" />
<path d="M363.2,362.6L409,279" fill="none" stroke="#2020ff" stroke-width="1.0" stroke-linejoin="round" stroke-linecap="round" />
<path d="M396.7,362.6L397,361.91L397.31,361.22L397.61,360.53L397.92,359.84L398.22,359.15L398.53,358.46L398.83,357.77L399.13,357.08L399.44,356.38L399.74,355.69L400.05,355L400.35,354.3L400.66,353.61L400.96,352.92L401.26,352.22L401.57,351.52L401.87,350.83L402.18,350.13L402.48,349.43L402.79,348.73L403.09,348.03L403.39,347.33L403.7,346.63L404,345.92L404.31,345.22L404.61,344.51L404.92,343.8L405.22,343.09L405.52,342.38L405.83,341.67L406.13,340.96L406.44,340.25L406.74,339.54L407.05,338.83L407.35,338.12L407.65,337.4L407.96,336.69L408.26,335.98L408.57,335.27L408.87,334.56L409.18,333.86L409.48,333.15L409.78,332.44L410.09,331.74L410.39,331.04L410.7,330.34L411,329.64L411.31,328.94L411.61,328.24L411.91,327.55L412.22,326.86L412.52,326.17L412.83,325.49L413.13,324.81L413.44,324.13L413.74,323.45L414.04,322.78L414.35,322.11L414.65,321.45L414.96,320.79L415.26,320.13L415.56,319.48L415.87,318.82L416.17,318.17L416.48,317.52L416.78,316.87L417.09,316.23L417.39,315.58L417.69,314.93L418,314.29L418.3,313.64L418.61,312.99L418.91,312.34L419.22,311.69L419.52,311.04L419.82,310.38L420.13,309.73L420.43,309.06L420.74,308.4L421.04,307.73L421.35,307.06L421.65,306.38L421.95,305.7L422.26,305.01L422.56,304.32L422.87,303.62L423.17,302.92L423.48,302.21L423.78,301.49L424.08,300.76L424.39,300.03L424.69,299.28L425,298.54L425.3,297.78L425.61,297.01L425.91,296.24L426.21,295.46L426.52,294.68L426.82,293.89L427.13,293.09L427.43,292.29L427.74,291.49L428.04,290.67L428.34,289.86L428.65,289.04L428.95,288.22L429.26,287.39L429.56,286.56L429.87,285.73L430.17,284.89L430.47,284.05L430.78,283.21L431.08,282.37L431.39,281.53L431.69,280.69L432,279.84L432.3,279" fill="none" stroke="#20a020" stroke-width="1.0" stroke-linejoin="round" stroke-linecap="round" />
<path d="M397.3,362.6L397.6,361.91L397.91,361.22L398.21,360.53L398.52,359.84L398.82,359.15L399.13,358.46L399.43,357.77L399.73,357.08L400.04,356.38L400.34,355.69L400.65,355L400.95,354.3L401.26,353.61L401.56,352.92L401.86,352.22L402.17,351.52L402.47,350.83L402.78,350.13L403.08,349.43L403.39,348.73L403.69,348.03L403.99,347.33L404.3,346.63L404.6,345.92L404.91,345.22L405.21,344.51L405.52,343.8L405.82,343.09L406.12,342.38L406.43,341.67L406.73,340.96L407.04,340.25L407.34,339.54L407.65,338.83L407.95,338.12L408.25,337.4L408.56,336.69L408.86,335.98L409.17,335.27L409.47,334.56L409.78,333.86L410.08,333.15L410.38,332.44L410.69,331.74L410.99,331.04L411.3,330.34L411.6,329.64L411.91,328.94L412.21,328.24L412.51,327.55L412.82,326.86L413.12,326.17L413.43,325.49L413.73,324.81L414.04,324.13L414.34,323.45L414.64,322.78L414.95,322.11L415.25,321.45L415.56,320.79L415.86,320.13L416.16,319.48L416.47,318.82L416.77,318.17L417.08,317.52L417.38,316.87L417.69,316.23L417.99,315.58L418.29,314.93L418.6,314.29L418.9,313.64L419.21,312.99L419.51,312.34L419.82,311.69L420.12,311.04L420.42,310.38L420.73,309.73L421.03,309.06L421.34,308.4L421.64,307.73L421.95,307.06L422.25,306.38L422.55,305.7L422.86,305.01L423.16,304.32L423.47,303.62L423.77,302.92L424.08,302.21L424.38,301.49L424.68,300.76L424.99,300.03L425.29,299.28L425.6,298.54L425.9,297.78L426.21,297.01L426.51,296.24L426.81,295.46L427.12,294.68L427.42,293.89L427.73,293.09L428.03,292.29L428.34,291.49L428.64,290.67L428.94,289.86L429.25,289.04L429.55,288.22L429.86,287.39L430.16,286.56L430.47,285.73L430.77,284.89L431.07,284.05L431.38,283.21L431.68,282.37L431.99,281.53L432.29,280.69L432.6,279.84L432.9,279" fill="none" stroke="#ff2020" stroke-width="1.0" stroke-linejoin="round" stroke-linecap="round" />
<line x1="337.3" y1="215.2" x2="362.7" y2="215.2" stroke="#2020ff" stroke-width="1.3" />
<text x="365.6" y="219.4" font-family="'Liberation Serif', serif" font-size="10.5" font-weight="bold" fill="#000" text-anchor="start" >Zn foil</text>
<line x1="337.3" y1="231.2" x2="362.7" y2="231.2" stroke="#20a020" stroke-width="1.3" />
<text x="365.6" y="235.4" font-family="'Liberation Serif', serif" font-size="10.5" font-weight="bold" fill="#000" text-anchor="start" >Zn<tspan dy="2.94" font-size="7.56">3</tspan><tspan dy="-2.94">In</tspan><tspan dy="2.94" font-size="7.56">4</tspan><tspan dy="-2.94">S</tspan><tspan dy="2.94" font-size="7.56">9</tspan><tspan dy="-2.94"></tspan></text>
<line x1="337.3" y1="249" x2="362.7" y2="249" stroke="#ff2020" stroke-width="1.3" />
<text x="365.6" y="253.2" font-family="'Liberation Serif', serif" font-size="10.5" font-weight="bold" fill="#000" text-anchor="start" >6%-MoS<tspan dy="2.94" font-size="7.56">2</tspan><tspan dy="-2.94">/Zn</tspan><tspan dy="2.94" font-size="7.56">3</tspan><tspan dy="-2.94">In</tspan><tspan dy="2.94" font-size="7.56">4</tspan><tspan dy="-2.94">S</tspan><tspan dy="2.94" font-size="7.56">9</tspan><tspan dy="-2.94"></tspan></text>
<rect x="266.4" y="206.7" width="191.1" height="160.6" fill="none" stroke="#000" stroke-width="1.4" />
<defs><linearGradient id="g11" x1="0" y1="0" x2="0" y2="1"><stop offset="0" stop-color="#f7fafd"/><stop offset="0.5" stop-color="#fcfbfd"/><stop offset="1" stop-color="#fef8f8"/></linearGradient></defs>
<rect x="491.2" y="207" width="192.3" height="161.2" fill="url(#g11)" stroke="none" stroke-width="1" />
<defs><linearGradient id="g12" x1="0" y1="0" x2="0" y2="1"><stop offset="0" stop-color="#d2e5f1"/><stop offset="0.5" stop-color="#ebe1ea"/><stop offset="1" stop-color="#f8d4d4"/></linearGradient></defs>
<rect x="491.2" y="207" width="192.3" height="161.2" fill="url(#g12)" mask="url(#gridmask)" opacity="0.8"/>
<text x="470" y="215.5" font-family="'Liberation Serif', serif" font-size="16" font-weight="bold" fill="#000" text-anchor="start" >f</text>
<line x1="511.25" y1="368.2" x2="511.25" y2="371.8" stroke="#1a1a1a" stroke-width="1.3" />
<line x1="552.15" y1="368.2" x2="552.15" y2="371.8" stroke="#1a1a1a" stroke-width="1.3" />
<line x1="593.05" y1="368.2" x2="593.05" y2="371.8" stroke="#1a1a1a" stroke-width="1.3" />
<line x1="633.95" y1="368.2" x2="633.95" y2="371.8" stroke="#1a1a1a" stroke-width="1.3" />
<line x1="674.85" y1="368.2" x2="674.85" y2="371.8" stroke="#1a1a1a" stroke-width="1.3" />
<line x1="490.8" y1="368.2" x2="490.8" y2="370.2" stroke="#1a1a1a" stroke-width="1.3" />
<line x1="531.7" y1="368.2" x2="531.7" y2="370.2" stroke="#1a1a1a" stroke-width="1.3" />
<line x1="572.6" y1="368.2" x2="572.6" y2="370.2" stroke="#1a1a1a" stroke-width="1.3" />
<line x1="613.5" y1="368.2" x2="613.5" y2="370.2" stroke="#1a1a1a" stroke-width="1.3" />
<line x1="654.4" y1="368.2" x2="654.4" y2="370.2" stroke="#1a1a1a" stroke-width="1.3" />
<text x="511.25" y="380.8" font-family="'Liberation Serif', serif" font-size="11.5" font-weight="bold" fill="#000" text-anchor="middle" >2</text>
<text x="552.15" y="380.8" font-family="'Liberation Serif', serif" font-size="11.5" font-weight="bold" fill="#000" text-anchor="middle" >4</text>
<text x="593.05" y="380.8" font-family="'Liberation Serif', serif" font-size="11.5" font-weight="bold" fill="#000" text-anchor="middle" >6</text>
<text x="633.95" y="380.8" font-family="'Liberation Serif', serif" font-size="11.5" font-weight="bold" fill="#000" text-anchor="middle" >8</text>
<text x="674.85" y="380.8" font-family="'Liberation Serif', serif" font-size="11.5" font-weight="bold" fill="#000" text-anchor="middle" >10</text>
<text x="587.5" y="398.8" font-family="'Liberation Serif', serif" font-size="12.5" font-weight="bold" fill="#000" text-anchor="middle" >Wavenumber (Å)</text>
<text x="481" y="294" font-family="'Liberation Serif', serif" font-size="12.5" font-weight="bold" text-anchor="middle" transform="rotate(-90 481 294)">k<tspan dy="-4.5" font-size="9">2</tspan><tspan dy="4.5"> </tspan><tspan font-style="italic">χ</tspan>(k)</text>
<defs><marker id="mk6" markerUnits="userSpaceOnUse" markerWidth="6.4" markerHeight="6.4" refX="3.2" refY="3.2" overflow="visible"><circle cx="3.2" cy="3.2" r="2.2" fill="none" stroke="#3030f0" stroke-width="0.45" opacity="0.7"/></marker></defs>
<path d="M492.0 245.6L492.8 247.0L493.7 246.5L494.5 246.0L495.3 246.4L496.1 246.2L497.0 246.0L497.8 247.5L498.6 247.6L499.4 248.0L500.3 247.8L501.1 247.6L501.9 248.2L502.7 247.8L503.6 248.0L504.4 247.8L505.2 247.8L506.0 248.2L506.9 247.3L507.7 245.7L508.5 245.3L509.3 245.6L510.2 246.8L511.0 245.4L511.8 245.6L512.6 243.9L513.5 244.3L514.3 245.2L515.1 244.2L515.9 245.3L516.8 243.5L517.6 244.0L518.4 243.2L519.2 243.5L520.1 243.3L520.9 243.9L521.7 243.8L522.5 243.9L523.4 243.8L524.2 244.6L525.0 244.6L525.8 245.3L526.7 245.9L527.5 247.1L528.3 248.6L529.1 248.2L530.0 250.0L530.8 249.2L531.6 250.0L532.4 250.9L533.3 250.8L534.1 249.9L534.9 249.1L535.7 247.8L536.6 248.8L537.4 248.8L538.2 247.3L539.0 247.8L539.9 247.6L540.7 247.9L541.5 248.3L542.3 248.4L543.2 249.9L544.0 249.7L544.8 250.9L545.6 251.9L546.5 251.3L547.3 252.7L548.1 252.3L548.9 251.3L549.8 251.1L550.6 250.9L551.4 250.9L552.2 251.0L553.1 249.8L553.9 247.9L554.7 246.8L555.5 246.6L556.4 243.6L557.2 243.1L558.0 243.2L558.8 243.3L559.7 243.9L560.5 243.3L561.3 245.5L562.1 245.0L563.0 247.2L563.8 249.1L564.6 249.8L565.4 251.4L566.3 251.9L567.1 252.4L567.9 252.5L568.7 253.1L569.6 254.6L570.4 254.4L571.2 254.7L572.0 254.2L572.9 253.6L573.7 252.7L574.5 252.3L575.3 251.6L576.2 251.1L577.0 249.1L577.8 247.3L578.6 247.2L579.5 249.1L580.3 247.4L581.1 247.2L581.9 246.8L582.8 243.9L583.6 242.4L584.4 243.6L585.2 239.4L586.1 241.8L586.9 240.9L587.7 240.6L588.5 242.8L589.4 245.1L590.2 246.5L591.0 247.7L591.8 248.8L592.7 249.0L593.5 250.1L594.3 249.7L595.1 252.7L596.0 255.5L596.8 255.9L597.6 257.6L598.4 254.4L599.3 255.6L600.1 255.3L600.9 257.9L601.7 256.1L602.6 255.8L603.4 253.7L604.2 253.1L605.0 250.6L605.9 249.7L606.7 252.5L607.5 247.2L608.3 248.6L609.2 247.9L610.0 251.1L610.8 247.0L611.6 245.7L612.5 245.3L613.3 244.9L614.1 240.6L614.9 237.8L615.8 234.2L616.6 233.0L617.4 239.8L618.2 240.7L619.1 242.5L619.9 241.2L620.7 241.1L621.5 246.0L622.4 249.6L623.2 248.1L624.0 252.7L624.8 253.9L625.7 250.5L626.5 252.9L627.3 251.8L628.1 253.8L629.0 253.9L629.8 248.2L630.6 251.3L631.4 253.5L632.3 251.5L633.1 248.2L633.9 249.0L634.7 248.4L635.6 252.5L636.4 249.1L637.2 252.3L638.0 249.3L638.9 250.2L639.7 248.7L640.5 247.4L641.3 245.1L642.2 242.4L643.0 235.6L643.8 240.8L644.6 239.1L645.5 237.2L646.3 247.2L647.1 244.4L647.9 241.6L648.8 247.6L649.6 250.0L650.4 250.7L651.2 253.8L652.1 248.1L652.9 253.7L653.7 249.9L654.5 253.2L655.4 253.7L656.2 251.8L657.0 260.7L657.8 251.9L658.7 254.1L659.5 256.3L660.3 252.9L661.1 255.5L662.0 250.5L662.8 255.7L663.6 251.6L664.4 254.8L665.3 254.1L666.1 250.5L666.9 249.0L667.7 244.9L668.6 247.4L669.4 247.6L670.2 240.6L671.0 242.7L671.9 245.1L672.7 244.7L673.5 249.0L674.3 251.6L675.2 241.1L676.0 245.1L676.8 249.2L677.6 246.4L678.5 243.2L679.3 245.2L680.1 247.1L680.9 251.6L681.8 246.6L682.6 252.8" fill="none" stroke="none" marker-start="url(#mk6)" marker-mid="url(#mk6)" marker-end="url(#mk6)"/>
<path d="M491.7,246.39L492.2,246.49L492.71,246.58L493.21,246.67L493.71,246.76L494.21,246.85L494.71,246.94L495.22,247.02L495.72,247.1L496.22,247.18L496.72,247.25L497.23,247.32L497.73,247.38L498.23,247.44L498.73,247.49L499.23,247.54L499.74,247.58L500.24,247.61L500.74,247.64L501.24,247.66L501.74,247.67L502.25,247.67L502.75,247.67L503.25,247.65L503.75,247.62L504.25,247.59L504.76,247.54L505.26,247.49L505.76,247.42L506.26,247.34L506.76,247.25L507.27,247.14L507.77,247.03L508.27,246.9L508.77,246.77L509.28,246.62L509.78,246.47L510.28,246.32L510.78,246.16L511.28,245.99L511.79,245.83L512.29,245.67L512.79,245.5L513.29,245.34L513.79,245.18L514.3,245.03L514.8,244.89L515.3,244.75L515.8,244.62L516.3,244.5L516.81,244.4L517.31,244.3L517.81,244.22L518.31,244.16L518.81,244.11L519.32,244.08L519.82,244.07L520.32,244.08L520.82,244.11L521.33,244.17L521.83,244.25L522.33,244.35L522.83,244.49L523.33,244.65L523.84,244.84L524.34,245.06L524.84,245.32L525.34,245.6L525.84,245.89L526.35,246.21L526.85,246.53L527.35,246.86L527.85,247.18L528.35,247.5L528.86,247.81L529.36,248.1L529.86,248.37L530.36,248.6L530.87,248.81L531.37,248.98L531.87,249.1L532.37,249.18L532.87,249.2L533.38,249.17L533.88,249.09L534.38,248.97L534.88,248.83L535.38,248.67L535.89,248.5L536.39,248.32L536.89,248.16L537.39,248.01L537.89,247.88L538.4,247.79L538.9,247.75L539.4,247.75L539.9,247.82L540.4,247.95L540.91,248.14L541.41,248.38L541.91,248.66L542.41,248.97L542.92,249.31L543.42,249.67L543.92,250.03L544.42,250.39L544.92,250.74L545.43,251.08L545.93,251.39L546.43,251.66L546.93,251.9L547.43,252.08L547.94,252.2L548.44,252.26L548.94,252.24L549.44,252.13L549.94,251.93L550.45,251.64L550.95,251.27L551.45,250.82L551.95,250.31L552.45,249.75L552.96,249.16L553.46,248.54L553.96,247.91L554.46,247.28L554.97,246.66L555.47,246.06L555.97,245.49L556.47,244.97L556.97,244.51L557.48,244.11L557.98,243.8L558.48,243.58L558.98,243.46L559.48,243.46L559.99,243.59L560.49,243.84L560.99,244.2L561.49,244.66L561.99,245.2L562.5,245.82L563,246.49L563.5,247.2L564,247.94L564.5,248.7L565.01,249.46L565.51,250.21L566.01,250.93L566.51,251.61L567.02,252.23L567.52,252.79L568.02,253.27L568.52,253.66L569.02,253.94L569.53,254.13L570.03,254.24L570.53,254.26L571.03,254.2L571.53,254.06L572.04,253.86L572.54,253.6L573.04,253.28L573.54,252.91L574.04,252.49L574.55,252.04L575.05,251.54L575.55,251.02L576.05,250.48L576.56,249.91L577.06,249.33L577.56,248.74L578.06,248.15L578.56,247.56L579.07,246.98L579.57,246.42L580.07,245.87L580.57,245.35L581.07,244.85L581.58,244.39L582.08,243.97L582.58,243.6L583.08,243.28L583.58,243.01L584.09,242.8L584.59,242.67L585.09,242.6L585.59,242.61L586.09,242.71L586.6,242.87L587.1,243.1L587.6,243.4L588.1,243.75L588.61,244.16L589.11,244.61L589.61,245.1L590.11,245.62L590.61,246.18L591.12,246.76L591.62,247.36L592.12,247.97L592.62,248.58L593.12,249.2L593.63,249.82L594.13,250.43L594.63,251.02L595.13,251.59L595.63,252.13L596.14,252.65L596.64,253.13L597.14,253.56L597.64,253.95L598.14,254.28L598.65,254.56L599.15,254.77L599.65,254.91L600.15,254.98L600.66,254.96L601.16,254.86L601.66,254.67L602.16,254.4L602.66,254.05L603.17,253.64L603.67,253.16L604.17,252.63L604.67,252.05L605.17,251.43L605.68,250.78L606.18,250.1L606.68,249.4L607.18,248.68L607.68,247.95L608.19,247.23L608.69,246.51L609.19,245.8L609.69,245.11L610.2,244.44L610.7,243.81L611.2,243.22L611.7,242.67L612.2,242.18L612.71,241.75L613.21,241.38L613.71,241.08L614.21,240.87L614.71,240.73L615.22,240.7L615.72,240.76L616.22,240.91L616.72,241.15L617.22,241.48L617.73,241.87L618.23,242.34L618.73,242.86L619.23,243.43L619.73,244.05L620.24,244.71L620.74,245.39L621.24,246.1L621.74,246.83L622.25,247.57L622.75,248.31L623.25,249.04L623.75,249.76L624.25,250.46L624.76,251.14L625.26,251.78L625.76,252.39L626.26,252.94L626.76,253.44L627.27,253.88L627.77,254.25L628.27,254.54L628.77,254.76L629.27,254.88L629.78,254.9L630.28,254.83L630.78,254.67L631.28,254.42L631.78,254.1L632.29,253.71L632.79,253.26L633.29,252.75L633.79,252.19L634.3,251.6L634.8,250.96L635.3,250.3L635.8,249.62L636.3,248.93L636.81,248.22L637.31,247.52L637.81,246.82L638.31,246.14L638.81,245.48L639.32,244.84L639.82,244.24L640.32,243.68L640.82,243.17L641.32,242.71L641.83,242.32L642.33,241.99L642.83,241.74L643.33,241.57L643.83,241.49L644.34,241.5L644.84,241.6L645.34,241.77L645.84,242.02L646.35,242.34L646.85,242.72L647.35,243.15L647.85,243.63L648.35,244.16L648.86,244.71L649.36,245.3L649.86,245.91L650.36,246.53L650.86,247.17L651.37,247.8L651.87,248.44L652.37,249.06L652.87,249.67L653.37,250.26L653.88,250.82L654.38,251.34L654.88,251.82L655.38,252.26L655.89,252.64L656.39,252.96L656.89,253.21L657.39,253.39L657.89,253.49L658.4,253.5L658.9,253.44L659.4,253.29L659.9,253.08L660.4,252.8L660.91,252.46L661.41,252.07L661.91,251.63L662.41,251.15L662.91,250.63L663.42,250.09L663.92,249.52L664.42,248.93L664.92,248.34L665.42,247.73L665.93,247.13L666.43,246.53L666.93,245.95L667.43,245.38L667.94,244.83L668.44,244.32L668.94,243.84L669.44,243.4L669.94,243.01L670.45,242.67L670.95,242.4L671.45,242.18L671.95,242.04L672.45,241.98L672.96,241.99L673.46,242.08L673.96,242.24L674.46,242.46L674.96,242.75L675.47,243.1L675.97,243.51L676.47,243.97L676.97,244.48L677.47,245.03L677.98,245.63L678.48,246.27L678.98,246.94L679.48,247.64L679.99,248.37L680.49,249.13L680.99,249.91L681.49,250.71L681.99,251.52L682.5,252.34L683,253.17" fill="none" stroke="#3030f0" stroke-width="1.4" stroke-linejoin="round" stroke-linecap="round" />
<defs><marker id="mk7" markerUnits="userSpaceOnUse" markerWidth="6.4" markerHeight="6.4" refX="3.2" refY="3.2" overflow="visible"><circle cx="3.2" cy="3.2" r="2.2" fill="none" stroke="#2a9a2a" stroke-width="0.45" opacity="0.7"/></marker></defs>
<path d="M492.0 289.6L492.8 290.5L493.7 290.1L494.5 290.4L495.3 290.6L496.1 291.4L497.0 291.5L497.8 290.9L498.6 291.5L499.4 292.8L500.3 291.5L501.1 291.7L501.9 292.0L502.7 291.0L503.6 290.0L504.4 290.2L505.2 289.5L506.0 290.6L506.9 290.9L507.7 291.3L508.5 291.0L509.3 289.3L510.2 289.9L511.0 290.3L511.8 290.4L512.6 290.5L513.5 290.9L514.3 291.5L515.1 290.8L515.9 290.2L516.8 291.2L517.6 290.6L518.4 289.5L519.2 288.5L520.1 289.8L520.9 289.1L521.7 289.7L522.5 289.8L523.4 289.7L524.2 288.9L525.0 289.2L525.8 290.1L526.7 290.4L527.5 290.0L528.3 290.1L529.1 291.5L530.0 292.2L530.8 292.7L531.6 294.0L532.4 295.9L533.3 295.9L534.1 297.2L534.9 297.6L535.7 298.3L536.6 297.9L537.4 296.5L538.2 297.7L539.0 296.5L539.9 294.8L540.7 294.5L541.5 294.6L542.3 292.3L543.2 292.2L544.0 290.5L544.8 289.5L545.6 290.0L546.5 288.8L547.3 286.4L548.1 286.0L548.9 284.1L549.8 283.2L550.6 281.8L551.4 281.2L552.2 280.7L553.1 280.1L553.9 280.3L554.7 280.7L555.5 280.8L556.4 281.2L557.2 282.9L558.0 283.8L558.8 284.5L559.7 285.8L560.5 287.8L561.3 289.5L562.1 292.0L563.0 295.0L563.8 297.9L564.6 299.3L565.4 300.3L566.3 301.5L567.1 303.1L567.9 305.6L568.7 306.3L569.6 305.6L570.4 306.7L571.2 304.6L572.0 304.0L572.9 302.4L573.7 299.4L574.5 298.5L575.3 298.7L576.2 296.2L577.0 296.5L577.8 295.1L578.6 293.5L579.5 290.5L580.3 289.9L581.1 286.6L581.9 284.5L582.8 282.2L583.6 282.9L584.4 280.4L585.2 282.3L586.1 282.8L586.9 284.6L587.7 279.7L588.5 279.9L589.4 281.3L590.2 282.5L591.0 282.0L591.8 284.3L592.7 284.1L593.5 286.8L594.3 288.6L595.1 293.8L596.0 294.5L596.8 295.9L597.6 295.8L598.4 299.1L599.3 300.4L600.1 301.3L600.9 305.3L601.7 304.0L602.6 305.3L603.4 306.9L604.2 308.5L605.0 307.9L605.9 303.2L606.7 304.5L607.5 305.2L608.3 301.1L609.2 298.3L610.0 300.9L610.8 303.8L611.6 300.8L612.5 298.1L613.3 297.4L614.1 291.1L614.9 285.8L615.8 287.9L616.6 288.2L617.4 285.3L618.2 284.9L619.1 283.9L619.9 281.3L620.7 283.3L621.5 283.9L622.4 284.2L623.2 285.5L624.0 281.6L624.8 280.4L625.7 280.2L626.5 283.4L627.3 284.9L628.1 288.9L629.0 292.6L629.8 294.8L630.6 294.7L631.4 295.8L632.3 296.7L633.1 299.6L633.9 300.8L634.7 303.0L635.6 302.5L636.4 303.8L637.2 305.0L638.0 304.3L638.9 305.2L639.7 308.8L640.5 305.0L641.3 303.1L642.2 299.2L643.0 298.6L643.8 294.3L644.6 297.4L645.5 297.4L646.3 297.1L647.1 290.3L647.9 291.2L648.8 292.7L649.6 289.5L650.4 283.4L651.2 283.3L652.1 280.6L652.9 282.6L653.7 283.9L654.5 282.3L655.4 279.8L656.2 284.5L657.0 279.3L657.8 286.6L658.7 281.7L659.5 281.5L660.3 282.4L661.1 287.3L662.0 289.7L662.8 291.9L663.6 291.2L664.4 292.1L665.3 296.2L666.1 297.8L666.9 295.0L667.7 296.2L668.6 298.8L669.4 299.1L670.2 299.4L671.0 296.4L671.9 297.5L672.7 304.1L673.5 300.8L674.3 300.0L675.2 300.3L676.0 297.1L676.8 293.2L677.6 287.6L678.5 290.4L679.3 287.9L680.1 286.5L680.9 284.4L681.8 281.4L682.6 283.3" fill="none" stroke="none" marker-start="url(#mk7)" marker-mid="url(#mk7)" marker-end="url(#mk7)"/>
<path d="M491.7,290.69L492.2,290.69L492.71,290.68L493.21,290.67L493.71,290.67L494.21,290.66L494.71,290.65L495.22,290.65L495.72,290.64L496.22,290.63L496.72,290.63L497.23,290.62L497.73,290.61L498.23,290.61L498.73,290.6L499.23,290.59L499.74,290.59L500.24,290.58L500.74,290.58L501.24,290.57L501.74,290.57L502.25,290.56L502.75,290.55L503.25,290.55L503.75,290.55L504.25,290.54L504.76,290.54L505.26,290.53L505.76,290.53L506.26,290.52L506.76,290.52L507.27,290.52L507.77,290.51L508.27,290.51L508.77,290.51L509.28,290.5L509.78,290.5L510.28,290.5L510.78,290.5L511.28,290.49L511.79,290.49L512.29,290.48L512.79,290.47L513.29,290.46L513.79,290.44L514.3,290.41L514.8,290.38L515.3,290.35L515.8,290.3L516.3,290.25L516.81,290.19L517.31,290.12L517.81,290.03L518.31,289.94L518.81,289.84L519.32,289.73L519.82,289.63L520.32,289.52L520.82,289.43L521.33,289.34L521.83,289.27L522.33,289.23L522.83,289.2L523.33,289.21L523.84,289.24L524.34,289.31L524.84,289.41L525.34,289.55L525.84,289.73L526.35,289.96L526.85,290.22L527.35,290.53L527.85,290.89L528.35,291.29L528.86,291.74L529.36,292.22L529.86,292.74L530.36,293.27L530.87,293.81L531.37,294.35L531.87,294.89L532.37,295.41L532.87,295.91L533.38,296.38L533.88,296.8L534.38,297.18L534.88,297.5L535.38,297.76L535.89,297.95L536.39,298.05L536.89,298.07L537.39,298.01L537.89,297.87L538.4,297.67L538.9,297.39L539.4,297.05L539.9,296.65L540.4,296.19L540.91,295.68L541.41,295.12L541.91,294.51L542.41,293.87L542.92,293.18L543.42,292.46L543.92,291.71L544.42,290.93L544.92,290.12L545.43,289.3L545.93,288.47L546.43,287.63L546.93,286.79L547.43,285.97L547.94,285.17L548.44,284.39L548.94,283.65L549.44,282.95L549.94,282.31L550.45,281.72L550.95,281.2L551.45,280.76L551.95,280.4L552.45,280.13L552.96,279.96L553.46,279.9L553.96,279.95L554.46,280.12L554.97,280.39L555.47,280.76L555.97,281.24L556.47,281.8L556.97,282.44L557.48,283.17L557.98,283.97L558.48,284.83L558.98,285.76L559.48,286.75L559.99,287.78L560.49,288.86L560.99,289.98L561.49,291.13L561.99,292.3L562.5,293.48L563,294.67L563.5,295.84L564,297L564.5,298.12L565.01,299.2L565.51,300.23L566.01,301.2L566.51,302.09L567.02,302.89L567.52,303.6L568.02,304.2L568.52,304.69L569.02,305.04L569.53,305.26L570.03,305.33L570.53,305.25L571.03,305.03L571.53,304.69L572.04,304.23L572.54,303.65L573.04,302.98L573.54,302.22L574.04,301.37L574.55,300.46L575.05,299.48L575.55,298.46L576.05,297.38L576.56,296.28L577.06,295.15L577.56,294.01L578.06,292.86L578.56,291.72L579.07,290.58L579.57,289.47L580.07,288.37L580.57,287.31L581.07,286.28L581.58,285.29L582.08,284.35L582.58,283.47L583.08,282.64L583.58,281.89L584.09,281.2L584.59,280.59L585.09,280.07L585.59,279.64L586.09,279.31L586.6,279.09L587.1,278.97L587.6,278.97L588.1,279.09L588.61,279.33L589.11,279.68L589.61,280.14L590.11,280.7L590.61,281.35L591.12,282.08L591.62,282.89L592.12,283.77L592.62,284.7L593.12,285.69L593.63,286.72L594.13,287.8L594.63,288.9L595.13,290.02L595.63,291.16L596.14,292.31L596.64,293.46L597.14,294.6L597.64,295.73L598.14,296.83L598.65,297.89L599.15,298.92L599.65,299.9L600.15,300.83L600.66,301.69L601.16,302.48L601.66,303.19L602.16,303.8L602.66,304.33L603.17,304.75L603.67,305.06L604.17,305.24L604.67,305.3L605.17,305.23L605.68,305.02L606.18,304.7L606.68,304.26L607.18,303.73L607.68,303.1L608.19,302.38L608.69,301.6L609.19,300.74L609.69,299.83L610.2,298.86L610.7,297.86L611.2,296.83L611.7,295.77L612.2,294.7L612.71,293.63L613.21,292.56L613.71,291.5L614.21,290.46L614.71,289.44L615.22,288.45L615.72,287.5L616.22,286.59L616.72,285.73L617.22,284.91L617.73,284.16L618.23,283.47L618.73,282.86L619.23,282.32L619.73,281.86L620.24,281.49L620.74,281.21L621.24,281.04L621.74,280.97L622.25,281.01L622.75,281.17L623.25,281.43L623.75,281.8L624.25,282.26L624.76,282.81L625.26,283.45L625.76,284.15L626.26,284.92L626.76,285.75L627.27,286.63L627.77,287.55L628.27,288.51L628.77,289.5L629.27,290.51L629.78,291.54L630.28,292.57L630.78,293.61L631.28,294.63L631.78,295.64L632.29,296.62L632.79,297.57L633.29,298.47L633.79,299.32L634.3,300.11L634.8,300.83L635.3,301.48L635.8,302.03L636.3,302.49L636.81,302.84L637.31,303.09L637.81,303.21L638.31,303.2L638.81,303.05L639.32,302.78L639.82,302.39L640.32,301.89L640.82,301.3L641.32,300.62L641.83,299.86L642.33,299.04L642.83,298.16L643.33,297.23L643.83,296.28L644.34,295.29L644.84,294.3L645.34,293.3L645.84,292.31L646.35,291.33L646.85,290.38L647.35,289.46L647.85,288.57L648.35,287.71L648.86,286.9L649.36,286.13L649.86,285.41L650.36,284.75L650.86,284.14L651.37,283.6L651.87,283.12L652.37,282.71L652.87,282.38L653.37,282.14L653.88,281.97L654.38,281.89L654.88,281.91L655.38,282.01L655.89,282.19L656.39,282.44L656.89,282.77L657.39,283.15L657.89,283.59L658.4,284.09L658.9,284.63L659.4,285.2L659.9,285.82L660.4,286.46L660.91,287.12L661.41,287.8L661.91,288.49L662.41,289.19L662.91,289.88L663.42,290.57L663.92,291.25L664.42,291.91L664.92,292.56L665.42,293.19L665.93,293.8L666.43,294.37L666.93,294.92L667.43,295.44L667.94,295.91L668.44,296.35L668.94,296.74L669.44,297.09L669.94,297.39L670.45,297.63L670.95,297.82L671.45,297.94L671.95,298L672.45,298L672.96,297.93L673.46,297.81L673.96,297.62L674.46,297.38L674.96,297.09L675.47,296.75L675.97,296.36L676.47,295.94L676.97,295.47L677.47,294.96L677.98,294.42L678.48,293.84L678.98,293.24L679.48,292.61L679.99,291.96L680.49,291.29L680.99,290.6L681.49,289.9L681.99,289.18L682.5,288.46L683,287.73" fill="none" stroke="#2a9a2a" stroke-width="1.4" stroke-linejoin="round" stroke-linecap="round" />
<path d="M492.0 347.0L492.8 346.7L493.7 346.9L494.5 347.0L495.3 347.8L496.1 347.3L497.0 347.8L497.8 347.3L498.6 348.8L499.4 347.6L500.3 347.6L501.1 347.3L501.9 346.8L502.7 347.2L503.6 348.0L504.4 347.6L505.2 348.4L506.0 346.7L506.9 346.3L507.7 347.2L508.5 347.2L509.3 346.4L510.2 347.6L511.0 347.9L511.8 347.5L512.6 346.9L513.5 348.3L514.3 347.6L515.1 347.6L515.9 348.0L516.8 347.5L517.6 348.5L518.4 347.0L519.2 347.3L520.1 346.7L520.9 347.1L521.7 346.7L522.5 347.1L523.4 346.6L524.2 346.5L525.0 346.1L525.8 346.9L526.7 346.7L527.5 348.4L528.3 348.3L529.1 348.6L530.0 349.9L530.8 351.7L531.6 351.5L532.4 352.6L533.3 352.5L534.1 354.6L534.9 355.5L535.7 355.6L536.6 355.7L537.4 354.3L538.2 353.3L539.0 352.8L539.9 353.1L540.7 351.8L541.5 351.0L542.3 349.7L543.2 349.7L544.0 347.4L544.8 346.9L545.6 344.8L546.5 344.0L547.3 343.4L548.1 342.2L548.9 340.6L549.8 339.5L550.6 339.6L551.4 338.9L552.2 337.8L553.1 338.3L553.9 338.4L554.7 339.7L555.5 340.4L556.4 341.2L557.2 341.6L558.0 341.9L558.8 343.7L559.7 344.6L560.5 344.9L561.3 347.9L562.1 350.5L563.0 352.2L563.8 354.2L564.6 356.2L565.4 358.2L566.3 358.3L567.1 360.0L567.9 361.6L568.7 362.2L569.6 362.7L570.4 361.7L571.2 362.2L572.0 360.9L572.9 360.9L573.7 358.0L574.5 358.0L575.3 354.6L576.2 353.1L577.0 351.6L577.8 348.2L578.6 345.5L579.5 344.4L580.3 344.8L581.1 343.8L581.9 342.1L582.8 340.3L583.6 340.4L584.4 340.6L585.2 338.8L586.1 335.6L586.9 335.4L587.7 337.8L588.5 339.4L589.4 339.6L590.2 339.6L591.0 343.5L591.8 342.0L592.7 342.7L593.5 340.1L594.3 342.6L595.1 344.4L596.0 346.5L596.8 347.0L597.6 348.4L598.4 350.2L599.3 352.9L600.1 354.8L600.9 356.4L601.7 355.8L602.6 358.8L603.4 360.2L604.2 361.3L605.0 360.4L605.9 360.4L606.7 358.0L607.5 361.1L608.3 356.6L609.2 353.4L610.0 349.7L610.8 349.2L611.6 347.8L612.5 346.7L613.3 346.2L614.1 349.1L614.9 348.5L615.8 344.6L616.6 343.1L617.4 342.6L618.2 343.0L619.1 345.4L619.9 342.9L620.7 346.5L621.5 341.0L622.4 339.8L623.2 338.8L624.0 338.0L624.8 341.1L625.7 346.1L626.5 344.0L627.3 347.0L628.1 348.6L629.0 349.9L629.8 345.4L630.6 347.4L631.4 349.8L632.3 350.1L633.1 353.8L633.9 354.7L634.7 356.8L635.6 360.7L636.4 366.7L637.2 367.5L638.0 363.5L638.9 357.6L639.7 360.5L640.5 357.5L641.3 361.5L642.2 358.9L643.0 355.6L643.8 355.5L644.6 351.6L645.5 354.1L646.3 344.7L647.1 347.6L647.9 346.5L648.8 341.3L649.6 346.2L650.4 345.9L651.2 345.4L652.1 344.0L652.9 339.8L653.7 340.1L654.5 335.4L655.4 336.3L656.2 337.6L657.0 339.0L657.8 343.6L658.7 345.6L659.5 350.5L660.3 350.0L661.1 350.2L662.0 348.5L662.8 343.5L663.6 347.0L664.4 348.7L665.3 348.8L666.1 351.8L666.9 352.2L667.7 353.9L668.6 353.7L669.4 355.2L670.2 353.5L671.0 356.8L671.9 358.4L672.7 356.3L673.5 353.6L674.3 353.4L675.2 353.6L676.0 355.4L676.8 356.4L677.6 348.8L678.5 350.6L679.3 347.0L680.1 349.8L680.9 351.8L681.8 347.9L682.6 344.6" fill="none" stroke="none" marker-start="url(#mk2)" marker-mid="url(#mk2)" marker-end="url(#mk2)"/>
<path d="M491.7,347.58L492.2,347.56L492.71,347.54L493.21,347.52L493.71,347.5L494.21,347.48L494.71,347.46L495.22,347.44L495.72,347.42L496.22,347.41L496.72,347.39L497.23,347.37L497.73,347.36L498.23,347.34L498.73,347.32L499.23,347.31L499.74,347.3L500.24,347.29L500.74,347.27L501.24,347.26L501.74,347.25L502.25,347.25L502.75,347.24L503.25,347.23L503.75,347.23L504.25,347.23L504.76,347.22L505.26,347.22L505.76,347.22L506.26,347.23L506.76,347.23L507.27,347.24L507.77,347.24L508.27,347.25L508.77,347.27L509.28,347.28L509.78,347.29L510.28,347.31L510.78,347.33L511.28,347.35L511.79,347.36L512.29,347.38L512.79,347.39L513.29,347.39L513.79,347.39L514.3,347.39L514.8,347.37L515.3,347.35L515.8,347.31L516.3,347.27L516.81,347.2L517.31,347.13L517.81,347.04L518.31,346.93L518.81,346.81L519.32,346.68L519.82,346.55L520.32,346.42L520.82,346.3L521.33,346.19L521.83,346.1L522.33,346.04L522.83,346L523.33,346.01L523.84,346.05L524.34,346.13L524.84,346.25L525.34,346.41L525.84,346.61L526.35,346.86L526.85,347.15L527.35,347.49L527.85,347.88L528.35,348.31L528.86,348.79L529.36,349.29L529.86,349.83L530.36,350.37L530.87,350.93L531.37,351.48L531.87,352.02L532.37,352.54L532.87,353.03L533.38,353.49L533.88,353.89L534.38,354.24L534.88,354.53L535.38,354.74L535.89,354.87L536.39,354.91L536.89,354.86L537.39,354.72L537.89,354.5L538.4,354.21L538.9,353.84L539.4,353.42L539.9,352.93L540.4,352.39L540.91,351.81L541.41,351.18L541.91,350.52L542.41,349.83L542.92,349.11L543.42,348.38L543.92,347.63L544.42,346.87L544.92,346.12L545.43,345.36L545.93,344.61L546.43,343.88L546.93,343.17L547.43,342.48L547.94,341.83L548.44,341.21L548.94,340.63L549.44,340.1L549.94,339.62L550.45,339.2L550.95,338.84L551.45,338.55L551.95,338.33L552.45,338.19L552.96,338.14L553.46,338.17L553.96,338.3L554.46,338.53L554.97,338.84L555.47,339.24L555.97,339.72L556.47,340.28L556.97,340.9L557.48,341.6L557.98,342.36L558.48,343.17L558.98,344.04L559.48,344.96L559.99,345.93L560.49,346.94L560.99,347.98L561.49,349.05L561.99,350.15L562.5,351.26L563,352.37L563.5,353.47L564,354.55L564.5,355.6L565.01,356.61L565.51,357.57L566.01,358.47L566.51,359.3L567.02,360.04L567.52,360.69L568.02,361.24L568.52,361.68L569.02,361.99L569.53,362.17L570.03,362.21L570.53,362.1L571.03,361.86L571.53,361.5L572.04,361.02L572.54,360.44L573.04,359.77L573.54,359.01L574.04,358.17L574.55,357.27L575.05,356.31L575.55,355.3L576.05,354.25L576.56,353.18L577.06,352.08L577.56,350.97L578.06,349.86L578.56,348.76L579.07,347.68L579.57,346.61L580.07,345.56L580.57,344.55L581.07,343.57L581.58,342.63L582.08,341.73L582.58,340.89L583.08,340.11L583.58,339.38L584.09,338.73L584.59,338.14L585.09,337.64L585.59,337.22L586.09,336.89L586.6,336.65L587.1,336.51L587.6,336.48L588.1,336.56L588.61,336.75L589.11,337.04L589.61,337.43L590.11,337.91L590.61,338.47L591.12,339.11L591.62,339.82L592.12,340.59L592.62,341.42L593.12,342.3L593.63,343.23L594.13,344.19L594.63,345.18L595.13,346.2L595.63,347.24L596.14,348.29L596.64,349.34L597.14,350.39L597.64,351.43L598.14,352.45L598.65,353.45L599.15,354.42L599.65,355.34L600.15,356.22L600.66,357.04L601.16,357.8L601.66,358.49L602.16,359.09L602.66,359.62L603.17,360.05L603.67,360.37L604.17,360.59L604.67,360.7L605.17,360.68L605.68,360.54L606.18,360.3L606.68,359.95L607.18,359.51L607.68,358.98L608.19,358.38L608.69,357.7L609.19,356.95L609.69,356.15L610.2,355.3L610.7,354.41L611.2,353.49L611.7,352.53L612.2,351.56L612.71,350.58L613.21,349.59L613.71,348.61L614.21,347.63L614.71,346.67L615.22,345.73L615.72,344.82L616.22,343.94L616.72,343.1L617.22,342.31L617.73,341.56L618.23,340.88L618.73,340.26L619.23,339.71L619.73,339.23L620.24,338.84L620.74,338.53L621.24,338.32L621.74,338.21L622.25,338.2L622.75,338.31L623.25,338.52L623.75,338.82L624.25,339.22L624.76,339.7L625.26,340.26L625.76,340.89L626.26,341.58L626.76,342.32L627.27,343.12L627.77,343.95L628.27,344.82L628.77,345.72L629.27,346.65L629.78,347.58L630.28,348.52L630.78,349.47L631.28,350.4L631.78,351.33L632.29,352.23L632.79,353.1L633.29,353.93L633.79,354.73L634.3,355.47L634.8,356.15L635.3,356.77L635.8,357.31L636.3,357.78L636.81,358.16L637.31,358.44L637.81,358.63L638.31,358.7L638.81,358.66L639.32,358.51L639.82,358.26L640.32,357.92L640.82,357.5L641.32,356.99L641.83,356.42L642.33,355.79L642.83,355.1L643.33,354.36L643.83,353.59L644.34,352.79L644.84,351.96L645.34,351.12L645.84,350.27L646.35,349.42L646.85,348.57L647.35,347.74L647.85,346.92L648.35,346.13L648.86,345.36L649.36,344.63L649.86,343.93L650.36,343.28L650.86,342.68L651.37,342.13L651.87,341.64L652.37,341.22L652.87,340.87L653.37,340.59L653.88,340.4L654.38,340.29L654.88,340.27L655.38,340.34L655.89,340.48L656.39,340.7L656.89,340.99L657.39,341.35L657.89,341.76L658.4,342.22L658.9,342.73L659.4,343.28L659.9,343.87L660.4,344.5L660.91,345.14L661.41,345.81L661.91,346.49L662.41,347.18L662.91,347.88L663.42,348.58L663.92,349.27L664.42,349.95L664.92,350.62L665.42,351.27L665.93,351.9L666.43,352.51L666.93,353.08L667.43,353.63L667.94,354.13L668.44,354.6L668.94,355.02L669.44,355.4L669.94,355.72L670.45,355.98L670.95,356.19L671.45,356.33L671.95,356.4L672.45,356.41L672.96,356.34L673.46,356.21L673.96,356.02L674.46,355.77L674.96,355.46L675.47,355.1L675.97,354.69L676.47,354.23L676.97,353.73L677.47,353.19L677.98,352.62L678.48,352.01L678.98,351.36L679.48,350.69L679.99,350L680.49,349.28L680.99,348.55L681.49,347.8L681.99,347.03L682.5,346.26L683,345.48" fill="none" stroke="#ff2a2a" stroke-width="1.4" stroke-linejoin="round" stroke-linecap="round" />
<text x="680" y="221.3" font-family="'Liberation Serif', serif" font-size="10.5" font-weight="bold" fill="#000" text-anchor="end" >Zn k-space</text>
<circle cx="504" cy="217.5" r="2.4" fill="none" stroke="#3030f0" stroke-width="0.7"/>
<text x="518.6" y="221.3" font-family="'Liberation Serif', serif" font-size="10.5" font-weight="bold" fill="#000" text-anchor="start" >Zn foil</text>
<line x1="493" y1="232.7" x2="514.2" y2="232.7" stroke="#3030f0" stroke-width="1.4" />
<text x="518.6" y="236.5" font-family="'Liberation Serif', serif" font-size="10.5" font-weight="bold" fill="#000" text-anchor="start" >Fitting</text>
<circle cx="503.1" cy="261.3" r="2.4" fill="none" stroke="#2a9a2a" stroke-width="0.7"/>
<text x="516.5" y="265.1" font-family="'Liberation Serif', serif" font-size="10.5" font-weight="bold" fill="#000" text-anchor="start" >Zn<tspan dy="2.94" font-size="7.56">3</tspan><tspan dy="-2.94">In</tspan><tspan dy="2.94" font-size="7.56">4</tspan><tspan dy="-2.94">S</tspan><tspan dy="2.94" font-size="7.56">9</tspan><tspan dy="-2.94"></tspan></text>
<line x1="493" y1="276.5" x2="514.2" y2="276.5" stroke="#2a9a2a" stroke-width="1.4" />
<text x="518.6" y="280.3" font-family="'Liberation Serif', serif" font-size="10.5" font-weight="bold" fill="#000" text-anchor="start" >Fitting</text>
<circle cx="504" cy="314.9" r="2.4" fill="none" stroke="#ff2a2a" stroke-width="0.7"/>
<text x="517.1" y="318.7" font-family="'Liberation Serif', serif" font-size="10.5" font-weight="bold" fill="#000" text-anchor="start" >6%-MoS<tspan dy="2.94" font-size="7.56">2</tspan><tspan dy="-2.94">/Zn</tspan><tspan dy="2.94" font-size="7.56">3</tspan><tspan dy="-2.94">In</tspan><tspan dy="2.94" font-size="7.56">4</tspan><tspan dy="-2.94">S</tspan><tspan dy="2.94" font-size="7.56">9</tspan><tspan dy="-2.94"></tspan></text>
<line x1="493" y1="331.5" x2="514.2" y2="331.5" stroke="#ff2a2a" stroke-width="1.4" />
<text x="518.6" y="335.3" font-family="'Liberation Serif', serif" font-size="10.5" font-weight="bold" fill="#000" text-anchor="start" >Fitting</text>
<rect x="491.2" y="207" width="192.3" height="161.2" fill="none" stroke="#000" stroke-width="1.4" />
<defs><linearGradient id="g13" x1="0" y1="0" x2="0" y2="1"><stop offset="0" stop-color="#f7fafd"/><stop offset="0.5" stop-color="#fcfbfd"/><stop offset="1" stop-color="#fef8f8"/></linearGradient></defs>
<rect x="24.2" y="413.7" width="191.8" height="159.9" fill="url(#g13)" stroke="none" stroke-width="1" />
<defs><linearGradient id="g14" x1="0" y1="0" x2="0" y2="1"><stop offset="0" stop-color="#d2e5f1"/><stop offset="0.5" stop-color="#ebe1ea"/><stop offset="1" stop-color="#f8d4d4"/></linearGradient></defs>
<rect x="24.2" y="413.7" width="191.8" height="159.9" fill="url(#g14)" mask="url(#gridmask)" opacity="0.8"/>
<text x="2" y="421.5" font-family="'Liberation Serif', serif" font-size="16" font-weight="bold" fill="#000" text-anchor="start" >g</text>
<line x1="24.2" y1="573.6" x2="24.2" y2="577.2" stroke="#1a1a1a" stroke-width="1.3" />
<line x1="88" y1="573.6" x2="88" y2="577.2" stroke="#1a1a1a" stroke-width="1.3" />
<line x1="151.8" y1="573.6" x2="151.8" y2="577.2" stroke="#1a1a1a" stroke-width="1.3" />
<line x1="215.6" y1="573.6" x2="215.6" y2="577.2" stroke="#1a1a1a" stroke-width="1.3" />
<line x1="56.1" y1="573.6" x2="56.1" y2="575.6" stroke="#1a1a1a" stroke-width="1.3" />
<line x1="119.9" y1="573.6" x2="119.9" y2="575.6" stroke="#1a1a1a" stroke-width="1.3" />
<line x1="183.7" y1="573.6" x2="183.7" y2="575.6" stroke="#1a1a1a" stroke-width="1.3" />
<text x="24.2" y="586.3" font-family="'Liberation Serif', serif" font-size="11.5" font-weight="bold" fill="#000" text-anchor="middle" >0</text>
<text x="88" y="586.3" font-family="'Liberation Serif', serif" font-size="11.5" font-weight="bold" fill="#000" text-anchor="middle" >2</text>
<text x="151.8" y="586.3" font-family="'Liberation Serif', serif" font-size="11.5" font-weight="bold" fill="#000" text-anchor="middle" >4</text>
<text x="215.6" y="586.3" font-family="'Liberation Serif', serif" font-size="11.5" font-weight="bold" fill="#000" text-anchor="middle" >6</text>
<text x="121.2" y="606.5" font-family="'Liberation Serif', serif" font-size="14" font-weight="bold" fill="#000" text-anchor="middle" >Radial distance (Å)</text>
<text x="11.2" y="492.9" font-family="'Liberation Serif', serif" font-size="13" font-weight="bold" text-anchor="middle" transform="rotate(-90 11.2 492.9)">FT(K<tspan dy="-4.5" font-size="9">2</tspan><tspan dy="4.5"> </tspan><tspan font-style="italic">χ</tspan>(k))</text>
<defs><marker id="mk8" markerUnits="userSpaceOnUse" markerWidth="6.4" markerHeight="6.4" refX="3.2" refY="3.2" overflow="visible"><circle cx="3.2" cy="3.2" r="2.2" fill="none" stroke="#3030f0" stroke-width="0.45" opacity="0.6"/></marker></defs>
<path d="M25.0 461.6L25.8 461.9L26.5 462.0L27.3 462.5L28.0 461.9L28.8 461.6L29.5 461.3L30.3 461.7L31.0 461.7L31.8 461.7L32.5 461.2L33.3 460.9L34.0 461.3L34.8 461.8L35.5 462.1L36.3 461.6L37.0 461.4L37.8 461.1L38.5 460.8L39.3 460.8L40.0 461.7L40.8 462.4L41.5 462.9L42.3 462.6L43.0 462.5L43.8 462.4L44.5 462.5L45.3 462.9L46.0 462.9L46.8 462.2L47.5 461.6L48.3 461.4L49.0 460.9L49.8 460.5L50.5 460.4L51.3 459.9L52.0 460.3L52.8 460.9L53.5 461.5L54.3 461.4L55.0 461.5L55.8 461.8L56.5 461.7L57.3 461.6L58.0 462.3L58.8 462.7L59.5 463.1L60.3 463.2L61.0 463.2L61.8 462.3L62.5 462.0L63.3 461.9L64.0 462.6L64.8 463.5L65.5 463.3L66.3 463.5L67.0 463.1L67.8 462.5L68.5 462.2L69.3 461.2L70.0 461.3L70.8 461.0L71.5 461.2L72.3 460.9L73.0 461.1L73.8 461.3L74.5 461.8L75.3 462.1L76.0 461.6L76.8 460.7L77.5 459.8L78.3 459.5L79.0 458.9L79.8 457.8L80.5 456.7L81.3 454.6L82.0 453.1L82.8 451.3L83.5 449.7L84.3 448.0L85.0 446.2L85.8 445.2L86.5 444.6L87.3 443.4L88.0 442.1L88.8 441.7L89.5 439.7L90.3 439.1L91.0 437.8L91.8 437.7L92.5 437.1L93.3 436.9L94.0 436.4L94.8 435.6L95.5 435.4L96.3 435.8L97.0 436.7L97.8 436.9L98.5 437.2L99.3 437.2L100.0 437.8L100.8 438.0L101.5 438.9L102.3 440.1L103.0 442.1L103.8 443.1L104.5 444.6L105.3 446.6L106.0 447.8L106.8 449.3L107.5 450.6L108.3 452.7L109.0 454.1L109.8 455.2L110.5 456.4L111.3 457.9L112.0 459.2L112.8 460.4L113.5 460.6L114.3 461.3L115.0 462.2L115.8 462.1L116.5 461.8L117.3 461.8L118.0 462.4L118.8 462.6L119.5 462.4L120.3 462.5L121.0 462.6L121.8 462.3L122.5 462.6L123.3 462.0L124.0 462.5L124.8 462.1L125.5 461.8L126.3 461.7L127.0 461.7L127.8 462.0L128.5 461.3L129.3 461.3L130.0 461.8L130.8 461.8L131.5 461.7L132.3 462.0L133.0 462.1L133.8 461.7L134.5 461.7L135.3 461.2L136.0 460.8L136.8 461.6L137.5 460.9L138.3 461.3L139.0 461.5L139.8 462.0L140.5 461.8L141.3 462.6L142.0 462.1L142.8 461.8L143.5 461.7L144.3 462.1L145.0 461.7L145.8 462.8L146.5 462.4L147.3 462.4L148.0 462.5L148.8 463.0L149.5 462.7L150.3 462.3L151.0 462.3L151.8 462.7L152.5 462.5L153.3 462.2L154.0 461.3L154.8 461.6L155.5 462.2L156.3 462.3L157.0 461.2L157.8 461.0L158.5 460.6L159.3 460.8L160.0 460.8L160.8 461.4L161.5 461.3L162.3 461.2L163.0 460.8L163.8 460.8L164.5 459.6L165.3 459.8L166.0 459.7L166.8 460.7L167.5 460.4L168.3 460.0L169.0 460.7L169.8 461.0L170.5 460.6L171.3 460.2L172.0 459.5L172.8 459.0L173.5 458.2L174.3 457.7L175.0 457.5L175.8 457.2L176.5 457.8L177.3 458.0L178.0 458.2L178.8 458.0L179.5 458.3L180.3 457.9L181.0 457.6L181.8 456.9L182.5 456.3L183.3 457.2L184.0 457.8L184.8 458.5L185.5 458.7L186.3 457.9L187.0 458.0L187.8 458.4L188.5 459.0L189.3 459.2L190.0 459.9L190.8 459.8L191.5 458.8L192.3 459.5L193.0 459.7L193.8 460.3L194.5 461.1L195.3 461.9L196.0 462.6L196.8 462.6L197.5 461.9L198.3 461.7L199.0 461.7L199.8 461.4L200.5 462.5L201.3 462.3L202.0 462.1L202.8 461.9L203.5 462.8L204.3 462.8L205.0 462.7L205.8 462.5L206.5 462.2L207.3 461.5L208.0 461.5L208.8 461.7L209.5 461.8L210.3 462.0L211.0 462.4L211.8 462.2L212.5 461.8L213.3 461.8L214.0 462.1L214.8 460.7" fill="none" stroke="none" marker-start="url(#mk8)" marker-mid="url(#mk8)" marker-end="url(#mk8)"/>
<path d="M24.7,461.75L25.2,461.69L25.71,461.64L26.21,461.59L26.71,461.53L27.21,461.49L27.71,461.44L28.22,461.4L28.72,461.36L29.22,461.32L29.72,461.29L30.23,461.26L30.73,461.24L31.23,461.22L31.73,461.21L32.23,461.2L32.74,461.2L33.24,461.21L33.74,461.23L34.24,461.25L34.74,461.28L35.25,461.32L35.75,461.37L36.25,461.42L36.75,461.48L37.25,461.55L37.76,461.62L38.26,461.69L38.76,461.76L39.26,461.83L39.76,461.91L40.27,461.98L40.77,462.04L41.27,462.1L41.77,462.16L42.28,462.21L42.78,462.25L43.28,462.28L43.78,462.3L44.28,462.31L44.79,462.31L45.29,462.29L45.79,462.26L46.29,462.22L46.79,462.16L47.3,462.1L47.8,462.03L48.3,461.96L48.8,461.88L49.3,461.8L49.81,461.72L50.31,461.64L50.81,461.56L51.31,461.48L51.82,461.41L52.32,461.35L52.82,461.3L53.32,461.25L53.82,461.22L54.33,461.2L54.83,461.2L55.33,461.21L55.83,461.24L56.33,461.28L56.84,461.34L57.34,461.4L57.84,461.47L58.34,461.56L58.84,461.64L59.35,461.73L59.85,461.83L60.35,461.92L60.85,462.01L61.35,462.1L61.86,462.19L62.36,462.26L62.86,462.33L63.36,462.39L63.87,462.44L64.37,462.48L64.87,462.5L65.37,462.5L65.87,462.49L66.38,462.46L66.88,462.43L67.38,462.38L67.88,462.33L68.38,462.28L68.89,462.22L69.39,462.17L69.89,462.12L70.39,462.08L70.89,462.04L71.4,462.01L71.9,462L72.4,462L72.9,462.01L73.41,462.02L73.91,462.02L74.41,462L74.91,461.96L75.41,461.87L75.92,461.74L76.42,461.56L76.92,461.31L77.42,460.98L77.92,460.58L78.43,460.08L78.93,459.49L79.43,458.8L79.93,458.02L80.43,457.18L80.94,456.27L81.44,455.32L81.94,454.32L82.44,453.28L82.95,452.23L83.45,451.17L83.95,450.11L84.45,449.05L84.95,448.02L85.46,447L85.96,446L86.46,445.03L86.96,444.1L87.46,443.19L87.97,442.33L88.47,441.51L88.97,440.74L89.47,440.03L89.97,439.36L90.48,438.74L90.98,438.18L91.48,437.68L91.98,437.23L92.48,436.84L92.99,436.51L93.49,436.23L93.99,436.02L94.49,435.85L95,435.74L95.5,435.68L96,435.67L96.5,435.7L97,435.77L97.51,435.9L98.01,436.08L98.51,436.32L99.01,436.64L99.51,437.04L100.02,437.52L100.52,438.09L101.02,438.74L101.52,439.48L102.02,440.28L102.53,441.14L103.03,442.05L103.53,443.01L104.03,444.01L104.54,445.03L105.04,446.08L105.54,447.14L106.04,448.2L106.54,449.26L107.05,450.32L107.55,451.36L108.05,452.38L108.55,453.37L109.05,454.32L109.56,455.23L110.06,456.1L110.56,456.91L111.06,457.66L111.56,458.36L112.07,459.01L112.57,459.6L113.07,460.14L113.57,460.63L114.07,461.06L114.58,461.45L115.08,461.78L115.58,462.07L116.08,462.32L116.59,462.52L117.09,462.68L117.59,462.81L118.09,462.91L118.59,462.97L119.1,463L119.6,463.01L120.1,462.99L120.6,462.96L121.1,462.9L121.61,462.82L122.11,462.74L122.61,462.64L123.11,462.53L123.61,462.41L124.12,462.29L124.62,462.17L125.12,462.05L125.62,461.93L126.13,461.82L126.63,461.72L127.13,461.63L127.63,461.55L128.13,461.49L128.64,461.44L129.14,461.41L129.64,461.4L130.14,461.4L130.64,461.41L131.15,461.44L131.65,461.47L132.15,461.52L132.65,461.57L133.15,461.63L133.66,461.7L134.16,461.77L134.66,461.84L135.16,461.91L135.66,461.99L136.17,462.07L136.67,462.14L137.17,462.21L137.67,462.28L138.18,462.34L138.68,462.39L139.18,462.44L139.68,462.48L140.18,462.51L140.69,462.53L141.19,462.54L141.69,462.54L142.19,462.53L142.69,462.51L143.2,462.48L143.7,462.45L144.2,462.41L144.7,462.36L145.2,462.31L145.71,462.25L146.21,462.19L146.71,462.13L147.21,462.06L147.72,461.99L148.22,461.92L148.72,461.84L149.22,461.77L149.72,461.69L150.23,461.61L150.73,461.54L151.23,461.46L151.73,461.39L152.23,461.32L152.74,461.25L153.24,461.19L153.74,461.13L154.24,461.07L154.74,461.02L155.25,460.98L155.75,460.94L156.25,460.9L156.75,460.88L157.25,460.85L157.76,460.83L158.26,460.81L158.76,460.79L159.26,460.78L159.77,460.77L160.27,460.75L160.77,460.74L161.27,460.73L161.77,460.72L162.28,460.71L162.78,460.69L163.28,460.68L163.78,460.66L164.28,460.63L164.79,460.61L165.29,460.58L165.79,460.54L166.29,460.5L166.79,460.46L167.3,460.41L167.8,460.35L168.3,460.28L168.8,460.21L169.31,460.13L169.81,460.04L170.31,459.94L170.81,459.83L171.31,459.71L171.82,459.59L172.32,459.46L172.82,459.33L173.32,459.2L173.82,459.06L174.33,458.92L174.83,458.79L175.33,458.65L175.83,458.52L176.33,458.39L176.84,458.27L177.34,458.15L177.84,458.05L178.34,457.95L178.85,457.86L179.35,457.78L179.85,457.71L180.35,457.66L180.85,457.62L181.36,457.6L181.86,457.6L182.36,457.61L182.86,457.64L183.36,457.69L183.87,457.75L184.37,457.83L184.87,457.92L185.37,458.03L185.87,458.14L186.38,458.27L186.88,458.41L187.38,458.55L187.88,458.7L188.38,458.86L188.89,459.02L189.39,459.18L189.89,459.35L190.39,459.52L190.9,459.7L191.4,459.87L191.9,460.04L192.4,460.21L192.9,460.37L193.41,460.53L193.91,460.69L194.41,460.84L194.91,460.98L195.41,461.11L195.92,461.23L196.42,461.35L196.92,461.45L197.42,461.55L197.92,461.64L198.43,461.73L198.93,461.8L199.43,461.87L199.93,461.93L200.44,461.99L200.94,462.04L201.44,462.08L201.94,462.12L202.44,462.15L202.95,462.17L203.45,462.19L203.95,462.2L204.45,462.21L204.95,462.22L205.46,462.22L205.96,462.21L206.46,462.2L206.96,462.19L207.46,462.17L207.97,462.15L208.47,462.13L208.97,462.1L209.47,462.07L209.97,462.03L210.48,462L210.98,461.96L211.48,461.92L211.98,461.88L212.49,461.84L212.99,461.79L213.49,461.74L213.99,461.7L214.49,461.65L215,461.6L215.5,461.55" fill="none" stroke="#3030f0" stroke-width="1.4" stroke-linejoin="round" stroke-linecap="round" />
<defs><marker id="mk9" markerUnits="userSpaceOnUse" markerWidth="6.4" markerHeight="6.4" refX="3.2" refY="3.2" overflow="visible"><circle cx="3.2" cy="3.2" r="2.2" fill="none" stroke="#2a9a2a" stroke-width="0.45" opacity="0.6"/></marker></defs>
<path d="M25.0 518.0L25.8 518.3L26.5 518.5L27.3 518.4L28.0 518.0L28.8 518.6L29.5 519.2L30.3 518.6L31.0 519.4L31.8 519.1L32.5 518.9L33.3 518.0L34.0 517.4L34.8 517.5L35.5 517.2L36.3 517.1L37.0 516.0L37.8 514.9L38.5 514.7L39.3 514.1L40.0 513.8L40.8 512.8L41.5 512.1L42.3 511.4L43.0 511.5L43.8 510.9L44.5 511.4L45.3 511.2L46.0 511.7L46.8 511.8L47.5 512.5L48.3 512.6L49.0 512.4L49.8 513.4L50.5 514.0L51.3 515.2L52.0 516.6L52.8 517.1L53.5 516.8L54.3 516.4L55.0 516.0L55.8 515.1L56.5 514.7L57.3 514.3L58.0 513.5L58.8 512.0L59.5 509.8L60.3 509.3L61.0 508.2L61.8 507.3L62.5 506.9L63.3 505.9L64.0 507.1L64.8 508.8L65.5 509.8L66.3 511.8L67.0 512.6L67.8 513.5L68.5 513.6L69.3 513.7L70.0 512.7L70.8 510.8L71.5 508.6L72.3 506.1L73.0 503.2L73.8 500.7L74.5 497.9L75.3 495.2L76.0 492.5L76.8 489.0L77.5 486.3L78.3 483.7L79.0 480.4L79.8 477.9L80.5 476.1L81.3 474.8L82.0 473.9L82.8 474.0L83.5 474.0L84.3 474.2L85.0 474.7L85.8 476.0L86.5 476.3L87.3 476.8L88.0 479.1L88.8 480.4L89.5 483.0L90.3 486.3L91.0 488.7L91.8 492.2L92.5 495.6L93.3 499.4L94.0 503.0L94.8 506.2L95.5 509.5L96.3 512.1L97.0 514.5L97.8 517.0L98.5 517.8L99.3 518.0L100.0 517.6L100.8 517.0L101.5 516.8L102.3 516.2L103.0 515.5L103.8 514.4L104.5 513.5L105.3 512.7L106.0 512.5L106.8 512.3L107.5 513.1L108.3 513.7L109.0 514.5L109.8 515.3L110.5 515.1L111.3 516.1L112.0 517.3L112.8 518.4L113.5 519.9L114.3 520.3L115.0 519.2L115.8 518.3L116.5 518.0L117.3 518.2L118.0 518.0L118.8 518.5L119.5 518.3L120.3 518.3L121.0 518.5L121.8 517.9L122.5 517.3L123.3 516.7L124.0 516.7L124.8 517.1L125.5 516.8L126.3 517.5L127.0 517.0L127.8 516.7L128.5 515.6L129.3 514.5L130.0 515.0L130.8 514.9L131.5 515.2L132.3 515.0L133.0 514.8L133.8 514.9L134.5 514.7L135.3 514.7L136.0 514.4L136.8 514.3L137.5 513.7L138.3 513.2L139.0 513.5L139.8 512.9L140.5 513.5L141.3 513.9L142.0 514.3L142.8 514.5L143.5 514.8L144.3 514.9L145.0 514.5L145.8 514.5L146.5 514.7L147.3 514.5L148.0 515.0L148.8 514.7L149.5 514.3L150.3 513.6L151.0 513.7L151.8 514.3L152.5 514.9L153.3 514.9L154.0 514.7L154.8 515.1L155.5 514.6L156.3 514.1L157.0 514.6L157.8 514.6L158.5 514.8L159.3 515.2L160.0 515.7L160.8 515.6L161.5 515.8L162.3 514.7L163.0 514.5L163.8 514.9L164.5 514.2L165.3 514.6L166.0 514.5L166.8 515.0L167.5 515.1L168.3 515.0L169.0 514.9L169.8 515.4L170.5 515.4L171.3 516.3L172.0 516.6L172.8 516.3L173.5 515.7L174.3 515.6L175.0 515.3L175.8 515.7L176.5 515.0L177.3 515.4L178.0 515.4L178.8 516.2L179.5 517.4L180.3 517.0L181.0 515.7L181.8 514.7L182.5 514.1L183.3 515.0L184.0 516.1L184.8 515.7L185.5 515.0L186.3 514.7L187.0 513.8L187.8 514.2L188.5 514.4L189.3 514.5L190.0 514.7L190.8 514.5L191.5 514.6L192.3 514.6L193.0 515.3L193.8 515.7L194.5 515.5L195.3 516.2L196.0 516.8L196.8 516.0L197.5 516.0L198.3 515.6L199.0 516.1L199.8 515.6L200.5 515.5L201.3 515.9L202.0 515.3L202.8 514.9L203.5 514.6L204.3 514.6L205.0 514.2L205.8 515.0L206.5 514.9L207.3 515.6L208.0 514.9L208.8 515.5L209.5 515.2L210.3 515.2L211.0 515.3L211.8 515.0L212.5 514.9L213.3 515.3L214.0 515.9L214.8 516.1" fill="none" stroke="none" marker-start="url(#mk9)" marker-mid="url(#mk9)" marker-end="url(#mk9)"/>
<path d="M24.7,518.08L25.2,518.15L25.71,518.23L26.21,518.29L26.71,518.36L27.21,518.41L27.71,518.45L28.22,518.49L28.72,518.51L29.22,518.52L29.72,518.51L30.23,518.49L30.73,518.44L31.23,518.38L31.73,518.3L32.23,518.19L32.74,518.06L33.24,517.9L33.74,517.72L34.24,517.5L34.74,517.26L35.25,516.98L35.75,516.67L36.25,516.32L36.75,515.94L37.25,515.54L37.76,515.11L38.26,514.67L38.76,514.23L39.26,513.78L39.76,513.34L40.27,512.9L40.77,512.49L41.27,512.1L41.77,511.74L42.28,511.42L42.78,511.14L43.28,510.91L43.78,510.74L44.28,510.63L44.79,510.59L45.29,510.63L45.79,510.74L46.29,510.94L46.79,511.24L47.3,511.62L47.8,512.07L48.3,512.56L48.8,513.1L49.3,513.65L49.81,514.21L50.31,514.76L50.81,515.28L51.31,515.75L51.82,516.17L52.32,516.51L52.82,516.77L53.32,516.92L53.82,516.94L54.33,516.83L54.83,516.57L55.33,516.17L55.83,515.65L56.33,515.03L56.84,514.34L57.34,513.59L57.84,512.8L58.34,512L58.84,511.19L59.35,510.42L59.85,509.68L60.35,509.01L60.85,508.42L61.35,507.94L61.86,507.59L62.36,507.37L62.86,507.33L63.36,507.46L63.87,507.81L64.37,508.34L64.87,509.01L65.37,509.77L65.87,510.58L66.38,511.38L66.88,512.12L67.38,512.77L67.88,513.26L68.38,513.55L68.89,513.59L69.39,513.33L69.89,512.75L70.39,511.88L70.89,510.75L71.4,509.4L71.9,507.87L72.4,506.2L72.9,504.39L73.41,502.48L73.91,500.5L74.41,498.45L74.91,496.37L75.41,494.28L75.92,492.19L76.42,490.14L76.92,488.15L77.42,486.24L77.92,484.43L78.43,482.74L78.93,481.21L79.43,479.84L79.93,478.64L80.43,477.6L80.94,476.72L81.44,475.99L81.94,475.41L82.44,474.96L82.95,474.64L83.45,474.45L83.95,474.38L84.45,474.42L84.95,474.6L85.46,474.92L85.96,475.38L86.46,476L86.96,476.79L87.46,477.76L87.97,478.91L88.47,480.26L88.97,481.79L89.47,483.49L89.97,485.34L90.48,487.32L90.98,489.42L91.48,491.63L91.98,493.92L92.48,496.28L92.99,498.68L93.49,501.07L93.99,503.44L94.49,505.74L95,507.93L95.5,509.99L96,511.87L96.5,513.55L97,514.99L97.51,516.16L98.01,517.01L98.51,517.54L99.01,517.77L99.51,517.75L100.02,517.53L100.52,517.14L101.02,516.64L101.52,516.07L102.02,515.47L102.53,514.89L103.03,514.35L103.53,513.86L104.03,513.46L104.54,513.17L105.04,512.99L105.54,512.96L106.04,513.04L106.54,513.24L107.05,513.52L107.55,513.87L108.05,514.28L108.55,514.71L109.05,515.17L109.56,515.62L110.06,516.05L110.56,516.44L111.06,516.81L111.56,517.13L112.07,517.43L112.57,517.69L113.07,517.92L113.57,518.12L114.07,518.3L114.58,518.44L115.08,518.56L115.58,518.66L116.08,518.73L116.59,518.78L117.09,518.8L117.59,518.81L118.09,518.8L118.59,518.76L119.1,518.71L119.6,518.65L120.1,518.56L120.6,518.47L121.1,518.36L121.61,518.24L122.11,518.11L122.61,517.97L123.11,517.82L123.61,517.66L124.12,517.5L124.62,517.33L125.12,517.16L125.62,516.98L126.13,516.81L126.63,516.63L127.13,516.45L127.63,516.28L128.13,516.1L128.64,515.93L129.14,515.77L129.64,515.61L130.14,515.46L130.64,515.31L131.15,515.18L131.65,515.05L132.15,514.93L132.65,514.81L133.15,514.71L133.66,514.61L134.16,514.51L134.66,514.43L135.16,514.35L135.66,514.27L136.17,514.2L136.67,514.14L137.17,514.09L137.67,514.04L138.18,513.99L138.68,513.95L139.18,513.91L139.68,513.89L140.18,513.86L140.69,513.84L141.19,513.82L141.69,513.81L142.19,513.81L142.69,513.8L143.2,513.8L143.7,513.81L144.2,513.82L144.7,513.83L145.2,513.84L145.71,513.86L146.21,513.88L146.71,513.9L147.21,513.93L147.72,513.96L148.22,513.99L148.72,514.02L149.22,514.06L149.72,514.1L150.23,514.13L150.73,514.17L151.23,514.22L151.73,514.26L152.23,514.3L152.74,514.35L153.24,514.39L153.74,514.44L154.24,514.49L154.74,514.53L155.25,514.58L155.75,514.63L156.25,514.67L156.75,514.72L157.25,514.77L157.76,514.81L158.26,514.85L158.76,514.9L159.26,514.94L159.77,514.98L160.27,515.02L160.77,515.06L161.27,515.1L161.77,515.13L162.28,515.16L162.78,515.2L163.28,515.23L163.78,515.26L164.28,515.28L164.79,515.31L165.29,515.34L165.79,515.36L166.29,515.38L166.79,515.41L167.3,515.43L167.8,515.45L168.3,515.46L168.8,515.48L169.31,515.5L169.81,515.51L170.31,515.53L170.81,515.54L171.31,515.55L171.82,515.56L172.32,515.57L172.82,515.58L173.32,515.59L173.82,515.59L174.33,515.6L174.83,515.61L175.33,515.61L175.83,515.61L176.33,515.62L176.84,515.62L177.34,515.62L177.84,515.62L178.34,515.62L178.85,515.62L179.35,515.62L179.85,515.62L180.35,515.62L180.85,515.62L181.36,515.61L181.86,515.61L182.36,515.6L182.86,515.6L183.36,515.59L183.87,515.59L184.37,515.58L184.87,515.58L185.37,515.57L185.87,515.56L186.38,515.56L186.88,515.55L187.38,515.54L187.88,515.53L188.38,515.53L188.89,515.52L189.39,515.51L189.89,515.5L190.39,515.49L190.9,515.48L191.4,515.48L191.9,515.47L192.4,515.46L192.9,515.45L193.41,515.44L193.91,515.43L194.41,515.42L194.91,515.41L195.41,515.41L195.92,515.4L196.42,515.39L196.92,515.38L197.42,515.37L197.92,515.36L198.43,515.35L198.93,515.34L199.43,515.33L199.93,515.32L200.44,515.31L200.94,515.3L201.44,515.29L201.94,515.28L202.44,515.27L202.95,515.26L203.45,515.25L203.95,515.24L204.45,515.23L204.95,515.22L205.46,515.21L205.96,515.2L206.46,515.19L206.96,515.18L207.46,515.17L207.97,515.16L208.47,515.15L208.97,515.14L209.47,515.13L209.97,515.12L210.48,515.11L210.98,515.1L211.48,515.09L211.98,515.08L212.49,515.07L212.99,515.06L213.49,515.05L213.99,515.04L214.49,515.03L215,515.02L215.5,515.01" fill="none" stroke="#2a9a2a" stroke-width="1.4" stroke-linejoin="round" stroke-linecap="round" />
<path d="M25.0 567.3L25.8 567.2L26.5 566.4L27.3 566.6L28.0 567.2L28.8 567.3L29.5 567.5L30.3 567.8L31.0 566.8L31.8 566.7L32.5 567.1L33.3 566.7L34.0 566.9L34.8 566.3L35.5 565.8L36.3 564.1L37.0 564.0L37.8 564.2L38.5 564.5L39.3 564.2L40.0 563.6L40.8 563.2L41.5 562.6L42.3 561.7L43.0 561.5L43.8 562.0L44.5 562.2L45.3 562.2L46.0 562.4L46.8 562.0L47.5 562.7L48.3 563.4L49.0 563.8L49.8 564.3L50.5 565.4L51.3 565.5L52.0 566.5L52.8 567.0L53.5 567.6L54.3 567.6L55.0 567.1L55.8 566.4L56.5 565.0L57.3 564.5L58.0 563.7L58.8 562.9L59.5 561.6L60.3 561.2L61.0 560.5L61.8 560.2L62.5 560.2L63.3 559.7L64.0 560.7L64.8 561.7L65.5 561.9L66.3 562.7L67.0 562.7L67.8 562.8L68.5 563.4L69.3 563.4L70.0 563.5L70.8 562.7L71.5 560.7L72.3 557.9L73.0 555.4L73.8 552.1L74.5 549.1L75.3 545.4L76.0 541.7L76.8 539.5L77.5 536.8L78.3 533.8L79.0 531.3L79.8 529.3L80.5 527.3L81.3 526.1L82.0 525.1L82.8 524.0L83.5 524.5L84.3 524.7L85.0 524.8L85.8 525.7L86.5 526.8L87.3 528.7L88.0 530.0L88.8 532.1L89.5 534.5L90.3 538.0L91.0 540.8L91.8 544.2L92.5 547.1L93.3 550.6L94.0 553.8L94.8 557.4L95.5 560.9L96.3 563.2L97.0 564.9L97.8 565.6L98.5 566.7L99.3 567.3L100.0 567.4L100.8 566.5L101.5 566.8L102.3 566.3L103.0 565.6L103.8 565.2L104.5 564.1L105.3 564.1L106.0 563.8L106.8 564.1L107.5 565.7L108.3 566.2L109.0 566.4L109.8 566.4L110.5 566.4L111.3 567.1L112.0 567.9L112.8 568.3L113.5 568.6L114.3 568.8L115.0 568.3L115.8 568.7L116.5 569.0L117.3 569.2L118.0 569.4L118.8 569.8L119.5 569.0L120.3 567.6L121.0 567.9L121.8 567.5L122.5 567.7L123.3 568.0L124.0 568.5L124.8 568.4L125.5 568.0L126.3 568.0L127.0 567.7L127.8 568.0L128.5 567.9L129.3 567.6L130.0 566.9L130.8 565.9L131.5 565.7L132.3 566.7L133.0 566.2L133.8 566.0L134.5 565.5L135.3 564.9L136.0 564.4L136.8 563.7L137.5 563.6L138.3 564.6L139.0 565.0L139.8 565.3L140.5 565.4L141.3 565.4L142.0 564.7L142.8 565.5L143.5 565.1L144.3 565.0L145.0 565.2L145.8 564.8L146.5 565.2L147.3 565.4L148.0 565.6L148.8 566.2L149.5 565.3L150.3 565.2L151.0 565.5L151.8 565.0L152.5 566.3L153.3 566.3L154.0 566.4L154.8 566.0L155.5 565.7L156.3 565.1L157.0 564.8L157.8 564.7L158.5 564.5L159.3 564.7L160.0 565.1L160.8 565.8L161.5 565.6L162.3 565.2L163.0 565.8L163.8 566.4L164.5 566.0L165.3 565.6L166.0 565.7L166.8 565.5L167.5 565.8L168.3 566.2L169.0 565.8L169.8 565.6L170.5 565.3L171.3 564.9L172.0 565.4L172.8 565.8L173.5 565.9L174.3 566.4L175.0 566.1L175.8 566.2L176.5 566.0L177.3 566.2L178.0 566.5L178.8 566.9L179.5 566.6L180.3 566.4L181.0 566.6L181.8 566.3L182.5 566.4L183.3 566.0L184.0 565.3L184.8 565.2L185.5 565.5L186.3 565.6L187.0 566.2L187.8 566.4L188.5 566.9L189.3 566.3L190.0 565.7L190.8 565.2L191.5 564.6L192.3 565.2L193.0 564.5L193.8 564.6L194.5 564.5L195.3 565.1L196.0 565.2L196.8 565.7L197.5 566.0L198.3 566.3L199.0 566.3L199.8 566.5L200.5 566.8L201.3 566.9L202.0 566.2L202.8 566.3L203.5 565.9L204.3 565.6L205.0 566.2L205.8 565.0L206.5 565.1L207.3 564.5L208.0 564.9L208.8 564.9L209.5 564.6L210.3 565.1L211.0 564.3L211.8 565.0L212.5 564.9L213.3 564.6L214.0 565.1L214.8 565.1" fill="none" stroke="none" marker-start="url(#mk5)" marker-mid="url(#mk5)" marker-end="url(#mk5)"/>
<path d="M24.7,567.34L25.2,567.38L25.71,567.42L26.21,567.46L26.71,567.49L27.21,567.51L27.71,567.53L28.22,567.55L28.72,567.55L29.22,567.54L29.72,567.53L30.23,567.5L30.73,567.46L31.23,567.4L31.73,567.34L32.23,567.25L32.74,567.15L33.24,567.03L33.74,566.89L34.24,566.73L34.74,566.55L35.25,566.35L35.75,566.12L36.25,565.87L36.75,565.6L37.25,565.31L37.76,565L38.26,564.69L38.76,564.37L39.26,564.05L39.76,563.74L40.27,563.43L40.77,563.13L41.27,562.86L41.77,562.6L42.28,562.37L42.78,562.17L43.28,562.01L43.78,561.88L44.28,561.8L44.79,561.76L45.29,561.78L45.79,561.86L46.29,561.99L46.79,562.2L47.3,562.47L47.8,562.81L48.3,563.23L48.8,563.69L49.3,564.18L49.81,564.7L50.31,565.21L50.81,565.71L51.31,566.17L51.82,566.58L52.32,566.93L52.82,567.19L53.32,567.36L53.82,567.41L54.33,567.32L54.83,567.1L55.33,566.73L55.83,566.26L56.33,565.69L56.84,565.05L57.34,564.36L57.84,563.64L58.34,562.91L58.84,562.19L59.35,561.5L59.85,560.87L60.35,560.3L60.85,559.83L61.35,559.48L61.86,559.26L62.36,559.2L62.86,559.3L63.36,559.56L63.87,559.94L64.37,560.42L64.87,560.95L65.37,561.52L65.87,562.09L66.38,562.64L66.88,563.13L67.38,563.54L67.88,563.84L68.38,563.99L68.89,563.97L69.39,563.74L69.89,563.3L70.39,562.62L70.89,561.7L71.4,560.54L71.9,559.13L72.4,557.5L72.9,555.68L73.41,553.72L73.91,551.66L74.41,549.53L74.91,547.38L75.41,545.24L75.92,543.15L76.42,541.1L76.92,539.13L77.42,537.24L77.92,535.44L78.43,533.76L78.93,532.21L79.43,530.8L79.93,529.54L80.43,528.42L80.94,527.46L81.44,526.64L81.94,525.97L82.44,525.44L82.95,525.07L83.45,524.85L83.95,524.78L84.45,524.87L84.95,525.11L85.46,525.5L85.96,526.06L86.46,526.77L86.96,527.65L87.46,528.7L87.97,529.91L88.47,531.29L88.97,532.83L89.47,534.53L89.97,536.36L90.48,538.33L90.98,540.42L91.48,542.62L91.98,544.92L92.48,547.31L92.99,549.75L93.49,552.18L93.99,554.57L94.49,556.87L95,559.02L95.5,560.99L96,562.73L96.5,564.23L97,565.51L97.51,566.56L98.01,567.39L98.51,568.01L99.01,568.41L99.51,568.6L100.02,568.62L100.52,568.48L101.02,568.21L101.52,567.85L102.02,567.42L102.53,566.95L103.03,566.47L103.53,566L104.03,565.57L104.54,565.18L105.04,564.86L105.54,564.63L106.04,564.49L106.54,564.47L107.05,564.55L107.55,564.72L108.05,564.95L108.55,565.25L109.05,565.58L109.56,565.95L110.06,566.32L110.56,566.69L111.06,567.04L111.56,567.36L112.07,567.66L112.57,567.92L113.07,568.16L113.57,568.36L114.07,568.55L114.58,568.7L115.08,568.83L115.58,568.94L116.08,569.03L116.59,569.09L117.09,569.14L117.59,569.17L118.09,569.17L118.59,569.16L119.1,569.14L119.6,569.1L120.1,569.04L120.6,568.97L121.1,568.89L121.61,568.8L122.11,568.7L122.61,568.58L123.11,568.46L123.61,568.34L124.12,568.2L124.62,568.06L125.12,567.92L125.62,567.77L126.13,567.62L126.63,567.47L127.13,567.32L127.63,567.17L128.13,567.02L128.64,566.88L129.14,566.73L129.64,566.6L130.14,566.46L130.64,566.34L131.15,566.22L131.65,566.1L132.15,566L132.65,565.89L133.15,565.8L133.66,565.71L134.16,565.62L134.66,565.54L135.16,565.46L135.66,565.39L136.17,565.33L136.67,565.27L137.17,565.21L137.67,565.16L138.18,565.12L138.68,565.07L139.18,565.03L139.68,565L140.18,564.97L140.69,564.94L141.19,564.92L141.69,564.9L142.19,564.88L142.69,564.87L143.2,564.86L143.7,564.86L144.2,564.85L144.7,564.85L145.2,564.85L145.71,564.86L146.21,564.86L146.71,564.87L147.21,564.88L147.72,564.9L148.22,564.91L148.72,564.93L149.22,564.95L149.72,564.97L150.23,564.99L150.73,565.01L151.23,565.03L151.73,565.06L152.23,565.08L152.74,565.11L153.24,565.14L153.74,565.16L154.24,565.19L154.74,565.22L155.25,565.25L155.75,565.28L156.25,565.31L156.75,565.33L157.25,565.36L157.76,565.39L158.26,565.41L158.76,565.44L159.26,565.47L159.77,565.49L160.27,565.51L160.77,565.53L161.27,565.55L161.77,565.57L162.28,565.59L162.78,565.61L163.28,565.63L163.78,565.64L164.28,565.65L164.79,565.67L165.29,565.68L165.79,565.69L166.29,565.7L166.79,565.71L167.3,565.72L167.8,565.73L168.3,565.73L168.8,565.74L169.31,565.74L169.81,565.75L170.31,565.75L170.81,565.75L171.31,565.76L171.82,565.76L172.32,565.76L172.82,565.76L173.32,565.76L173.82,565.76L174.33,565.75L174.83,565.75L175.33,565.75L175.83,565.74L176.33,565.74L176.84,565.74L177.34,565.73L177.84,565.72L178.34,565.72L178.85,565.71L179.35,565.7L179.85,565.7L180.35,565.69L180.85,565.68L181.36,565.67L181.86,565.66L182.36,565.66L182.86,565.65L183.36,565.64L183.87,565.63L184.37,565.62L184.87,565.61L185.37,565.6L185.87,565.59L186.38,565.58L186.88,565.57L187.38,565.56L187.88,565.54L188.38,565.53L188.89,565.52L189.39,565.51L189.89,565.5L190.39,565.49L190.9,565.48L191.4,565.47L191.9,565.46L192.4,565.45L192.9,565.44L193.41,565.43L193.91,565.42L194.41,565.41L194.91,565.4L195.41,565.39L195.92,565.38L196.42,565.37L196.92,565.36L197.42,565.35L197.92,565.34L198.43,565.33L198.93,565.32L199.43,565.31L199.93,565.3L200.44,565.29L200.94,565.28L201.44,565.27L201.94,565.26L202.44,565.25L202.95,565.24L203.45,565.23L203.95,565.22L204.45,565.21L204.95,565.2L205.46,565.19L205.96,565.19L206.46,565.18L206.96,565.17L207.46,565.16L207.97,565.15L208.47,565.14L208.97,565.13L209.47,565.12L209.97,565.11L210.48,565.1L210.98,565.09L211.48,565.08L211.98,565.07L212.49,565.06L212.99,565.06L213.49,565.05L213.99,565.04L214.49,565.03L215,565.02L215.5,565.01" fill="none" stroke="#ff2a2a" stroke-width="1.4" stroke-linejoin="round" stroke-linecap="round" />
<line x1="96.5" y1="428" x2="96.5" y2="455" stroke="#3030f0" stroke-width="1.0" stroke-dasharray="2,1.5"/>
<line x1="83.6" y1="470" x2="83.6" y2="490" stroke="#2a9a2a" stroke-width="1.0" stroke-dasharray="1.5,1.5"/>
<line x1="83.6" y1="521" x2="83.6" y2="540" stroke="#ff2a2a" stroke-width="1.0" stroke-dasharray="1.5,1.5"/>
<line x1="82" y1="527.5" x2="67.5" y2="529.5" stroke="#ff2a2a" stroke-width="1.1" />
<path d="M67.5,529.5L70.66,530.43L70.29,527.75Z" fill="#ff2a2a"/>
<text x="31.1" y="427.8" font-family="'Liberation Serif', serif" font-size="10.5" font-weight="bold" fill="#000" text-anchor="start" >Zn R-space</text>
<text x="105.3" y="427.8" font-family="'Liberation Serif', serif" font-size="10.5" font-weight="bold" fill="#000" text-anchor="middle" >Zn-Zn</text>
<text x="97.4" y="470.7" font-family="'Liberation Serif', serif" font-size="10.5" font-weight="bold" fill="#000" text-anchor="middle" >Zn-S</text>
<text x="44.8" y="533.8" font-family="'Liberation Serif', serif" font-size="10.5" font-weight="bold" fill="#000" text-anchor="start" >Zn-S</text>
<circle cx="167.4" cy="429" r="2.4" fill="none" stroke="#3030f0" stroke-width="0.7"/>
<text x="180.6" y="432.8" font-family="'Liberation Serif', serif" font-size="10.5" font-weight="bold" fill="#000" text-anchor="start" >Zn foil</text>
<line x1="158.7" y1="442.4" x2="177.7" y2="442.4" stroke="#3030f0" stroke-width="1.4" />
<text x="181.5" y="446.2" font-family="'Liberation Serif', serif" font-size="10.5" font-weight="bold" fill="#000" text-anchor="start" >Fitting</text>
<circle cx="155.8" cy="487.7" r="2.4" fill="none" stroke="#2a9a2a" stroke-width="0.7"/>
<text x="171.8" y="491.5" font-family="'Liberation Serif', serif" font-size="10.5" font-weight="bold" fill="#000" text-anchor="start" >Zn<tspan dy="2.94" font-size="7.56">3</tspan><tspan dy="-2.94">In</tspan><tspan dy="2.94" font-size="7.56">4</tspan><tspan dy="-2.94">S</tspan><tspan dy="2.94" font-size="7.56">9</tspan><tspan dy="-2.94"></tspan></text>
<line x1="147" y1="506.1" x2="167.4" y2="506.1" stroke="#2a9a2a" stroke-width="1.4" />
<text x="171.8" y="509.9" font-family="'Liberation Serif', serif" font-size="10.5" font-weight="bold" fill="#000" text-anchor="start" >Fitting</text>
<circle cx="109" cy="534.5" r="2.4" fill="none" stroke="#ff2a2a" stroke-width="0.7"/>
<text x="123.6" y="538.3" font-family="'Liberation Serif', serif" font-size="10.5" font-weight="bold" fill="#000" text-anchor="start" >6%-MoS<tspan dy="2.94" font-size="7.56">2</tspan><tspan dy="-2.94">/Zn</tspan><tspan dy="2.94" font-size="7.56">3</tspan><tspan dy="-2.94">In</tspan><tspan dy="2.94" font-size="7.56">4</tspan><tspan dy="-2.94">S</tspan><tspan dy="2.94" font-size="7.56">9</tspan><tspan dy="-2.94"></tspan></text>
<line x1="98.8" y1="552" x2="120.7" y2="552" stroke="#ff2a2a" stroke-width="1.4" />
<text x="123.6" y="555.8" font-family="'Liberation Serif', serif" font-size="10.5" font-weight="bold" fill="#000" text-anchor="start" >Fitting</text>
<rect x="24.2" y="413.7" width="191.8" height="159.9" fill="none" stroke="#000" stroke-width="1.4" />
<text x="228.5" y="418.5" font-family="'Liberation Serif', serif" font-size="16" font-weight="bold" fill="#000" text-anchor="start" >h</text>
<line x1="253.67" y1="469.58" x2="345.65" y2="448.36" stroke="#e6e6e6" stroke-width="0.6" />
<line x1="345.65" y1="448.36" x2="448.99" y2="465.91" stroke="#e6e6e6" stroke-width="0.6" />
<line x1="255.44" y1="509.36" x2="345.8" y2="482.92" stroke="#e6e6e6" stroke-width="0.6" />
<line x1="345.8" y1="482.92" x2="447.28" y2="504.82" stroke="#e6e6e6" stroke-width="0.6" />
<line x1="257.21" y1="549.14" x2="345.95" y2="517.48" stroke="#e6e6e6" stroke-width="0.6" />
<line x1="345.95" y1="517.48" x2="445.57" y2="543.73" stroke="#e6e6e6" stroke-width="0.6" />
<line x1="294.02" y1="422.6" x2="297.49" y2="547.37" stroke="#e6e6e6" stroke-width="0.6" />
<line x1="392.84" y1="419.74" x2="390.55" y2="541.47" stroke="#e6e6e6" stroke-width="0.6" />
<line x1="322.1" y1="417.8" x2="323.95" y2="537.35" stroke="#e6e6e6" stroke-width="0.6" />
<line x1="424.4" y1="423.7" x2="420.25" y2="549.78" stroke="#e6e6e6" stroke-width="0.6" />
<defs><clipPath id="hfl"><path d="M257.8,562.4L346,529L445,556.7L362.4,600.5Z"/></clipPath><filter id="bl3" x="-50%" y="-50%" width="200%" height="200%"><feGaussianBlur stdDeviation="3"/></filter><filter id="bl2" x="-50%" y="-50%" width="200%" height="200%"><feGaussianBlur stdDeviation="1.6"/></filter></defs>
<path d="M257.8,562.4L346,529L445,556.7L362.4,600.5Z" fill="#7373f7" />
<g clip-path="url(#hfl)">
<g transform="rotate(20.01 350 556)">
<ellipse cx="350" cy="556" rx="52" ry="8" fill="#ffffff" filter="url(#bl3)" opacity="0.85"/>
<ellipse cx="385" cy="547" rx="18" ry="5" fill="#ffffff" filter="url(#bl3)" opacity="0.8"/>
<ellipse cx="300" cy="562" rx="30" ry="2" fill="#ffffff" filter="url(#bl2)" opacity="0.45"/>
<ellipse cx="354" cy="556" rx="17" ry="3.8" fill="#ff7878" filter="url(#bl2)" opacity="0.9"/>
<ellipse cx="368" cy="551" rx="9" ry="3.2" fill="#ff8080" filter="url(#bl2)" opacity="0.8"/>
<ellipse cx="330" cy="570" rx="45" ry="1.6" fill="#ffffff" filter="url(#bl2)" opacity="0.35"/>
</g></g>
<line x1="283.95" y1="571.92" x2="370.75" y2="535.92" stroke="#ffffff" stroke-width="0.6" opacity="0.35"/>
<line x1="310.1" y1="581.45" x2="395.5" y2="542.85" stroke="#ffffff" stroke-width="0.6" opacity="0.35"/>
<line x1="336.25" y1="590.98" x2="420.25" y2="549.78" stroke="#ffffff" stroke-width="0.6" opacity="0.35"/>
<line x1="293.08" y1="549.04" x2="395.44" y2="582.98" stroke="#ffffff" stroke-width="0.6" opacity="0.35"/>
<line x1="328.36" y1="535.68" x2="428.48" y2="565.46" stroke="#ffffff" stroke-width="0.6" opacity="0.35"/>
<line x1="257.8" y1="562.4" x2="362.4" y2="600.5" stroke="#111" stroke-width="1.1" />
<line x1="362.4" y1="600.5" x2="445" y2="556.7" stroke="#111" stroke-width="1.1" />
<line x1="251.9" y1="429.8" x2="257.8" y2="562.4" stroke="#111" stroke-width="1.1" />
<line x1="450.7" y1="427" x2="445" y2="556.7" stroke="#111" stroke-width="1.1" />
<line x1="251.9" y1="429.8" x2="345.5" y2="413.8" stroke="#111" stroke-width="1.1" />
<line x1="345.5" y1="413.8" x2="450.7" y2="427" stroke="#111" stroke-width="1.1" />
<defs><linearGradient id="vg1" gradientUnits="userSpaceOnUse" x1="0" y1="440" x2="0" y2="552"><stop offset="0" stop-color="#7474f6"/><stop offset="0.12" stop-color="#8686f7"/><stop offset="0.3" stop-color="#b2b2fa"/><stop offset="0.45" stop-color="#f2f2fe"/><stop offset="0.5" stop-color="#fffcfc"/><stop offset="0.58" stop-color="#fde4e4"/><stop offset="0.85" stop-color="#fba0a0"/><stop offset="1" stop-color="#f87a7a"/></linearGradient></defs>
<path d="M292.1,441.3C292.97,444.75 295,455.12 297.3,462C299.6,468.88 302.73,475.72 305.9,482.6C309.07,489.48 312.85,496.98 316.3,503.3C319.75,509.62 323.98,516.38 326.6,520.5C329.22,524.62 330.52,526.45 332,528C333.48,529.55 334.17,529.88 335.5,529.8C336.83,529.72 338.6,528.63 340,527.5C341.4,526.37 342.57,521.58 343.9,523C345.23,524.42 346.57,532.08 348,536C349.43,539.92 350.9,543.92 352.5,546.5C354.1,549.08 355.9,551.58 357.6,551.5C359.3,551.42 361.22,548.25 362.7,546C364.18,543.75 365.23,540.58 366.5,538C367.77,535.42 369.08,534.3 370.3,530.5C371.52,526.7 373.02,520.58 373.8,515.2C374.58,509.82 374.22,503.17 375,498.2C375.78,493.23 376.67,489.67 378.5,485.4C380.33,481.13 383.08,476.5 386,472.6C388.92,468.7 392.83,465.55 396,462C399.17,458.45 402.33,454.5 405,451.3C407.67,448.1 410.72,445.62 412,442.8C413.28,439.98 412.58,435.8 412.7,434.4L405,433L398.9,438L383.7,447L378,455L366.6,456L362.8,446L330,438L300,433Z" fill="url(#vg1)"/>
<path d="M292.6,439C296.43,437.25 308.3,442.72 320,444.5C331.7,446.28 355.13,447.28 362.8,449.7C370.47,452.12 368.13,455.95 366,459C363.87,462.05 355.6,465.83 350,468C344.4,470.17 338.73,472.33 332.4,472C326.07,471.67 317.9,468.83 312,466C306.1,463.17 300.23,459.5 297,455C293.77,450.5 288.77,440.75 292.6,439Z" fill="#7070f4" opacity="0.55"/>
<path d="M362.8,449.7L378,443L398.9,434L420,430.5L450.7,427.4L450.7,428.5L425,434L412.1,442.8L403.6,446L398.9,440.2L383.7,449.7L378,458.2L366.6,459.2Z" fill="#8282f6"/>
<path d="M251.9,431L294,437.5L294.5,447.3L254.5,437.7Z" fill="#7c7cf6"/>
<path d="M251.9,431L292.6,438L362.8,449.7L378,443L398.9,434L420,430.5L450.7,427.2L405,431L401.3,422.5L398,431L385,437L379.4,419.9L376,430L372.4,428.7L364.5,424.3L354,415.9L345.5,413.8L301,421.7L293.1,429.8L288.7,435.9L280.8,434.2L271.2,428.9L268.5,433.3Z" fill="#7373f7"/>
<path d="M300,432 L318,424 L330,437 Z" fill="#8686f7" opacity="0.6"/>
<path d="M345,440 L352,423 L358,443 Z" fill="#8686f7" opacity="0.5"/>
<path d="M372,441 L379.4,421 L383,440 Z" fill="#8a8af7" opacity="0.6"/>
<text x="248.8" y="435.2" font-family="'Liberation Serif', serif" font-size="11.5" font-weight="bold" fill="#000" text-anchor="end" >0</text>
<text x="250.2" y="475.7" font-family="'Liberation Serif', serif" font-size="11.5" font-weight="bold" fill="#000" text-anchor="end" >2</text>
<text x="251.8" y="513.9" font-family="'Liberation Serif', serif" font-size="11.5" font-weight="bold" fill="#000" text-anchor="end" >4</text>
<text x="254.4" y="550.8" font-family="'Liberation Serif', serif" font-size="11.5" font-weight="bold" fill="#000" text-anchor="end" >6</text>
<text x="241.5" y="502" font-family="'Liberation Serif', serif" font-size="11.5" font-weight="bold" fill="#000" text-anchor="middle" transform="rotate(-90 241.5 502)" >WT-magnitude</text>
<text x="360" y="502" font-family="'Liberation Serif', serif" font-size="10.5" font-weight="bold" fill="#000" text-anchor="start" transform="rotate(8.7 360 502)" >6%-MoS<tspan dy="2.94" font-size="7.56">2</tspan><tspan dy="-2.94">/Zn</tspan><tspan dy="2.94" font-size="7.56">3</tspan><tspan dy="-2.94">In</tspan><tspan dy="2.94" font-size="7.56">4</tspan><tspan dy="-2.94">S</tspan><tspan dy="2.94" font-size="7.56">9</tspan><tspan dy="-2.94"></tspan></text>
<text x="356.1" y="558" font-family="'Liberation Serif', serif" font-size="11" font-weight="bold" fill="#000" text-anchor="middle" transform="rotate(24 356.1 558)" >Mo-Mo</text>
<text x="336.1" y="565" font-family="'Liberation Serif', serif" font-size="11" font-weight="bold" fill="#000" text-anchor="middle" transform="rotate(24 336.1 565)" >Mo-S</text>
<text x="253.5" y="566.5" font-family="'Liberation Serif', serif" font-size="9.5" font-weight="bold" fill="#000" text-anchor="middle" transform="rotate(-45 253.5 566.5)" >0</text>
<text x="274.5" y="576" font-family="'Liberation Serif', serif" font-size="9.5" font-weight="bold" fill="#000" text-anchor="middle" transform="rotate(-45 274.5 576)" >5</text>
<text x="297.5" y="586" font-family="'Liberation Serif', serif" font-size="9.5" font-weight="bold" fill="#000" text-anchor="middle" transform="rotate(-45 297.5 586)" >10</text>
<text x="326" y="595.5" font-family="'Liberation Serif', serif" font-size="9.5" font-weight="bold" fill="#000" text-anchor="middle" transform="rotate(-45 326 595.5)" >15</text>
<text x="355" y="606.5" font-family="'Liberation Serif', serif" font-size="9.5" font-weight="bold" fill="#000" text-anchor="middle" transform="rotate(-45 355 606.5)" >20</text>
<text x="277.5" y="597.5" font-family="'Liberation Serif', serif" font-size="12" font-weight="bold" fill="#000" text-anchor="middle" transform="rotate(35 277.5 597.5)" >k (Å<tspan dy="-3.5" font-size="8">-1</tspan><tspan dy="3.5">)</tspan></text>
<text x="369.5" y="606.5" font-family="'Liberation Serif', serif" font-size="9.5" font-weight="bold" fill="#000" text-anchor="middle" transform="rotate(-45 369.5 606.5)" >0</text>
<text x="404.5" y="587" font-family="'Liberation Serif', serif" font-size="9.5" font-weight="bold" fill="#000" text-anchor="middle" transform="rotate(-45 404.5 587)" >2</text>
<text x="437" y="569.5" font-family="'Liberation Serif', serif" font-size="9.5" font-weight="bold" fill="#000" text-anchor="middle" transform="rotate(-45 437 569.5)" >4</text>
<text x="432.5" y="590" font-family="'Liberation Serif', serif" font-size="12" font-weight="bold" fill="#000" text-anchor="middle" transform="rotate(-40 432.5 590)" >R+α (Å)</text>
<text x="469.5" y="419" font-family="'Liberation Serif', serif" font-size="16" font-weight="bold" fill="#000" text-anchor="start" >i</text>
<line x1="481.16" y1="459.62" x2="574.35" y2="440.52" stroke="#e6e6e6" stroke-width="0.6" />
<line x1="574.35" y1="440.52" x2="677.14" y2="456.55" stroke="#e6e6e6" stroke-width="0.6" />
<line x1="482.78" y1="494.52" x2="575.23" y2="470.68" stroke="#e6e6e6" stroke-width="0.6" />
<line x1="575.23" y1="470.68" x2="675.29" y2="490.77" stroke="#e6e6e6" stroke-width="0.6" />
<line x1="484.39" y1="529.41" x2="576.12" y2="500.84" stroke="#e6e6e6" stroke-width="0.6" />
<line x1="576.12" y1="500.84" x2="673.45" y2="524.98" stroke="#e6e6e6" stroke-width="0.6" />
<line x1="522.01" y1="423.31" x2="526.95" y2="549.31" stroke="#e6e6e6" stroke-width="0.6" />
<line x1="620.89" y1="420.67" x2="619.57" y2="543.69" stroke="#e6e6e6" stroke-width="0.6" />
<line x1="550.15" y1="418.77" x2="554.25" y2="539.33" stroke="#e6e6e6" stroke-width="0.6" />
<line x1="652.43" y1="424.45" x2="647.95" y2="552.15" stroke="#e6e6e6" stroke-width="0.6" />
<defs><clipPath id="ifl"><path d="M486,564.3L577,531L671.6,559.2L591.5,602Z"/></clipPath></defs>
<path d="M486,564.3L577,531L671.6,559.2L591.5,602Z" fill="#7373f7" />
<g clip-path="url(#ifl)">
<g transform="rotate(19.66 557 566)">
<ellipse cx="557" cy="566" rx="44" ry="6.5" fill="#ffffff" filter="url(#bl3)" opacity="0.95"/>
<ellipse cx="557" cy="566" rx="28" ry="3.3" fill="#ff6e6e" filter="url(#bl2)" opacity="0.9"/>
<ellipse cx="515" cy="568" rx="35" ry="1.3" fill="#ffffff" filter="url(#bl2)" opacity="0.45"/>
<ellipse cx="530" cy="574" rx="40" ry="1.2" fill="#ffffff" filter="url(#bl2)" opacity="0.35"/>
</g></g>
<line x1="521.17" y1="576.87" x2="608.53" y2="540.4" stroke="#ffffff" stroke-width="0.6" opacity="0.35"/>
<line x1="556.33" y1="589.43" x2="640.07" y2="549.8" stroke="#ffffff" stroke-width="0.6" opacity="0.35"/>
<line x1="516.33" y1="553.2" x2="618.2" y2="587.73" stroke="#ffffff" stroke-width="0.6" opacity="0.35"/>
<line x1="546.67" y1="542.1" x2="644.9" y2="573.47" stroke="#ffffff" stroke-width="0.6" opacity="0.35"/>
<line x1="486" y1="564.3" x2="591.5" y2="602" stroke="#111" stroke-width="1.1" />
<line x1="591.5" y1="602" x2="671.6" y2="559.2" stroke="#111" stroke-width="1.1" />
<line x1="479.8" y1="430.1" x2="486" y2="564.3" stroke="#111" stroke-width="1.1" />
<line x1="678.7" y1="427.6" x2="671.6" y2="559.2" stroke="#111" stroke-width="1.1" />
<line x1="479.8" y1="430.1" x2="573.6" y2="415" stroke="#111" stroke-width="1.1" />
<line x1="573.6" y1="415" x2="678.7" y2="427.6" stroke="#111" stroke-width="1.1" />
<defs><linearGradient id="vg2" gradientUnits="userSpaceOnUse" x1="0" y1="432" x2="0" y2="558"><stop offset="0" stop-color="#7474f6"/><stop offset="0.14" stop-color="#8888f7"/><stop offset="0.32" stop-color="#b4b4fa"/><stop offset="0.47" stop-color="#f2f2fe"/><stop offset="0.52" stop-color="#fffcfc"/><stop offset="0.6" stop-color="#fde2e2"/><stop offset="0.85" stop-color="#fb9a9a"/><stop offset="1" stop-color="#f87474"/></linearGradient></defs>
<path d="M489.4,432.7C491.13,434.13 496.35,436.92 499.8,441.3C503.25,445.68 506.95,454.3 510.1,459C513.25,463.7 516.45,466.12 518.7,469.5C520.95,472.88 521.8,474.38 523.6,479.3C525.4,484.22 527.37,492.43 529.5,499C531.63,505.57 533.93,512.8 536.4,518.7C538.87,524.6 541.83,529.48 544.3,534.4C546.77,539.32 549.33,544.68 551.2,548.2C553.07,551.72 554.28,553.78 555.5,555.5C556.72,557.22 557.5,558.42 558.5,558.5C559.5,558.58 559.77,558.37 561.5,556C563.23,553.63 566.37,548.88 568.9,544.3C571.43,539.72 574.08,533.42 576.7,528.5C579.32,523.58 581.97,519.72 584.6,514.8C587.23,509.88 589.55,504.92 592.5,499C595.45,493.08 599.52,484.22 602.3,479.3C605.08,474.38 606.67,473.47 609.2,469.5C611.73,465.53 614.7,459.67 617.5,455.5C620.3,451.33 622.92,447.5 626,444.5C629.08,441.5 632.37,439.47 636,437.5C639.63,435.53 645.83,433.5 647.8,432.7L640,433L619.5,443L604.8,451L560,440L520,432Z" fill="url(#vg2)"/>
<path d="M496,434C501.83,433.33 521.87,438.63 540,442C558.13,445.37 596.47,450.87 604.8,454.2C613.13,457.53 597.47,460.03 590,462C582.53,463.97 570,466.33 560,466C550,465.67 539.17,463.33 530,460C520.83,456.67 510.67,450.33 505,446C499.33,441.67 490.17,434.67 496,434Z" fill="#7070f4" opacity="0.5"/>
<path d="M604.8,454.2L619.5,445.4L643.1,439.5L678,427.4L678,428.6L652,442.4L634.3,440L622.5,448.3L612,452Z" fill="#8282f6"/>
<path d="M479.8,430.4L486.8,432.1L604.8,454.2L619.5,445.4L643.1,439.5L678,427.4L660.8,433.6L652,442.4L641.7,435L638.7,427.1L628.4,433.6L619.5,423.3L573.3,414.6L522.2,424.7L516.3,433.6L489.8,430.6Z" fill="#7373f7"/>
<path d="M540,440 L560,432 L585,446 Z" fill="#8484f7" opacity="0.5"/>
<path d="M590,445 L600,436 L612,448 Z" fill="#8484f7" opacity="0.5"/>
<text x="476.2" y="434.9" font-family="'Liberation Serif', serif" font-size="11.5" font-weight="bold" fill="#000" text-anchor="end" >0</text>
<text x="479.3" y="470.7" font-family="'Liberation Serif', serif" font-size="11.5" font-weight="bold" fill="#000" text-anchor="end" >1</text>
<text x="480.3" y="508.9" font-family="'Liberation Serif', serif" font-size="11.5" font-weight="bold" fill="#000" text-anchor="end" >2</text>
<text x="481.8" y="543.4" font-family="'Liberation Serif', serif" font-size="11.5" font-weight="bold" fill="#000" text-anchor="end" >3</text>
<text x="466.2" y="502" font-family="'Liberation Serif', serif" font-size="11.5" font-weight="bold" fill="#000" text-anchor="middle" transform="rotate(-90 466.2 502)" >WT-magnitude</text>
<text x="588" y="505" font-family="'Liberation Serif', serif" font-size="10.5" font-weight="bold" fill="#000" text-anchor="start" transform="rotate(11 588 505)" >6%-MoS<tspan dy="2.94" font-size="7.56">2</tspan><tspan dy="-2.94">/Zn</tspan><tspan dy="2.94" font-size="7.56">3</tspan><tspan dy="-2.94">In</tspan><tspan dy="2.94" font-size="7.56">4</tspan><tspan dy="-2.94">S</tspan><tspan dy="2.94" font-size="7.56">9</tspan><tspan dy="-2.94"></tspan></text>
<text x="558.4" y="570.2" font-family="'Liberation Serif', serif" font-size="11" font-weight="bold" fill="#000" text-anchor="middle" transform="rotate(22 558.4 570.2)" >Zn-S</text>
<text x="479" y="568" font-family="'Liberation Serif', serif" font-size="9.5" font-weight="bold" fill="#000" text-anchor="middle" transform="rotate(-45 479 568)" >0</text>
<text x="512" y="579" font-family="'Liberation Serif', serif" font-size="9.5" font-weight="bold" fill="#000" text-anchor="middle" transform="rotate(-45 512 579)" >5</text>
<text x="544" y="592" font-family="'Liberation Serif', serif" font-size="9.5" font-weight="bold" fill="#000" text-anchor="middle" transform="rotate(-45 544 592)" >10</text>
<text x="585" y="606" font-family="'Liberation Serif', serif" font-size="9.5" font-weight="bold" fill="#000" text-anchor="middle" transform="rotate(-45 585 606)" >15</text>
<text x="508.4" y="599.5" font-family="'Liberation Serif', serif" font-size="12" font-weight="bold" fill="#000" text-anchor="middle" transform="rotate(33 508.4 599.5)" >k (Å<tspan dy="-3.5" font-size="8">-1</tspan><tspan dy="3.5">)</tspan></text>
<text x="599.5" y="606" font-family="'Liberation Serif', serif" font-size="9.5" font-weight="bold" fill="#000" text-anchor="middle" transform="rotate(-45 599.5 606)" >0</text>
<text x="628.5" y="588.5" font-family="'Liberation Serif', serif" font-size="9.5" font-weight="bold" fill="#000" text-anchor="middle" transform="rotate(-45 628.5 588.5)" >2</text>
<text x="655" y="574.5" font-family="'Liberation Serif', serif" font-size="9.5" font-weight="bold" fill="#000" text-anchor="middle" transform="rotate(-45 655 574.5)" >4</text>
<text x="678.5" y="563" font-family="'Liberation Serif', serif" font-size="9.5" font-weight="bold" fill="#000" text-anchor="middle" transform="rotate(-45 678.5 563)" >6</text>
<text x="661" y="593" font-family="'Liberation Serif', serif" font-size="12" font-weight="bold" fill="#000" text-anchor="middle" transform="rotate(-42 661 593)" >R+α (Å)</text>
</svg>
</body></html>
